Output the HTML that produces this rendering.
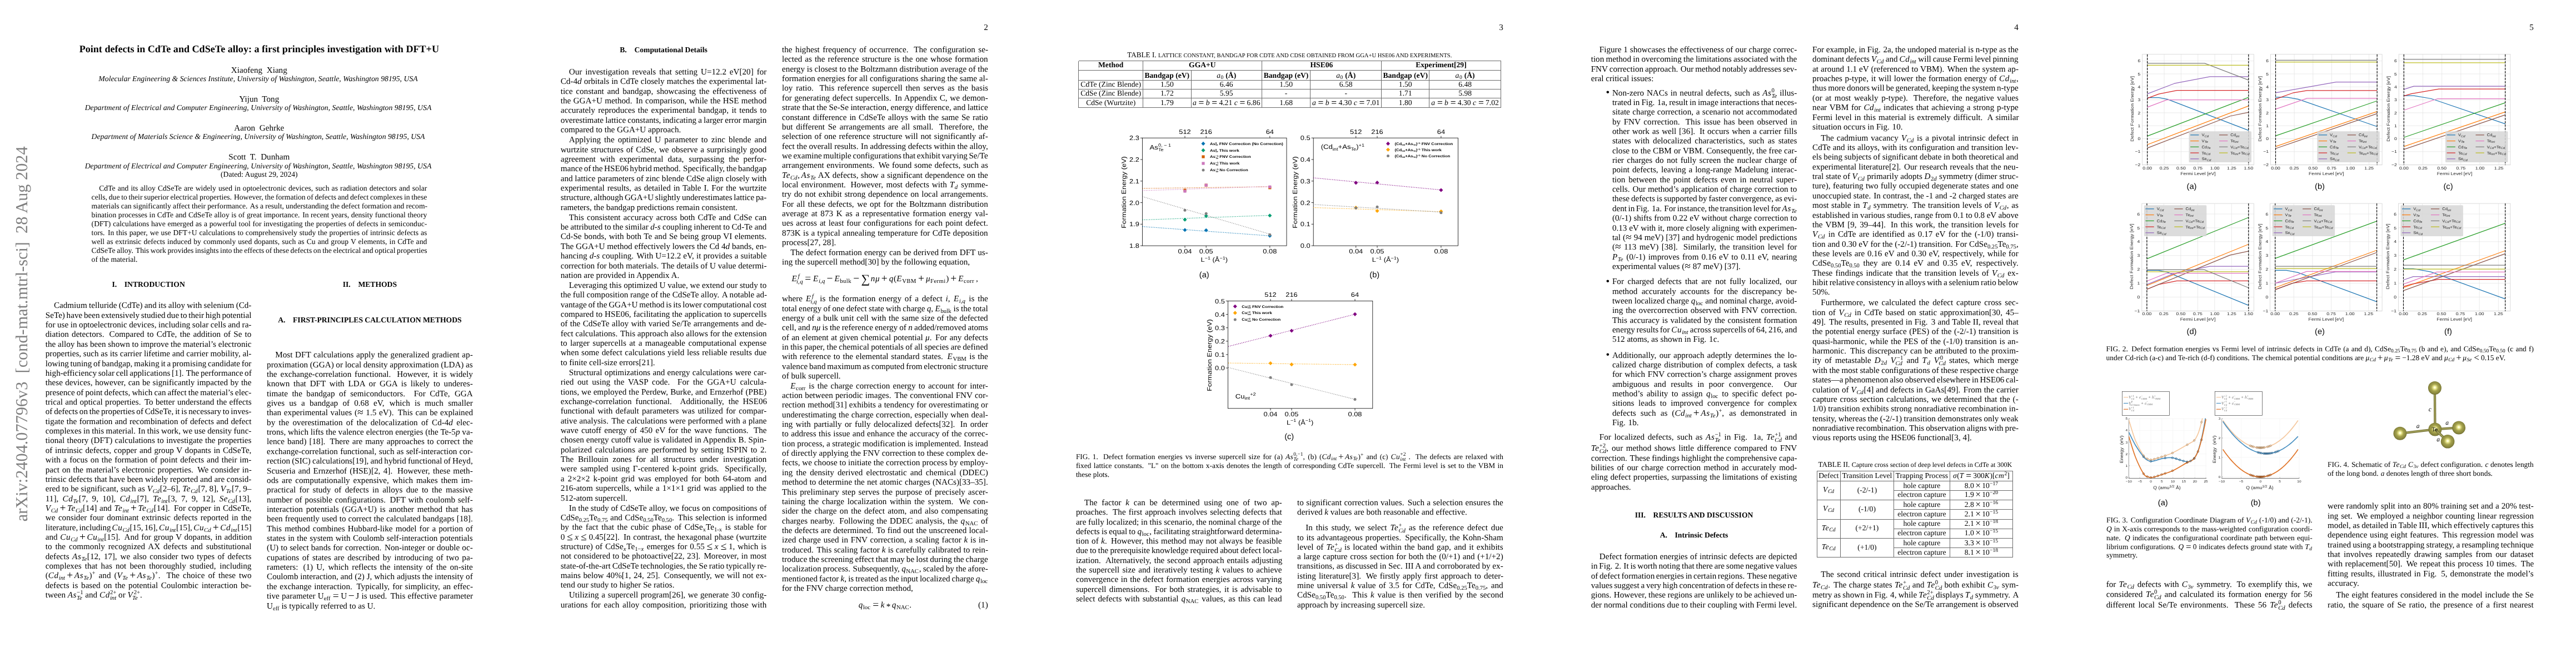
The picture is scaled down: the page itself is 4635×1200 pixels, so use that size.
<!DOCTYPE html>
<html><head><meta charset="utf-8"><title>paper</title>
<style>
html,body{margin:0;padding:0}
body{background:#fff;width:4635px;height:1200px;position:relative;overflow:hidden;font-family:"Liberation Serif",serif;color:#000;text-rendering:geometricPrecision;transform:translateZ(0)}
.l{position:absolute;white-space:nowrap;line-height:30px;height:30px}
.l i{font-style:italic}
.l sub,.l sup{font-size:70%;line-height:0}
.l sub{vertical-align:-0.24em}
.m sub{margin-right:.06em}
.l sup{vertical-align:0.52em}
.st{display:inline-block;font-size:70%;line-height:.95;vertical-align:-0.36em;text-align:left}
.st>span{display:block}
.ms{display:inline-block;width:.17em}
.rs{display:inline-block;width:.24em}
.op{font-size:128%;line-height:0;position:relative;top:.05em}
.m i{letter-spacing:.04em}
.m sub i,.m sup i,.m .st i{letter-spacing:0}
.st .ic{margin-left:.12em}
.st .ic+.sb{margin-left:-.12em}
.ast{position:relative;top:.2em}
.m sub,.m sup,.m .st{font-size:71%}
.ts{display:inline-block;width:.167em}
.sum{font-size:145%;display:inline-block;vertical-align:-0.14em;line-height:0;margin:0 .06em 0 .02em}
.b{font-weight:bold}
svg{position:absolute;overflow:visible}
svg text{font-family:"Liberation Sans",sans-serif}
</style></head>
<body>
<div class="l b" style="top:73px;font-size:18.1px;left:-133.70px;width:1200px;text-align:center;">Point defects in CdTe and CdSeTe alloy: a first principles investigation with DFT+U</div>
<div class="l" style="top:112px;font-size:15.15px;left:-133.70px;width:1200px;text-align:center;">Xiaofeng&nbsp; Xiang</div>
<div class="l" style="top:127px;font-size:13.77px;left:-135.50px;width:1200px;text-align:center;"><i>Molecular Engineering &amp; Sciences Institute, University of Washington, Seattle, Washington 98195, USA</i></div>
<div class="l" style="top:164px;font-size:15.15px;left:-133.70px;width:1200px;text-align:center;">Yijun&nbsp; Tong</div>
<div class="l" style="top:179px;font-size:13.77px;left:-135.50px;width:1200px;text-align:center;"><i>Department of Electrical and Computer Engineering, University of Washington, Seattle, Washington 98195, USA</i></div>
<div class="l" style="top:216px;font-size:15.15px;left:-133.70px;width:1200px;text-align:center;">Aaron&nbsp; Gehrke</div>
<div class="l" style="top:231px;font-size:13.77px;left:-135.50px;width:1200px;text-align:center;"><i>Department of Materials Science &amp; Engineering, University of Washington, Seattle, Washington 98195, USA</i></div>
<div class="l" style="top:268px;font-size:15.15px;left:-133.70px;width:1200px;text-align:center;">Scott&nbsp; T.&nbsp; Dunham</div>
<div class="l" style="top:284px;font-size:13.77px;left:-135.50px;width:1200px;text-align:center;"><i>Department of Electrical and Computer Engineering, University of Washington, Seattle, Washington 98195, USA</i></div>
<div class="l" style="top:299px;font-size:13.64px;left:-133.70px;width:1200px;text-align:center;">(Dated: August 29, 2024)</div>
<div class="l" style="top:324px;font-size:13.64px;left:178.24px;word-spacing:0.735px;">CdTe and its alloy CdSeTe are widely used in optoelectronic devices, <span style="margin-left:0.18px"></span>such as radiation detectors and solar</div>
<div class="l" style="top:340px;font-size:13.64px;left:164.60px;word-spacing:-0.710px;">cells, <span style="margin-left:0.14px"></span>due to their superior electrical properties. <span style="margin-left:1.29px"></span>However, <span style="margin-left:0.14px"></span>the formation of defects and defect complexes in these</div>
<div class="l" style="top:356px;font-size:13.64px;left:164.60px;word-spacing:-0.224px;">materials can significantly affect their performance. <span style="margin-left:0.97px"></span>As a result, <span style="margin-left:0.04px"></span>understanding the defect formation and recom-</div>
<div class="l" style="top:372px;font-size:13.64px;left:164.60px;word-spacing:0.175px;">bination processes in CdTe and CdSeTe alloy is of great importance. <span style="margin-left:1.17px"></span>In recent years, <span style="margin-left:0.04px"></span>density functional theory</div>
<div class="l" style="top:388px;font-size:13.64px;left:164.60px;word-spacing:0.334px;">(DFT) calculations have emerged as a powerful tool for investigating the properties of defects in semiconduc-</div>
<div class="l" style="top:404px;font-size:13.64px;left:164.60px;word-spacing:0.424px;">tors. <span style="margin-left:1.67px"></span>In this paper, <span style="margin-left:0.11px"></span>we use DFT+U calculations to comprehensively study the properties of intrinsic defects as</div>
<div class="l" style="top:420px;font-size:13.64px;left:164.60px;word-spacing:0.639px;">well as extrinsic defects induced by commonly used dopants, <span style="margin-left:0.16px"></span>such as Cu and group V elements, <span style="margin-left:0.16px"></span>in CdTe and</div>
<div class="l" style="top:436px;font-size:13.64px;left:164.60px;word-spacing:-0.751px;">CdSeTe alloy. <span style="margin-left:1.32px"></span>This work provides insights into the effects of these defects on the electrical and optical properties</div>
<div class="l" style="top:452px;font-size:13.64px;left:164.60px;">of the material.</div>
<div class="l b" style="top:497px;font-size:13.64px;left:-332.90px;width:1200px;text-align:center;">I.<span style="display:inline-block;width:1em"></span>INTRODUCTION</div>
<div class="l b" style="top:497px;font-size:13.64px;left:65.40px;width:1200px;text-align:center;">II.<span style="display:inline-block;width:1em"></span>METHODS</div>
<div class="l b" style="top:561px;font-size:13.64px;left:65.40px;width:1200px;text-align:center;">A.<span style="display:inline-block;width:1em"></span>FIRST-PRINCIPLES CALCULATION METHODS</div>
<div class="l" style="top:535px;font-size:15.15px;left:96.95px;word-spacing:-0.430px;">Cadmium telluride (CdTe) and its alloy with selenium (Cd-</div>
<div class="l" style="top:553px;font-size:15.15px;left:81.80px;word-spacing:-1.077px;">SeTe) have been extensively studied due to their high potential</div>
<div class="l" style="top:570px;font-size:15.15px;left:81.80px;word-spacing:-0.216px;">for use in optoelectronic devices, <span style="margin-left:0.04px"></span>including solar cells and ra-</div>
<div class="l" style="top:587px;font-size:15.15px;left:81.80px;word-spacing:1.446px;">diation detectors. <span style="margin-left:3.80px"></span>Compared to CdTe, <span style="margin-left:0.36px"></span>the addition of Se to</div>
<div class="l" style="top:605px;font-size:15.15px;left:81.80px;word-spacing:-0.072px;">the alloy has been shown to improve the material’s electronic</div>
<div class="l" style="top:622px;font-size:15.15px;left:81.80px;word-spacing:-0.056px;">properties, <span style="margin-left:0.01px"></span>such as its carrier lifetime and carrier mobility, <span style="margin-left:0.01px"></span>al-</div>
<div class="l" style="top:640px;font-size:15.15px;left:81.80px;word-spacing:-1.082px;">lowing tuning of bandgap, <span style="margin-left:0.22px"></span>making it a promising candidate for</div>
<div class="l" style="top:657px;font-size:15.15px;left:81.80px;word-spacing:-1.149px;">high-efficiency solar cell applications [1]. <span style="margin-left:1.68px"></span>The performance of</div>
<div class="l" style="top:674px;font-size:15.15px;left:81.80px;word-spacing:0.541px;">these devices, <span style="margin-left:0.14px"></span>however, <span style="margin-left:0.14px"></span>can be significantly impacted by the</div>
<div class="l" style="top:692px;font-size:15.15px;left:81.80px;word-spacing:-0.752px;">presence of point defects, <span style="margin-left:0.15px"></span>which can affect the material’s elec-</div>
<div class="l" style="top:709px;font-size:15.15px;left:81.80px;word-spacing:0.596px;">trical and optical properties. <span style="margin-left:2.10px"></span>To better understand the effects</div>
<div class="l" style="top:726px;font-size:15.15px;left:81.80px;word-spacing:-1.015px;">of defects on the properties of CdSeTe, <span style="margin-left:0.20px"></span>it is necessary to inves-</div>
<div class="l" style="top:744px;font-size:15.15px;left:81.80px;word-spacing:0.606px;">tigate the formation and recombination of defects and defect</div>
<div class="l" style="top:761px;font-size:15.15px;left:81.80px;word-spacing:-0.313px;">complexes in this material. <span style="margin-left:1.12px"></span>In this work, <span style="margin-left:0.06px"></span>we use density func-</div>
<div class="l" style="top:778px;font-size:15.15px;left:81.80px;word-spacing:0.505px;">tional theory (DFT) calculations to investigate the properties</div>
<div class="l" style="top:796px;font-size:15.15px;left:81.80px;word-spacing:0.918px;">of intrinsic defects, <span style="margin-left:0.23px"></span>copper and group V dopants in CdSeTe,</div>
<div class="l" style="top:813px;font-size:15.15px;left:81.80px;word-spacing:1.086px;">with a focus on the formation of point defects and their im-</div>
<div class="l" style="top:831px;font-size:15.15px;left:81.80px;word-spacing:0.921px;">pact on the material’s electronic properties. <span style="margin-left:2.75px"></span>We consider in-</div>
<div class="l" style="top:848px;font-size:15.15px;left:81.80px;word-spacing:-0.069px;">trinsic defects that have been widely reported and are consid-</div>
<div class="l" style="top:865px;font-size:15.15px;left:81.80px;word-spacing:0.013px;">ered to be significant, such as <span class=m><i>V</i><sub><i>Cd</i></sub></span>[2–6], <span class=m><i>Te</i><sub><i>Cd</i></sub></span>[7, 8], <span class=m><i>V</i><sub><i>Te</i></sub></span>[7, 9–</div>
<div class="l" style="top:883px;font-size:15.15px;left:81.80px;word-spacing:2.844px;">11], <span style="margin-left:0.71px"></span><span class=m><i>Cd</i><sub><i>Te</i></sub></span>[7, <span style="margin-left:0.71px"></span>9, <span style="margin-left:0.71px"></span>10], <span style="margin-left:0.71px"></span><span class=m><i>Cd</i><sub><i>int</i></sub></span>[7], <span style="margin-left:0.71px"></span><span class=m><i>Te</i><sub><i>int</i></sub></span>[3, <span style="margin-left:0.71px"></span>7, <span style="margin-left:0.71px"></span>9, <span style="margin-left:0.71px"></span>12], <span style="margin-left:0.71px"></span><span class=m><i>Se</i><sub><i>Cd</i></sub></span>[13],</div>
<div class="l" style="top:900px;font-size:15.15px;left:81.80px;word-spacing:0.864px;"><span class=m><i>V</i><sub><i>Cd</i></sub><span class=ms></span><span class=op>+</span><span class=ms></span><i>Te</i><sub><i>Cd</i></sub></span>[14] and <span class=m><i>Te</i><sub><i>int</i></sub><span class=ms></span><span class=op>+</span><span class=ms></span><i>Te</i><sub><i>Cd</i></sub></span>[14]. <span style="margin-left:2.64px"></span>For copper in CdSeTe,</div>
<div class="l" style="top:917px;font-size:15.15px;left:81.80px;word-spacing:1.653px;">we consider four dominant extrinsic defects reported in the</div>
<div class="l" style="top:935px;font-size:15.15px;left:81.80px;word-spacing:-1.900px;letter-spacing:-0.003px;">literature, <span style="margin-left:0.38px"></span>including <span class=m><i>Cu</i><sub><i>Cd</i></sub></span>[15, <span style="margin-left:0.38px"></span>16], <span style="margin-left:0.38px"></span><span class=m><i>Cu</i><sub><i>int</i></sub></span>[15], <span style="margin-left:0.38px"></span><span class=m><i>Cu</i><sub><i>Cd</i></sub><span class=ms></span><span class=op>+</span><span class=ms></span><i>Cd</i><sub><i>int</i></sub></span>[15]</div>
<div class="l" style="top:952px;font-size:15.15px;left:81.80px;word-spacing:0.839px;">and <span class=m><i>Cu</i><sub><i>Cd</i></sub><span class=ms></span><span class=op>+</span><span class=ms></span><i>Cu</i><sub><i>int</i></sub></span>[15]. <span style="margin-left:2.59px"></span>And for group V dopants, <span style="margin-left:0.21px"></span>in addition</div>
<div class="l" style="top:969px;font-size:15.15px;left:81.80px;word-spacing:2.184px;">to the commonly recognized AX defects and substitutional</div>
<div class="l" style="top:987px;font-size:15.15px;left:81.80px;word-spacing:1.626px;">defects <span class=m><i>As</i><sub><i>Te</i></sub></span>[12, <span style="margin-left:0.41px"></span>17], <span style="margin-left:0.41px"></span>we also consider two types of defects</div>
<div class="l" style="top:1004px;font-size:15.15px;left:81.80px;word-spacing:2.397px;">complexes that has not been thoroughly studied, <span style="margin-left:0.60px"></span>including</div>
<div class="l" style="top:1021px;font-size:15.15px;left:81.80px;word-spacing:2.131px;"><span class=m>(<i>Cd</i><sub><i>int</i></sub><span class=ms></span><span class=op>+</span><span class=ms></span><i>As</i><sub><i>Te</i></sub>)<sup>+</sup></span> and <span class=m>(<i>V</i><sub><i>Te</i></sub><span class=ms></span><span class=op>+</span><span class=ms></span><i>As</i><sub><i>Te</i></sub>)<sup>+</sup></span>. <span style="margin-left:5.17px"></span>The choice of these two</div>
<div class="l" style="top:1039px;font-size:15.15px;left:81.80px;word-spacing:1.862px;">defects is based on the potential Coulombic interaction be-</div>
<div class="l" style="top:1056px;font-size:15.15px;left:81.80px;">tween <span class=m><i>As</i><span class=st><span class="su">−1</span><span class=sb><i>Te</i></span></span></span> and <span class=m><i>Cd</i><span class=st><span class="su">2+</span><span class=sb><i>int</i></span></span></span> or <span class=m><i>V</i><span class=st><span class="su ic">2+</span><span class=sb><i>Te</i></span></span></span>.</div>
<div class="l" style="top:624px;font-size:15.15px;left:495.25px;word-spacing:0.906px;">Most DFT calculations apply the generalized gradient ap-</div>
<div class="l" style="top:642px;font-size:15.15px;left:480.10px;word-spacing:-0.097px;">proximation (GGA) or local density approximation (LDA) as</div>
<div class="l" style="top:659px;font-size:15.15px;left:480.10px;word-spacing:2.078px;">the exchange-correlation functional. <span style="margin-left:5.07px"></span>However, <span style="margin-left:0.52px"></span>it is widely</div>
<div class="l" style="top:676px;font-size:15.15px;left:480.10px;word-spacing:3.023px;">known that DFT with LDA or GGA is likely to underes-</div>
<div class="l" style="top:694px;font-size:15.15px;left:480.10px;word-spacing:3.669px;">timate the bandgap of semiconductors. <span style="margin-left:8.25px"></span>For CdTe, <span style="margin-left:0.92px"></span>GGA</div>
<div class="l" style="top:711px;font-size:15.15px;left:480.10px;word-spacing:4.430px;">gives us a bandgap of 0.68 eV, <span style="margin-left:1.11px"></span>which is much smaller</div>
<div class="l" style="top:728px;font-size:15.15px;left:480.10px;word-spacing:0.904px;">than experimental values (<span class=m><span class=op>≈</span></span> 1.5 eV). <span style="margin-left:2.72px"></span>This can be explained</div>
<div class="l" style="top:746px;font-size:15.15px;left:480.10px;word-spacing:2.598px;">by the overestimation of the delocalization of Cd-4<i>d</i> elec-</div>
<div class="l" style="top:763px;font-size:15.15px;left:480.10px;word-spacing:0.060px;">trons, <span style="margin-left:0.01px"></span>which lifts the valence electron energies (the Te-5<i>p</i> va-</div>
<div class="l" style="top:780px;font-size:15.15px;left:480.10px;word-spacing:1.151px;">lence band) [18]. <span style="margin-left:3.21px"></span>There are many approaches to correct the</div>
<div class="l" style="top:798px;font-size:15.15px;left:480.10px;word-spacing:0.504px;">exchange-correlation functional, <span style="margin-left:0.13px"></span>such as self-interaction cor-</div>
<div class="l" style="top:815px;font-size:15.15px;left:480.10px;word-spacing:-0.716px;">rection (SIC) calculations[19], <span style="margin-left:0.14px"></span>and hybrid functional of Heyd,</div>
<div class="l" style="top:833px;font-size:15.15px;left:480.10px;word-spacing:1.361px;">Scuseria and Ernzerhof (HSE)[2, <span style="margin-left:0.34px"></span>4]. <span style="margin-left:3.63px"></span>However, <span style="margin-left:0.34px"></span>these meth-</div>
<div class="l" style="top:850px;font-size:15.15px;left:480.10px;word-spacing:2.053px;">ods are computationally expensive, <span style="margin-left:0.51px"></span>which makes them im-</div>
<div class="l" style="top:867px;font-size:15.15px;left:480.10px;word-spacing:2.582px;">practical for study of defects in alloys due to the massive</div>
<div class="l" style="top:885px;font-size:15.15px;left:480.10px;word-spacing:0.924px;">number of possible configurations. <span style="margin-left:2.76px"></span>DFT with coulomb self-</div>
<div class="l" style="top:902px;font-size:15.15px;left:480.10px;word-spacing:2.048px;">interaction potentials (GGA+U) is another method that has</div>
<div class="l" style="top:919px;font-size:15.15px;left:480.10px;word-spacing:0.239px;">been frequently used to correct the calculated bandgaps [18].</div>
<div class="l" style="top:937px;font-size:15.15px;left:480.10px;word-spacing:1.333px;">This method combines Hubbard-like model for a portion of</div>
<div class="l" style="top:954px;font-size:15.15px;left:480.10px;word-spacing:0.619px;">states in the system with Coulomb self-interaction potentials</div>
<div class="l" style="top:971px;font-size:15.15px;left:480.10px;word-spacing:0.357px;">(U) to select bands for correction. <span style="margin-left:1.62px"></span>Non-integer or double oc-</div>
<div class="l" style="top:989px;font-size:15.15px;left:480.10px;word-spacing:1.796px;">cupations of states are described by introducing of two pa-</div>
<div class="l" style="top:1006px;font-size:15.15px;left:480.10px;word-spacing:2.186px;">rameters: <span style="margin-left:3.10px"></span>(1) U, <span style="margin-left:0.55px"></span>which reflects the intensity of the on-site</div>
<div class="l" style="top:1023px;font-size:15.15px;left:480.10px;word-spacing:0.014px;">Coulomb interaction, and (2) J, which adjusts the intensity of</div>
<div class="l" style="top:1041px;font-size:15.15px;left:480.10px;word-spacing:0.967px;">the exchange interaction. <span style="margin-left:2.84px"></span>Typically, <span style="margin-left:0.24px"></span>for simplicity, <span style="margin-left:0.24px"></span>an effec-</div>
<div class="l" style="top:1058px;font-size:15.15px;left:480.10px;word-spacing:0.452px;">tive parameter <span class=m>U<sub>eff</sub><span class=rs></span><span class=op>=</span><span class=rs></span>U<span class=ms></span><span class=op>−</span><span class=ms></span>J</span> is used. <span style="margin-left:1.81px"></span>This effective parameter</div>
<div class="l" style="top:1076px;font-size:15.15px;left:480.10px;">U<sub>eff</sub> is typically referred to as U.</div>
<div class="l" style="top:35px;font-size:15.15px;left:577.90px;width:1200px;text-align:right;">2</div>
<div class="l b" style="top:75px;font-size:13.64px;left:594.00px;width:1200px;text-align:center;">B.<span style="display:inline-block;width:1em"></span>Computational Details</div>
<div class="l" style="top:115px;font-size:15.15px;left:1023.85px;word-spacing:2.104px;">Our investigation reveals that setting U=12.2 eV[20] for</div>
<div class="l" style="top:132px;font-size:15.15px;left:1008.70px;word-spacing:0.311px;">Cd-4<i>d</i> orbitals in CdTe closely matches the experimental lat-</div>
<div class="l" style="top:150px;font-size:15.15px;left:1008.70px;word-spacing:1.979px;">tice constant and bandgap, <span style="margin-left:0.49px"></span>showcasing the effectiveness of</div>
<div class="l" style="top:167px;font-size:15.15px;left:1008.70px;word-spacing:0.609px;">the GGA+U method. <span style="margin-left:2.13px"></span>In comparison, <span style="margin-left:0.15px"></span>while the HSE method</div>
<div class="l" style="top:184px;font-size:15.15px;left:1008.70px;word-spacing:1.479px;">accurately reproduces the experimental bandgap, <span style="margin-left:0.37px"></span>it tends to</div>
<div class="l" style="top:202px;font-size:15.15px;left:1008.70px;word-spacing:-0.691px;">overestimate lattice constants, <span style="margin-left:0.14px"></span>indicating a larger error margin</div>
<div class="l" style="top:219px;font-size:15.15px;left:1008.70px;">compared to the GGA+U approach.</div>
<div class="l" style="top:237px;font-size:15.15px;left:1023.85px;word-spacing:2.281px;">Applying the optimized U parameter to zinc blende and</div>
<div class="l" style="top:255px;font-size:15.15px;left:1008.70px;word-spacing:1.037px;">wurtzite structures of CdSe, <span style="margin-left:0.26px"></span>we observe a surprisingly good</div>
<div class="l" style="top:272px;font-size:15.15px;left:1008.70px;word-spacing:4.119px;">agreement with experimental data, <span style="margin-left:1.03px"></span>surpassing the perfor-</div>
<div class="l" style="top:289px;font-size:15.15px;left:1008.70px;word-spacing:-1.204px;">mance of the HSE06 hybrid method. <span style="margin-left:1.71px"></span>Specifically, <span style="margin-left:0.24px"></span>the bandgap</div>
<div class="l" style="top:307px;font-size:15.15px;left:1008.70px;word-spacing:0.022px;">and lattice parameters of zinc blende CdSe align closely with</div>
<div class="l" style="top:324px;font-size:15.15px;left:1008.70px;word-spacing:1.165px;">experimental results, <span style="margin-left:0.29px"></span>as detailed in Table I. For the wurtzite</div>
<div class="l" style="top:341px;font-size:15.15px;left:1008.70px;word-spacing:-1.155px;">structure, <span style="margin-left:0.23px"></span>although GGA+U slightly underestimates lattice pa-</div>
<div class="l" style="top:359px;font-size:15.15px;left:1008.70px;">rameters, the bandgap predictions remain consistent.</div>
<div class="l" style="top:377px;font-size:15.15px;left:1023.85px;word-spacing:1.361px;">This consistent accuracy across both CdTe and CdSe can</div>
<div class="l" style="top:394px;font-size:15.15px;left:1008.70px;word-spacing:-0.427px;">be attributed to the similar <i>d</i>-<i>s</i> coupling inherent to Cd-Te and</div>
<div class="l" style="top:411px;font-size:15.15px;left:1008.70px;word-spacing:0.702px;">Cd-Se bonds, <span style="margin-left:0.18px"></span>with both Te and Se being group VI elements.</div>
<div class="l" style="top:429px;font-size:15.15px;left:1008.70px;word-spacing:0.078px;">The GGA+U method effectively lowers the Cd 4<i>d</i> bands, <span style="margin-left:0.02px"></span>en-</div>
<div class="l" style="top:446px;font-size:15.15px;left:1008.70px;word-spacing:0.281px;">hancing <i>d</i>-<i>s</i> coupling. <span style="margin-left:1.47px"></span>With U=12.2 eV, <span style="margin-left:0.07px"></span>it provides a suitable</div>
<div class="l" style="top:464px;font-size:15.15px;left:1008.70px;word-spacing:-0.001px;">correction for both materials. <span style="margin-left:0.91px"></span>The details of U value determi-</div>
<div class="l" style="top:481px;font-size:15.15px;left:1008.70px;">nation are provided in Appendix A.</div>
<div class="l" style="top:499px;font-size:15.15px;left:1023.85px;word-spacing:-0.031px;">Leveraging this optimized U value, we extend our study to</div>
<div class="l" style="top:516px;font-size:15.15px;left:1008.70px;word-spacing:-0.132px;">the full composition range of the CdSeTe alloy. <span style="margin-left:1.00px"></span>A notable ad-</div>
<div class="l" style="top:534px;font-size:15.15px;left:1008.70px;word-spacing:-1.025px;">vantage of the GGA+U method is its lower computational cost</div>
<div class="l" style="top:551px;font-size:15.15px;left:1008.70px;word-spacing:0.197px;">compared to HSE06, <span style="margin-left:0.05px"></span>facilitating the application to supercells</div>
<div class="l" style="top:568px;font-size:15.15px;left:1008.70px;word-spacing:0.631px;">of the CdSeTe alloy with varied Se/Te arrangements and de-</div>
<div class="l" style="top:586px;font-size:15.15px;left:1008.70px;word-spacing:0.039px;">fect calculations. <span style="margin-left:0.99px"></span>This approach also allows for the extension</div>
<div class="l" style="top:603px;font-size:15.15px;left:1008.70px;word-spacing:1.633px;">to larger supercells at a manageable computational expense</div>
<div class="l" style="top:620px;font-size:15.15px;left:1008.70px;word-spacing:0.813px;">when some defect calculations yield less reliable results due</div>
<div class="l" style="top:638px;font-size:15.15px;left:1008.70px;">to finite cell-size errors[21].</div>
<div class="l" style="top:656px;font-size:15.15px;left:1023.85px;word-spacing:0.478px;">Structural optimizations and energy calculations were car-</div>
<div class="l" style="top:673px;font-size:15.15px;left:1008.70px;word-spacing:3.039px;">ried out using the VASP code. <span style="margin-left:6.99px"></span>For the GGA+U calcula-</div>
<div class="l" style="top:691px;font-size:15.15px;left:1008.70px;word-spacing:0.228px;">tions, <span style="margin-left:0.06px"></span>we employed the Perdew, <span style="margin-left:0.06px"></span>Burke, <span style="margin-left:0.06px"></span>and Ernzerhof (PBE)</div>
<div class="l" style="top:708px;font-size:15.15px;left:1008.70px;word-spacing:3.336px;">exchange-correlation functional. <span style="margin-left:7.58px"></span>Additionally, <span style="margin-left:0.83px"></span>the HSE06</div>
<div class="l" style="top:725px;font-size:15.15px;left:1008.70px;word-spacing:1.514px;">functional with default parameters was utilized for compar-</div>
<div class="l" style="top:743px;font-size:15.15px;left:1008.70px;word-spacing:0.294px;">ative analysis. <span style="margin-left:1.50px"></span>The calculations were performed with a plane</div>
<div class="l" style="top:760px;font-size:15.15px;left:1008.70px;word-spacing:1.575px;">wave cutoff energy of 450 eV for the wave functions. <span style="margin-left:4.06px"></span>The</div>
<div class="l" style="top:777px;font-size:15.15px;left:1008.70px;word-spacing:0.218px;">chosen energy cutoff value is validated in Appendix B. Spin-</div>
<div class="l" style="top:795px;font-size:15.15px;left:1008.70px;word-spacing:1.704px;">polarized calculations are performed by setting ISPIN to 2.</div>
<div class="l" style="top:812px;font-size:15.15px;left:1008.70px;word-spacing:3.867px;">The Brillouin zones for all structures under investigation</div>
<div class="l" style="top:829px;font-size:15.15px;left:1008.70px;word-spacing:2.039px;">were sampled using Γ-centered k-point grids. <span style="margin-left:4.99px"></span>Specifically,</div>
<div class="l" style="top:847px;font-size:15.15px;left:1008.70px;word-spacing:2.417px;">a 2×2×2 k-point grid was employed for both 64-atom and</div>
<div class="l" style="top:864px;font-size:15.15px;left:1008.70px;word-spacing:1.217px;">216-atom supercells, <span style="margin-left:0.30px"></span>while a 1×1×1 grid was applied to the</div>
<div class="l" style="top:882px;font-size:15.15px;left:1008.70px;">512-atom supercell.</div>
<div class="l" style="top:900px;font-size:15.15px;left:1023.85px;word-spacing:0.128px;">In the study of CdSeTe alloy, <span style="margin-left:0.03px"></span>we focus on compositions of</div>
<div class="l" style="top:917px;font-size:15.15px;left:1008.70px;word-spacing:0.702px;">CdSe<sub>0.25</sub>Te<sub>0.75</sub> and CdSe<sub>0.50</sub>Te<sub>0.50</sub>. <span style="margin-left:2.31px"></span>This selection is informed</div>
<div class="l" style="top:934px;font-size:15.15px;left:1008.70px;word-spacing:1.938px;">by the fact that the cubic phase of CdSe<sub>x</sub>Te<sub>1-x</sub> is stable for</div>
<div class="l" style="top:952px;font-size:15.15px;left:1008.70px;word-spacing:0.802px;"><span class=m>0<span class=rs></span><span class=op>≤</span><span class=rs></span><i>x</i><span class=rs></span><span class=op>≤</span><span class=rs></span>0.45</span>[22]. <span style="margin-left:2.51px"></span>In contrast, <span style="margin-left:0.20px"></span>the hexagonal phase (wurtzite</div>
<div class="l" style="top:969px;font-size:15.15px;left:1008.70px;word-spacing:1.038px;">structure) of CdSe<span class=m><sub><i>x</i></sub></span>Te<span class=m><sub>1−<i>x</i></sub></span> emerges for <span class=m>0.55<span class=rs></span><span class=op>≤</span><span class=rs></span><i>x</i><span class=rs></span><span class=op>≤</span><span class=rs></span>1</span>, <span style="margin-left:0.26px"></span>which is</div>
<div class="l" style="top:986px;font-size:15.15px;left:1008.70px;word-spacing:0.546px;">not considered to be photoactive[22, <span style="margin-left:0.14px"></span>23]. <span style="margin-left:2.00px"></span>Moreover, <span style="margin-left:0.14px"></span>in most</div>
<div class="l" style="top:1004px;font-size:15.15px;left:1008.70px;word-spacing:-0.741px;">state-of-the-art CdSeTe technologies, <span style="margin-left:0.15px"></span>the Se ratio typically re-</div>
<div class="l" style="top:1021px;font-size:15.15px;left:1008.70px;word-spacing:0.805px;">mains below 40%[1, <span style="margin-left:0.20px"></span>24, <span style="margin-left:0.20px"></span>25]. <span style="margin-left:2.52px"></span>Consequently, <span style="margin-left:0.20px"></span>we will not ex-</div>
<div class="l" style="top:1038px;font-size:15.15px;left:1008.70px;">tend our study to higher Se ratios.</div>
<div class="l" style="top:1056px;font-size:15.15px;left:1023.85px;word-spacing:0.782px;">Utilizing a supercell program[26], <span style="margin-left:0.20px"></span>we generate 30 config-</div>
<div class="l" style="top:1074px;font-size:15.15px;left:1008.70px;word-spacing:1.934px;">urations for each alloy composition, <span style="margin-left:0.48px"></span>prioritizing those with</div>
<div class="l" style="top:75px;font-size:15.15px;left:1407.10px;word-spacing:1.683px;">the highest frequency of occurrence. <span style="margin-left:4.27px"></span>The configuration se-</div>
<div class="l" style="top:92px;font-size:15.15px;left:1407.10px;word-spacing:1.240px;">lected as the reference structure is the one whose formation</div>
<div class="l" style="top:110px;font-size:15.15px;left:1407.10px;word-spacing:-0.044px;">energy is closest to the Boltzmann distribution average of the</div>
<div class="l" style="top:127px;font-size:15.15px;left:1407.10px;word-spacing:0.007px;">formation energies for all configurations sharing the same al-</div>
<div class="l" style="top:144px;font-size:15.15px;left:1407.10px;word-spacing:1.988px;">loy ratio. <span style="margin-left:4.88px"></span>This reference supercell then serves as the basis</div>
<div class="l" style="top:162px;font-size:15.15px;left:1407.10px;word-spacing:0.709px;">for generating defect supercells. <span style="margin-left:2.33px"></span>In Appendix C, <span style="margin-left:0.18px"></span>we demon-</div>
<div class="l" style="top:179px;font-size:15.15px;left:1407.10px;word-spacing:-0.283px;">strate that the Se-Se interaction, <span style="margin-left:0.06px"></span>energy difference, <span style="margin-left:0.06px"></span>and lattice</div>
<div class="l" style="top:197px;font-size:15.15px;left:1407.10px;word-spacing:1.101px;">constant difference in CdSeTe alloys with the same Se ratio</div>
<div class="l" style="top:214px;font-size:15.15px;left:1407.10px;word-spacing:1.915px;">but different Se arrangements are all small. <span style="margin-left:4.74px"></span>Therefore, <span style="margin-left:0.48px"></span>the</div>
<div class="l" style="top:231px;font-size:15.15px;left:1407.10px;word-spacing:0.921px;">selection of one reference structure will not significantly af-</div>
<div class="l" style="top:249px;font-size:15.15px;left:1407.10px;word-spacing:-0.170px;">fect the overall results. <span style="margin-left:1.02px"></span>In addressing defects within the alloy,</div>
<div class="l" style="top:266px;font-size:15.15px;left:1407.10px;word-spacing:-1.146px;">we examine multiple configurations that exhibit varying Se/Te</div>
<div class="l" style="top:283px;font-size:15.15px;left:1407.10px;word-spacing:0.811px;">arrangement environments. <span style="margin-left:2.53px"></span>We found some defects, <span style="margin-left:0.20px"></span>such as</div>
<div class="l" style="top:301px;font-size:15.15px;left:1407.10px;word-spacing:0.448px;"><span class=m><i>Te</i><sub><i>Cd</i></sub></span>,<span class=ts></span><span class=m><i>As</i><sub><i>Te</i></sub></span> AX defects, <span style="margin-left:0.11px"></span>show a significant dependence on the</div>
<div class="l" style="top:318px;font-size:15.15px;left:1407.10px;word-spacing:1.266px;">local environment. <span style="margin-left:3.44px"></span>However, <span style="margin-left:0.32px"></span>most defects with <span class=m><i>T</i><sub><i>d</i></sub></span> symme-</div>
<div class="l" style="top:335px;font-size:15.15px;left:1407.10px;word-spacing:0.970px;">try do not exhibit strong dependence on local arrangements.</div>
<div class="l" style="top:353px;font-size:15.15px;left:1407.10px;word-spacing:1.425px;">For all these defects, <span style="margin-left:0.36px"></span>we opt for the Boltzmann distribution</div>
<div class="l" style="top:370px;font-size:15.15px;left:1407.10px;word-spacing:1.832px;">average at 873 K as a representative formation energy val-</div>
<div class="l" style="top:387px;font-size:15.15px;left:1407.10px;word-spacing:1.098px;">ues across at least four configurations for each point defect.</div>
<div class="l" style="top:405px;font-size:15.15px;left:1407.10px;word-spacing:0.522px;">873K is a typical annealing temperature for CdTe deposition</div>
<div class="l" style="top:422px;font-size:15.15px;left:1407.10px;">process[27, 28].</div>
<div class="l" style="top:440px;font-size:15.15px;left:1422.25px;word-spacing:0.362px;">The defect formation energy can be derived from DFT us-</div>
<div class="l" style="top:457px;font-size:15.15px;left:1407.10px;">ing the supercell method[30] by the following equation,</div>
<div class="l" style="top:487px;font-size:15.15px;left:992.40px;width:1200px;text-align:center;letter-spacing:0.38px;"><span class=m><i>E</i><span class=st><span class="su ic"><i>f</i></span><span class=sb><i>i</i>,<i>q</i></span></span><span class=rs></span><span class=op>=</span><span class=rs></span><i>E</i><sub><i>i</i>,<i>q</i></sub><span class=ms></span><span class=op>−</span><span class=ms></span><i>E</i><sub>bulk</sub><span class=ms></span><span class=op>−</span><span class=ms></span><span class=sum>∑</span><i>n</i><i>μ</i><span class=ms></span><span class=op>+</span><span class=ms></span><i>q</i>(<i>E</i><sub>VBM</sub><span class=ms></span><span class=op>+</span><span class=ms></span><i>μ</i><sub>Fermi</sub>)<span class=ms></span><span class=op>+</span><span class=ms></span><i>E</i><sub>corr</sub><span class=ms></span>,</span></div>
<div class="l" style="top:523px;font-size:15.15px;left:1407.10px;word-spacing:2.026px;">where <span class=m><i>E</i><span class=st><span class="su ic"><i>f</i></span><span class=sb><i>i</i>,<i>q</i></span></span></span> is the formation energy of a defect <i>i</i>, <span style="margin-left:0.51px"></span><span class=m><i>E</i><sub><i>i</i>,<i>q</i></sub></span> is the</div>
<div class="l" style="top:541px;font-size:15.15px;left:1407.10px;word-spacing:-0.454px;">total energy of one defect state with charge <i>q</i>, <span style="margin-left:0.09px"></span><span class=m><i>E</i><sub>bulk</sub></span> is the total</div>
<div class="l" style="top:558px;font-size:15.15px;left:1407.10px;word-spacing:0.846px;">energy of a bulk unit cell with the same size of the defected</div>
<div class="l" style="top:575px;font-size:15.15px;left:1407.10px;word-spacing:-0.556px;">cell, <span style="margin-left:0.11px"></span>and <i>nμ</i> is the reference energy of <i>n</i> added/removed atoms</div>
<div class="l" style="top:593px;font-size:15.15px;left:1407.10px;word-spacing:0.638px;">of an element at given chemical potential <i>μ</i>. <span style="margin-left:2.19px"></span>For any defects</div>
<div class="l" style="top:610px;font-size:15.15px;left:1407.10px;word-spacing:-0.518px;">in this paper, <span style="margin-left:0.10px"></span>the chemical potentials of all species are defined</div>
<div class="l" style="top:627px;font-size:15.15px;left:1407.10px;word-spacing:0.997px;">with reference to the elemental standard states. <span style="margin-left:2.90px"></span><span class=m><i>E</i><sub>VBM</sub></span> is the</div>
<div class="l" style="top:645px;font-size:15.15px;left:1407.10px;word-spacing:-1.053px;">valence band maximum as computed from electronic structure</div>
<div class="l" style="top:662px;font-size:15.15px;left:1407.10px;">of bulk supercell.</div>
<div class="l" style="top:680px;font-size:15.15px;left:1422.25px;word-spacing:1.513px;"><span class=m><i>E</i><sub>corr</sub></span> is the charge correction energy to account for inter-</div>
<div class="l" style="top:697px;font-size:15.15px;left:1407.10px;word-spacing:0.436px;">action between periodic images. <span style="margin-left:1.78px"></span>The conventional FNV cor-</div>
<div class="l" style="top:714px;font-size:15.15px;left:1407.10px;word-spacing:0.267px;">rection method[31] exhibits a tendency for overestimating or</div>
<div class="l" style="top:732px;font-size:15.15px;left:1407.10px;word-spacing:0.484px;">underestimating the charge correction, <span style="margin-left:0.12px"></span>especially when deal-</div>
<div class="l" style="top:749px;font-size:15.15px;left:1407.10px;word-spacing:1.611px;">ing with partially or fully delocalized defects[32]. <span style="margin-left:4.13px"></span>In order</div>
<div class="l" style="top:766px;font-size:15.15px;left:1407.10px;word-spacing:0.569px;">to address this issue and enhance the accuracy of the correc-</div>
<div class="l" style="top:784px;font-size:15.15px;left:1407.10px;word-spacing:-0.257px;">tion process, <span style="margin-left:0.05px"></span>a strategic modification is implemented. <span style="margin-left:1.08px"></span>Instead</div>
<div class="l" style="top:801px;font-size:15.15px;left:1407.10px;word-spacing:0.051px;">of directly applying the FNV correction to these complex de-</div>
<div class="l" style="top:818px;font-size:15.15px;left:1407.10px;word-spacing:-0.026px;">fects, we choose to initiate the correction process by employ-</div>
<div class="l" style="top:836px;font-size:15.15px;left:1407.10px;word-spacing:2.311px;">ing the density derived electrostatic and chemical (DDEC)</div>
<div class="l" style="top:853px;font-size:15.15px;left:1407.10px;word-spacing:0.365px;">method to determine the net atomic charges (NACs)[33–35].</div>
<div class="l" style="top:871px;font-size:15.15px;left:1407.10px;word-spacing:1.376px;">This preliminary step serves the purpose of precisely ascer-</div>
<div class="l" style="top:888px;font-size:15.15px;left:1407.10px;word-spacing:1.871px;">taining the charge localization within the system. <span style="margin-left:4.65px"></span>We con-</div>
<div class="l" style="top:905px;font-size:15.15px;left:1407.10px;word-spacing:1.460px;">sider the charge on the defect atom, <span style="margin-left:0.37px"></span>and also compensating</div>
<div class="l" style="top:923px;font-size:15.15px;left:1407.10px;word-spacing:1.197px;">charges nearby. <span style="margin-left:3.30px"></span>Following the DDEC analysis, <span style="margin-left:0.30px"></span>the <span class=m><i>q</i><sub>NAC</sub></span> of</div>
<div class="l" style="top:940px;font-size:15.15px;left:1407.10px;word-spacing:0.327px;">the defects are determined. <span style="margin-left:1.56px"></span>To find out the unscreened local-</div>
<div class="l" style="top:957px;font-size:15.15px;left:1407.10px;word-spacing:0.924px;">ized charge used in FNV correction, <span style="margin-left:0.23px"></span>a scaling factor <i>k</i> is in-</div>
<div class="l" style="top:975px;font-size:15.15px;left:1407.10px;word-spacing:0.304px;">troduced. <span style="margin-left:1.52px"></span>This scaling factor <i>k</i> is carefully calibrated to rein-</div>
<div class="l" style="top:992px;font-size:15.15px;left:1407.10px;word-spacing:-0.638px;">troduce the screening effect that may be lost during the charge</div>
<div class="l" style="top:1009px;font-size:15.15px;left:1407.10px;word-spacing:-0.663px;">localization process. <span style="margin-left:1.35px"></span>Subsequently, <span style="margin-left:0.13px"></span><span class=m><i>q</i><sub>NAC</sub></span>, <span style="margin-left:0.13px"></span>scaled by the afore-</div>
<div class="l" style="top:1027px;font-size:15.15px;left:1407.10px;word-spacing:-0.734px;">mentioned factor <i>k</i>, <span style="margin-left:0.15px"></span>is treated as the input localized charge <span class=m><i>q</i><sub>loc</sub></span></div>
<div class="l" style="top:1044px;font-size:15.15px;left:1407.10px;">for the FNV charge correction method,</div>
<div class="l" style="top:1074px;font-size:15.15px;left:992.40px;width:1200px;text-align:center;"><span class=m><i>q</i><sub>loc</sub><span class=rs></span><span class=op>=</span><span class=rs></span><i>k</i><span class=ms></span><span class=ast>*</span><span class=ms></span><i>q</i><sub>NAC</sub>.</span></div>
<div class="l" style="top:1074px;font-size:15.15px;left:577.70px;width:1200px;text-align:right;">(1)</div>
<div class="l" style="top:35px;font-size:15.15px;left:1504.90px;width:1200px;text-align:right;">3</div>
<div class="l" style="top:84px;font-size:13.2px;left:1720.30px;width:1200px;text-align:center;">TABLE I. <span style="font-size:80.3%">LATTICE CONSTANT, BANDGAP FOR CDTE AND CDSE OBTAINED FROM GGA+U HSE06 AND EXPERIMENTS.</span></div>
<div class="l b" style="top:102px;font-size:13.64px;left:1398.70px;width:1200px;text-align:center;">Method</div>
<div class="l b" style="top:102px;font-size:13.64px;left:1563.40px;width:1200px;text-align:center;">GGA+U</div>
<div class="l b" style="top:102px;font-size:13.64px;left:1777.95px;width:1200px;text-align:center;">HSE06</div>
<div class="l b" style="top:102px;font-size:13.64px;left:1992.95px;width:1200px;text-align:center;">Experiment[29]</div>
<div class="l b" style="top:121px;font-size:13.64px;left:1499.80px;width:1200px;text-align:center;">Bandgap (eV)</div>
<div class="l b" style="top:121px;font-size:13.64px;left:1606.70px;width:1200px;text-align:center;"><span style="font-weight:normal"><span class=m><i>a</i><sub>0</sub></span></span> (Å)</div>
<div class="l b" style="top:121px;font-size:13.64px;left:1714.05px;width:1200px;text-align:center;">Bandgap (eV)</div>
<div class="l b" style="top:121px;font-size:13.64px;left:1821.70px;width:1200px;text-align:center;"><span style="font-weight:normal"><span class=m><i>a</i><sub>0</sub></span></span> (Å)</div>
<div class="l b" style="top:121px;font-size:13.64px;left:1928.75px;width:1200px;text-align:center;">Bandgap (eV)</div>
<div class="l b" style="top:121px;font-size:13.64px;left:2036.10px;width:1200px;text-align:center;"><span style="font-weight:normal"><span class=m><i>a</i><sub>0</sub></span></span> (Å)</div>
<div class="l" style="top:137px;font-size:13.64px;left:1398.70px;width:1200px;text-align:center;">CdTe (Zinc Blende)</div>
<div class="l" style="top:137px;font-size:13.64px;left:1499.80px;width:1200px;text-align:center;">1.50</div>
<div class="l" style="top:137px;font-size:13.64px;left:1606.70px;width:1200px;text-align:center;">6.46</div>
<div class="l" style="top:137px;font-size:13.64px;left:1714.05px;width:1200px;text-align:center;">1.50</div>
<div class="l" style="top:137px;font-size:13.64px;left:1821.70px;width:1200px;text-align:center;">6.58</div>
<div class="l" style="top:137px;font-size:13.64px;left:1928.75px;width:1200px;text-align:center;">1.50</div>
<div class="l" style="top:137px;font-size:13.64px;left:2036.10px;width:1200px;text-align:center;">6.48</div>
<div class="l" style="top:153px;font-size:13.64px;left:1398.70px;width:1200px;text-align:center;">CdSe (Zinc Blende)</div>
<div class="l" style="top:153px;font-size:13.64px;left:1499.80px;width:1200px;text-align:center;">1.72</div>
<div class="l" style="top:153px;font-size:13.64px;left:1606.70px;width:1200px;text-align:center;">5.95</div>
<div class="l" style="top:153px;font-size:13.64px;left:1714.05px;width:1200px;text-align:center;">-</div>
<div class="l" style="top:153px;font-size:13.64px;left:1821.70px;width:1200px;text-align:center;">-</div>
<div class="l" style="top:153px;font-size:13.64px;left:1928.75px;width:1200px;text-align:center;">1.71</div>
<div class="l" style="top:153px;font-size:13.64px;left:2036.10px;width:1200px;text-align:center;">5.98</div>
<div class="l" style="top:170px;font-size:13.64px;left:1398.70px;width:1200px;text-align:center;">CdSe (Wurtzite)</div>
<div class="l" style="top:170px;font-size:13.64px;left:1499.80px;width:1200px;text-align:center;">1.79</div>
<div class="l" style="top:170px;font-size:13.64px;left:1606.70px;width:1200px;text-align:center;"><span class=m><i>a</i><span class=rs></span><span class=op>=</span><span class=rs></span><i>b</i><span class=rs></span><span class=op>=</span><span class=rs></span>4.21</span> <span class=m><i>c</i><span class=rs></span><span class=op>=</span><span class=rs></span>6.86</span></div>
<div class="l" style="top:170px;font-size:13.64px;left:1714.05px;width:1200px;text-align:center;">1.68</div>
<div class="l" style="top:170px;font-size:13.64px;left:1821.70px;width:1200px;text-align:center;"><span class=m><i>a</i><span class=rs></span><span class=op>=</span><span class=rs></span><i>b</i><span class=rs></span><span class=op>=</span><span class=rs></span>4.30</span> <span class=m><i>c</i><span class=rs></span><span class=op>=</span><span class=rs></span>7.01</span></div>
<div class="l" style="top:170px;font-size:13.64px;left:1928.75px;width:1200px;text-align:center;">1.80</div>
<div class="l" style="top:170px;font-size:13.64px;left:2036.10px;width:1200px;text-align:center;"><span class=m><i>a</i><span class=rs></span><span class=op>=</span><span class=rs></span><i>b</i><span class=rs></span><span class=op>=</span><span class=rs></span>4.30</span> <span class=m><i>c</i><span class=rs></span><span class=op>=</span><span class=rs></span>7.02</span></div>
<div class="l" style="top:807px;font-size:13.4px;left:1935.90px;word-spacing:1.640px;">FIG. 1. <span style="margin-left:4.08px"></span>Defect formation energies vs inverse supercell size for (a) <span class=m><i>As</i><span class=st><span class="su">0,−1</span><span class=sb><i>Te</i></span></span></span>, <span style="margin-left:0.41px"></span>(b) <span class=m>(<i>Cd</i><sub><i>int</i></sub><span class=ms></span><span class=op>+</span><span class=ms></span><i>As</i><sub><i>Te</i></sub>)<sup>+</sup></span> and (c) <span class=m><i>Cu</i><span class=st><span class="su">+2</span><span class=sb><i>int</i></span></span></span> . <span style="margin-left:4.08px"></span>The defects are relaxed with</div>
<div class="l" style="top:823px;font-size:13.4px;left:1935.90px;word-spacing:1.056px;">fixed lattice constants. <span style="margin-left:2.92px"></span>"L" on the bottom x-axis denotes the length of corresponding CdTe supercell. <span style="margin-left:2.92px"></span>The Fermi level is set to the VBM in</div>
<div class="l" style="top:839px;font-size:13.4px;left:1935.90px;">these plots.</div>
<div class="l" style="top:890px;font-size:15.15px;left:1951.05px;word-spacing:3.928px;">The factor <i>k</i> can be determined using one of two ap-</div>
<div class="l" style="top:907px;font-size:15.15px;left:1935.90px;word-spacing:1.308px;">proaches. <span style="margin-left:3.52px"></span>The first approach involves selecting defects that</div>
<div class="l" style="top:925px;font-size:15.15px;left:1935.90px;word-spacing:-0.037px;">are fully localized; <span style="margin-left:0.01px"></span>in this scenario, the nominal charge of the</div>
<div class="l" style="top:942px;font-size:15.15px;left:1935.90px;word-spacing:-0.544px;">defects is equal to <span class=m><i>q</i><sub>loc</sub></span>, <span style="margin-left:0.11px"></span>facilitating straightforward determina-</div>
<div class="l" style="top:959px;font-size:15.15px;left:1935.90px;word-spacing:0.845px;">tion of <i>k</i>. <span style="margin-left:2.60px"></span>However, <span style="margin-left:0.21px"></span>this method may not always be feasible</div>
<div class="l" style="top:976px;font-size:15.15px;left:1935.90px;word-spacing:-0.655px;">due to the prerequisite knowledge required about defect local-</div>
<div class="l" style="top:994px;font-size:15.15px;left:1935.90px;word-spacing:1.101px;">ization. <span style="margin-left:3.11px"></span>Alternatively, <span style="margin-left:0.28px"></span>the second approach entails adjusting</div>
<div class="l" style="top:1011px;font-size:15.15px;left:1935.90px;word-spacing:1.423px;">the supercell size and iteratively testing <i>k</i> values to achieve</div>
<div class="l" style="top:1028px;font-size:15.15px;left:1935.90px;word-spacing:0.952px;">convergence in the defect formation energies across varying</div>
<div class="l" style="top:1046px;font-size:15.15px;left:1935.90px;word-spacing:1.523px;">supercell dimensions. <span style="margin-left:3.96px"></span>For both strategies, <span style="margin-left:0.38px"></span>it is advisable to</div>
<div class="l" style="top:1063px;font-size:15.15px;left:1935.90px;word-spacing:1.382px;">select defects with substantial <span class=m><i>q</i><sub>NAC</sub></span> values, <span style="margin-left:0.35px"></span>as this can lead</div>
<div class="l" style="top:890px;font-size:15.15px;left:2334.10px;word-spacing:0.516px;">to significant correction values. <span style="margin-left:1.94px"></span>Such a selection ensures the</div>
<div class="l" style="top:907px;font-size:15.15px;left:2334.10px;">derived <i>k</i> values are both reasonable and effective.</div>
<div class="l" style="top:935px;font-size:15.15px;left:2349.25px;word-spacing:2.106px;">In this study, <span style="margin-left:0.53px"></span>we select <span class=m><i>Te</i><span class=st><span class="su">+</span><span class=sb><i>Cd</i></span></span></span> as the reference defect due</div>
<div class="l" style="top:953px;font-size:15.15px;left:2334.10px;word-spacing:0.894px;">to its advantageous properties. <span style="margin-left:2.70px"></span>Specifically, <span style="margin-left:0.22px"></span>the Kohn-Sham</div>
<div class="l" style="top:970px;font-size:15.15px;left:2334.10px;word-spacing:1.342px;">level of <span class=m><i>Te</i><span class=st><span class="su">+</span><span class=sb><i>Cd</i></span></span></span> is located within the band gap, <span style="margin-left:0.34px"></span>and it exhibits</div>
<div class="l" style="top:987px;font-size:15.15px;left:2334.10px;word-spacing:0.807px;">a large capture cross section for both the (0/+1) and (+1/+2)</div>
<div class="l" style="top:1004px;font-size:15.15px;left:2334.10px;word-spacing:-0.128px;">transitions, <span style="margin-left:0.03px"></span>as discussed in Sec. <span style="margin-left:0.99px"></span>III A and corroborated by ex-</div>
<div class="l" style="top:1022px;font-size:15.15px;left:2334.10px;word-spacing:1.369px;">isting literature[3]. <span style="margin-left:3.65px"></span>We firstly apply first approach to deter-</div>
<div class="l" style="top:1039px;font-size:15.15px;left:2334.10px;word-spacing:1.599px;">mine universal <i>k</i> value of 3.5 for CdTe, <span style="margin-left:0.40px"></span>CdSe<sub>0.25</sub>Te<sub>0.75</sub>, <span style="margin-left:0.40px"></span>and</div>
<div class="l" style="top:1056px;font-size:15.15px;left:2334.10px;word-spacing:1.992px;">CdSe<sub>0.50</sub>Te<sub>0.50</sub>. <span style="margin-left:4.89px"></span>This <i>k</i> value is then verified by the second</div>
<div class="l" style="top:1074px;font-size:15.15px;left:2334.10px;">approach by increasing supercell size.</div>
<div class="l" style="top:35px;font-size:15.15px;left:2431.90px;width:1200px;text-align:right;">4</div>
<div class="l" style="top:75px;font-size:15.15px;left:2877.85px;word-spacing:0.148px;">Figure 1 showcases the effectiveness of our charge correc-</div>
<div class="l" style="top:92px;font-size:15.15px;left:2862.70px;word-spacing:-0.456px;">tion method in overcoming the limitations associated with the</div>
<div class="l" style="top:110px;font-size:15.15px;left:2862.70px;word-spacing:-0.804px;">FNV correction approach. <span style="margin-left:1.44px"></span>Our method notably addresses sev-</div>
<div class="l" style="top:127px;font-size:15.15px;left:2862.70px;">eral critical issues:</div>
<div class="l" style="top:152px;font-size:19.0px;left:2889.60px;">•</div>
<div class="l" style="top:492px;font-size:19.0px;left:2889.60px;">•</div>
<div class="l" style="top:624px;font-size:19.0px;left:2889.60px;">•</div>
<div class="l" style="top:153px;font-size:15.15px;left:2900.90px;word-spacing:1.090px;">Non-zero NACs in neutral defects, <span style="margin-left:0.27px"></span>such as <span class=m><i>As</i><span class=st><span class="su">0</span><span class=sb><i>Te</i></span></span></span> illus-</div>
<div class="l" style="top:170px;font-size:15.15px;left:2900.90px;word-spacing:-0.650px;">trated in Fig. <span style="margin-left:1.34px"></span>1a, <span style="margin-left:0.13px"></span>result in image interactions that neces-</div>
<div class="l" style="top:187px;font-size:15.15px;left:2900.90px;word-spacing:0.696px;">sitate charge correction, <span style="margin-left:0.17px"></span>a scenario not accommodated</div>
<div class="l" style="top:205px;font-size:15.15px;left:2900.90px;word-spacing:1.877px;">by FNV correction. <span style="margin-left:4.66px"></span>This issue has been observed in</div>
<div class="l" style="top:222px;font-size:15.15px;left:2900.90px;word-spacing:1.033px;">other work as well [36]. <span style="margin-left:2.98px"></span>It occurs when a carrier fills</div>
<div class="l" style="top:239px;font-size:15.15px;left:2900.90px;word-spacing:2.531px;">states with delocalized characteristics, <span style="margin-left:0.63px"></span>such as states</div>
<div class="l" style="top:257px;font-size:15.15px;left:2900.90px;word-spacing:0.146px;">close to the CBM or VBM. Consequently, <span style="margin-left:0.04px"></span>the free car-</div>
<div class="l" style="top:274px;font-size:15.15px;left:2900.90px;word-spacing:1.543px;">rier charges do not fully screen the nuclear charge of</div>
<div class="l" style="top:291px;font-size:15.15px;left:2900.90px;word-spacing:1.186px;">point defects, <span style="margin-left:0.30px"></span>leaving a long-range Madelung interac-</div>
<div class="l" style="top:309px;font-size:15.15px;left:2900.90px;word-spacing:1.962px;">tion between the point defects even in neutral super-</div>
<div class="l" style="top:326px;font-size:15.15px;left:2900.90px;word-spacing:0.145px;">cells. <span style="margin-left:1.20px"></span>Our method’s application of charge correction to</div>
<div class="l" style="top:343px;font-size:15.15px;left:2900.90px;word-spacing:-0.846px;">these defects is supported by faster convergence, <span style="margin-left:0.17px"></span>as evi-</div>
<div class="l" style="top:361px;font-size:15.15px;left:2900.90px;word-spacing:-1.315px;">dent in Fig. <span style="margin-left:1.79px"></span>1a. <span style="margin-left:1.79px"></span>For instance, <span style="margin-left:0.26px"></span>the transition level for <span class=m><i>As</i><sub><i>Te</i></sub></span></div>
<div class="l" style="top:378px;font-size:15.15px;left:2900.90px;word-spacing:0.255px;">(0/-1) shifts from 0.22 eV without charge correction to</div>
<div class="l" style="top:396px;font-size:15.15px;left:2900.90px;word-spacing:-0.045px;">0.13 eV with it, more closely aligning with experimen-</div>
<div class="l" style="top:413px;font-size:15.15px;left:2900.90px;word-spacing:0.169px;">tal (<span class=m><span class=op>≈</span></span> 94 meV) [37] and hydrogenic model predictions</div>
<div class="l" style="top:430px;font-size:15.15px;left:2900.90px;word-spacing:1.752px;">(<span class=m><span class=op>≈</span></span> 113 meV) [38]. <span style="margin-left:4.41px"></span>Similarly, <span style="margin-left:0.44px"></span>the transition level for</div>
<div class="l" style="top:448px;font-size:15.15px;left:2900.90px;word-spacing:1.226px;"><span class=m><i>P</i><sub><i>Te</i></sub></span> (0/-1) improves from 0.16 eV to 0.11 eV, <span style="margin-left:0.31px"></span>nearing</div>
<div class="l" style="top:465px;font-size:15.15px;left:2900.90px;">experimental values (<span class=m><span class=op>≈</span></span> 87 meV) [37].</div>
<div class="l" style="top:492px;font-size:15.15px;left:2900.90px;word-spacing:2.768px;">For charged defects that are not fully localized, <span style="margin-left:0.69px"></span>our</div>
<div class="l" style="top:510px;font-size:15.15px;left:2900.90px;word-spacing:3.554px;">method accurately accounts for the discrepancy be-</div>
<div class="l" style="top:527px;font-size:15.15px;left:2900.90px;word-spacing:-0.141px;">tween localized charge <span class=m><i>q</i><sub>loc</sub></span> and nominal charge, <span style="margin-left:0.03px"></span>avoid-</div>
<div class="l" style="top:544px;font-size:15.15px;left:2900.90px;word-spacing:1.137px;">ing the overcorrection observed with FNV correction.</div>
<div class="l" style="top:562px;font-size:15.15px;left:2900.90px;word-spacing:0.816px;">This accuracy is validated by the consistent formation</div>
<div class="l" style="top:579px;font-size:15.15px;left:2900.90px;word-spacing:-1.040px;">energy results for <span class=m><i>Cu</i><sub><i>int</i></sub></span> across supercells of 64, <span style="margin-left:0.21px"></span>216, <span style="margin-left:0.21px"></span>and</div>
<div class="l" style="top:596px;font-size:15.15px;left:2900.90px;">512 atoms, as shown in Fig. <span style="margin-left:0.91px"></span>1c.</div>
<div class="l" style="top:625px;font-size:15.15px;left:2900.90px;word-spacing:1.339px;">Additionally, <span style="margin-left:0.33px"></span>our approach adeptly determines the lo-</div>
<div class="l" style="top:642px;font-size:15.15px;left:2900.90px;word-spacing:1.467px;">calized charge distribution of complex defects, <span style="margin-left:0.37px"></span>a task</div>
<div class="l" style="top:659px;font-size:15.15px;left:2900.90px;word-spacing:0.830px;">for which FNV correction’s charge assignment proves</div>
<div class="l" style="top:677px;font-size:15.15px;left:2900.90px;word-spacing:4.731px;">ambiguous and results in poor convergence. <span style="margin-left:10.37px"></span>Our</div>
<div class="l" style="top:694px;font-size:15.15px;left:2900.90px;word-spacing:2.534px;">method’s ability to assign <span class=m><i>q</i><sub>loc</sub></span> to specific defect po-</div>
<div class="l" style="top:711px;font-size:15.15px;left:2900.90px;word-spacing:3.869px;">sitions leads to improved convergence for complex</div>
<div class="l" style="top:729px;font-size:15.15px;left:2900.90px;word-spacing:4.289px;">defects such as <span class=m>(<i>Cd</i><sub><i>int</i></sub><span class=ms></span><span class=op>+</span><span class=ms></span><i>As</i><sub><i>Te</i></sub>)<sup>+</sup></span>, <span style="margin-left:1.07px"></span>as demonstrated in</div>
<div class="l" style="top:746px;font-size:15.15px;left:2900.90px;">Fig. <span style="margin-left:0.91px"></span>1b.</div>
<div class="l" style="top:772px;font-size:15.15px;left:2877.85px;word-spacing:1.836px;">For localized defects, <span style="margin-left:0.46px"></span>such as <span class=m><i>As</i><span class=st><span class="su">−1</span><span class=sb><i>Te</i></span></span></span> in Fig. <span style="margin-left:4.58px"></span>1a, <span style="margin-left:0.46px"></span><span class=m><i>Te</i><span class=st><span class="su">+1</span><span class=sb><i>Cd</i></span></span></span> and</div>
<div class="l" style="top:792px;font-size:15.15px;left:2862.70px;word-spacing:1.813px;"><span class=m><i>Te</i><span class=st><span class="su">+2</span><span class=sb><i>Cd</i></span></span></span>, <span style="margin-left:0.45px"></span>our method shows little difference compared to FNV</div>
<div class="l" style="top:810px;font-size:15.15px;left:2862.70px;word-spacing:-0.240px;">correction. <span style="margin-left:1.07px"></span>These findings highlight the comprehensive capa-</div>
<div class="l" style="top:827px;font-size:15.15px;left:2862.70px;word-spacing:1.690px;">bilities of our charge correction method in accurately mod-</div>
<div class="l" style="top:844px;font-size:15.15px;left:2862.70px;word-spacing:0.658px;">eling defect properties, <span style="margin-left:0.16px"></span>surpassing the limitations of existing</div>
<div class="l" style="top:862px;font-size:15.15px;left:2862.70px;">approaches.</div>
<div class="l b" style="top:912px;font-size:13.64px;left:2448.00px;width:1200px;text-align:center;">III.<span style="display:inline-block;width:1em"></span>RESULTS AND DISCUSSION</div>
<div class="l b" style="top:948px;font-size:13.64px;left:2448.00px;width:1200px;text-align:center;">A.<span style="display:inline-block;width:1em"></span>Intrinsic Defects</div>
<div class="l" style="top:987px;font-size:15.15px;left:2877.85px;word-spacing:0.551px;">Defect formation energies of intrinsic defects are depicted</div>
<div class="l" style="top:1004px;font-size:15.15px;left:2862.70px;word-spacing:-0.984px;">in Fig. <span style="margin-left:1.57px"></span>2. <span style="margin-left:1.57px"></span>It is worth noting that there are some negative values</div>
<div class="l" style="top:1022px;font-size:15.15px;left:2862.70px;word-spacing:-1.165px;">of defect formation energies in certain regions. <span style="margin-left:1.69px"></span>These negative</div>
<div class="l" style="top:1039px;font-size:15.15px;left:2862.70px;word-spacing:-0.946px;">values suggest a very high concentration of defects in these re-</div>
<div class="l" style="top:1056px;font-size:15.15px;left:2862.70px;word-spacing:-0.428px;">gions. <span style="margin-left:1.19px"></span>However, <span style="margin-left:0.09px"></span>these regions are unlikely to be achieved un-</div>
<div class="l" style="top:1074px;font-size:15.15px;left:2862.70px;word-spacing:0.063px;">der normal conditions due to their coupling with Fermi level.</div>
<div class="l" style="top:75px;font-size:15.15px;left:3261.10px;word-spacing:-0.203px;">For example, <span style="margin-left:0.04px"></span>in Fig. <span style="margin-left:1.04px"></span>2a, <span style="margin-left:0.04px"></span>the undoped material is n-type as the</div>
<div class="l" style="top:92px;font-size:15.15px;left:3261.10px;word-spacing:-0.932px;">dominant defects <span class=m><i>V</i><sub><i>Cd</i></sub></span> and <span class=m><i>Cd</i><sub><i>int</i></sub></span> will cause Fermi level pinning</div>
<div class="l" style="top:110px;font-size:15.15px;left:3261.10px;word-spacing:0.254px;">at around 1.1 eV (referenced to VBM). <span style="margin-left:1.42px"></span>When the system ap-</div>
<div class="l" style="top:127px;font-size:15.15px;left:3261.10px;word-spacing:0.800px;">proaches p-type, <span style="margin-left:0.20px"></span>it will lower the formation energy of <span class=m><i>Cd</i><sub><i>int</i></sub></span>,</div>
<div class="l" style="top:144px;font-size:15.15px;left:3261.10px;word-spacing:-0.985px;">thus more donors will be generated, <span style="margin-left:0.20px"></span>keeping the system n-type</div>
<div class="l" style="top:162px;font-size:15.15px;left:3261.10px;word-spacing:1.805px;">(or at most weakly p-type). <span style="margin-left:4.52px"></span>Therefore, <span style="margin-left:0.45px"></span>the negative values</div>
<div class="l" style="top:179px;font-size:15.15px;left:3261.10px;word-spacing:1.008px;">near VBM for <span class=m><i>Cd</i><sub><i>int</i></sub></span> indicates that achieving a strong p-type</div>
<div class="l" style="top:197px;font-size:15.15px;left:3261.10px;word-spacing:1.141px;">Fermi level in this material is extremely difficult. <span style="margin-left:3.19px"></span>A similar</div>
<div class="l" style="top:214px;font-size:15.15px;left:3261.10px;">situation occurs in Fig. <span style="margin-left:0.91px"></span>10.</div>
<div class="l" style="top:234px;font-size:15.15px;left:3276.25px;word-spacing:1.289px;">The cadmium vacancy <span class=m><i>V</i><sub><i>Cd</i></sub></span> is a pivotal intrinsic defect in</div>
<div class="l" style="top:251px;font-size:15.15px;left:3261.10px;word-spacing:0.264px;">CdTe and its alloys, <span style="margin-left:0.07px"></span>with its configuration and transition lev-</div>
<div class="l" style="top:268px;font-size:15.15px;left:3261.10px;word-spacing:-0.353px;">els being subjects of significant debate in both theoretical and</div>
<div class="l" style="top:286px;font-size:15.15px;left:3261.10px;word-spacing:0.348px;">experimental literature[2]. <span style="margin-left:1.60px"></span>Our research reveals that the neu-</div>
<div class="l" style="top:303px;font-size:15.15px;left:3261.10px;word-spacing:-0.140px;">tral state of <span class=m><i>V</i><sub><i>Cd</i></sub></span> primarily adopts <span class=m><i>D</i><sub>2<i>d</i></sub></span> symmetry (dimer struc-</div>
<div class="l" style="top:320px;font-size:15.15px;left:3261.10px;word-spacing:0.537px;">ture), <span style="margin-left:0.13px"></span>featuring two fully occupied degenerate states and one</div>
<div class="l" style="top:338px;font-size:15.15px;left:3261.10px;word-spacing:0.069px;">unoccupied state. <span style="margin-left:1.05px"></span>In contrast, <span style="margin-left:0.02px"></span>the -1 and -2 charged states are</div>
<div class="l" style="top:355px;font-size:15.15px;left:3261.10px;word-spacing:0.739px;">most stable in <span class=m><i>T</i><sub><i>d</i></sub></span> symmetry. <span style="margin-left:2.39px"></span>The transition levels of <span class=m><i>V</i><sub><i>Cd</i></sub></span>, <span style="margin-left:0.18px"></span>as</div>
<div class="l" style="top:373px;font-size:15.15px;left:3261.10px;word-spacing:-0.301px;">established in various studies, <span style="margin-left:0.06px"></span>range from 0.1 to 0.8 eV above</div>
<div class="l" style="top:390px;font-size:15.15px;left:3261.10px;word-spacing:1.439px;">the VBM [9, <span style="margin-left:0.36px"></span>39–44]. <span style="margin-left:3.79px"></span>In this work, <span style="margin-left:0.36px"></span>the transition levels for</div>
<div class="l" style="top:407px;font-size:15.15px;left:3261.10px;word-spacing:1.751px;"><span class=m><i>V</i><sub><i>Cd</i></sub></span> in CdTe are identified as 0.17 eV for the (-1/0) transi-</div>
<div class="l" style="top:425px;font-size:15.15px;left:3261.10px;word-spacing:0.003px;">tion and 0.30 eV for the (-2/-1) transition. <span style="margin-left:0.92px"></span>For CdSe<sub>0.25</sub>Te<sub>0.75</sub>,</div>
<div class="l" style="top:442px;font-size:15.15px;left:3261.10px;word-spacing:0.846px;">these levels are 0.16 eV and 0.30 eV, <span style="margin-left:0.21px"></span>respectively, <span style="margin-left:0.21px"></span>while for</div>
<div class="l" style="top:459px;font-size:15.15px;left:3261.10px;word-spacing:2.821px;">CdSe<sub>0.50</sub>Te<sub>0.50</sub> they are 0.14 eV and 0.35 eV, <span style="margin-left:0.71px"></span>respectively.</div>
<div class="l" style="top:477px;font-size:15.15px;left:3261.10px;word-spacing:1.568px;">These findings indicate that the transition levels of <span class=m><i>V</i><sub><i>Cd</i></sub></span> ex-</div>
<div class="l" style="top:494px;font-size:15.15px;left:3261.10px;word-spacing:-0.918px;">hibit relative consistency in alloys with a selenium ratio below</div>
<div class="l" style="top:511px;font-size:15.15px;left:3261.10px;">50%.</div>
<div class="l" style="top:530px;font-size:15.15px;left:3276.25px;word-spacing:2.062px;">Furthermore, <span style="margin-left:0.52px"></span>we calculated the defect capture cross sec-</div>
<div class="l" style="top:548px;font-size:15.15px;left:3261.10px;word-spacing:1.773px;">tion of <span class=m><i>V</i><sub><i>Cd</i></sub></span> in CdTe based on static approximation[30, <span style="margin-left:0.44px"></span>45–</div>
<div class="l" style="top:565px;font-size:15.15px;left:3261.10px;word-spacing:0.432px;">49]. <span style="margin-left:1.77px"></span>The results, <span style="margin-left:0.11px"></span>presented in Fig. <span style="margin-left:1.77px"></span>3 and Table II, <span style="margin-left:0.11px"></span>reveal that</div>
<div class="l" style="top:582px;font-size:15.15px;left:3261.10px;word-spacing:0.704px;">the potential energy surface (PES) of the (-2/-1) transition is</div>
<div class="l" style="top:600px;font-size:15.15px;left:3261.10px;word-spacing:0.879px;">quasi-harmonic, <span style="margin-left:0.22px"></span>while the PES of the (-1/0) transition is an-</div>
<div class="l" style="top:617px;font-size:15.15px;left:3261.10px;word-spacing:0.713px;">harmonic. <span style="margin-left:2.33px"></span>This discrepancy can be attributed to the proxim-</div>
<div class="l" style="top:634px;font-size:15.15px;left:3261.10px;word-spacing:2.324px;">ity of metastable <span class=m><i>D</i><sub>2<i>d</i></sub></span> <span class=m><i>V</i><span class=st><span class="su ic">−1</span><span class=sb><i>Cd</i></span></span></span> and <span class=m><i>T</i><sub><i>d</i></sub></span> <span class=m><i>V</i><span class=st><span class="su ic">0</span><span class=sb><i>Cd</i></span></span></span> states, <span style="margin-left:0.58px"></span>which merge</div>
<div class="l" style="top:652px;font-size:15.15px;left:3261.10px;word-spacing:-0.310px;">with the most stable configurations of these respective charge</div>
<div class="l" style="top:669px;font-size:15.15px;left:3261.10px;word-spacing:-1.055px;">states—a phenomenon also observed elsewhere in HSE06 cal-</div>
<div class="l" style="top:687px;font-size:15.15px;left:3261.10px;word-spacing:0.247px;">culation of <span class=m><i>V</i><sub><i>Cd</i></sub></span>[4] and defects in GaAs[49]. <span style="margin-left:1.40px"></span>From the carrier</div>
<div class="l" style="top:704px;font-size:15.15px;left:3261.10px;word-spacing:1.044px;">capture cross section calculations, <span style="margin-left:0.26px"></span>we determined that the (-</div>
<div class="l" style="top:721px;font-size:15.15px;left:3261.10px;word-spacing:0.095px;">1/0) transition exhibits strong nonradiative recombination in-</div>
<div class="l" style="top:739px;font-size:15.15px;left:3261.10px;word-spacing:-0.387px;">tensity, <span style="margin-left:0.08px"></span>whereas the (-2/-1) transition demonstrates only weak</div>
<div class="l" style="top:756px;font-size:15.15px;left:3261.10px;word-spacing:-0.878px;">nonradiative recombination. <span style="margin-left:1.49px"></span>This observation aligns with pre-</div>
<div class="l" style="top:773px;font-size:15.15px;left:3261.10px;">vious reports using the HSE06 functional[3, 4].</div>
<div class="l" style="top:821px;font-size:13.2px;left:2845.90px;width:1200px;text-align:center;">TABLE II. <span style="font-size:91.5%">Capture cross section of deep level defects in CdTe at 300K</span></div>
<div class="l" style="top:841px;font-size:13.64px;left:2690.40px;width:1200px;text-align:center;">Defect</div>
<div class="l" style="top:841px;font-size:13.64px;left:2759.45px;width:1200px;text-align:center;">Transition Level</div>
<div class="l" style="top:841px;font-size:13.64px;left:2857.90px;width:1200px;text-align:center;">Trapping Process</div>
<div class="l" style="top:841px;font-size:13.64px;left:2964.95px;width:1200px;text-align:center;"><span class=m><i>σ</i>(<i>T</i><span class=rs></span><span class=op>=</span><span class=rs></span>300<i>K</i>)[<i>cm</i><sup>2</sup>]</span></div>
<div class="l" style="top:866px;font-size:13.64px;left:2690.40px;width:1200px;text-align:center;"><span class=m><i>V</i><sub><i>Cd</i></sub></span></div>
<div class="l" style="top:867px;font-size:13.64px;left:2759.45px;width:1200px;text-align:center;">(-2/-1)</div>
<div class="l" style="top:859px;font-size:13.64px;left:2857.90px;width:1200px;text-align:center;">hole capture</div>
<div class="l" style="top:875px;font-size:13.64px;left:2857.90px;width:1200px;text-align:center;">electron capture</div>
<div class="l" style="top:859px;font-size:13.64px;left:2964.95px;width:1200px;text-align:center;"><span class=m>8.0<span class=ms></span><span class=op>×</span><span class=ms></span>10<sup>−17</sup></span></div>
<div class="l" style="top:875px;font-size:13.64px;left:2964.95px;width:1200px;text-align:center;"><span class=m>1.9<span class=ms></span><span class=op>×</span><span class=ms></span>10<sup>−20</sup></span></div>
<div class="l" style="top:900px;font-size:13.64px;left:2690.40px;width:1200px;text-align:center;"><span class=m><i>V</i><sub><i>Cd</i></sub></span></div>
<div class="l" style="top:901px;font-size:13.64px;left:2759.45px;width:1200px;text-align:center;">(-1/0)</div>
<div class="l" style="top:893px;font-size:13.64px;left:2857.90px;width:1200px;text-align:center;">hole capture</div>
<div class="l" style="top:910px;font-size:13.64px;left:2857.90px;width:1200px;text-align:center;">electron capture</div>
<div class="l" style="top:893px;font-size:13.64px;left:2964.95px;width:1200px;text-align:center;"><span class=m>2.8<span class=ms></span><span class=op>×</span><span class=ms></span>10<sup>−16</sup></span></div>
<div class="l" style="top:910px;font-size:13.64px;left:2964.95px;width:1200px;text-align:center;"><span class=m>2.1<span class=ms></span><span class=op>×</span><span class=ms></span>10<sup>−15</sup></span></div>
<div class="l" style="top:935px;font-size:13.64px;left:2690.40px;width:1200px;text-align:center;"><span class=m><i>Te</i><sub><i>Cd</i></sub></span></div>
<div class="l" style="top:935px;font-size:13.64px;left:2759.45px;width:1200px;text-align:center;">(+2/+1)</div>
<div class="l" style="top:927px;font-size:13.64px;left:2857.90px;width:1200px;text-align:center;">hole capture</div>
<div class="l" style="top:944px;font-size:13.64px;left:2857.90px;width:1200px;text-align:center;">electron capture</div>
<div class="l" style="top:927px;font-size:13.64px;left:2964.95px;width:1200px;text-align:center;"><span class=m>2.1<span class=ms></span><span class=op>×</span><span class=ms></span>10<sup>−18</sup></span></div>
<div class="l" style="top:944px;font-size:13.64px;left:2964.95px;width:1200px;text-align:center;"><span class=m>1.0<span class=ms></span><span class=op>×</span><span class=ms></span>10<sup>−15</sup></span></div>
<div class="l" style="top:969px;font-size:13.64px;left:2690.40px;width:1200px;text-align:center;"><span class=m><i>Te</i><sub><i>Cd</i></sub></span></div>
<div class="l" style="top:970px;font-size:13.64px;left:2759.45px;width:1200px;text-align:center;">(+1/0)</div>
<div class="l" style="top:962px;font-size:13.64px;left:2857.90px;width:1200px;text-align:center;">hole capture</div>
<div class="l" style="top:979px;font-size:13.64px;left:2857.90px;width:1200px;text-align:center;">electron capture</div>
<div class="l" style="top:962px;font-size:13.64px;left:2964.95px;width:1200px;text-align:center;"><span class=m>3.3<span class=ms></span><span class=op>×</span><span class=ms></span>10<sup>−15</sup></span></div>
<div class="l" style="top:979px;font-size:13.64px;left:2964.95px;width:1200px;text-align:center;"><span class=m>8.1<span class=ms></span><span class=op>×</span><span class=ms></span>10<sup>−18</sup></span></div>
<div class="l" style="top:1019px;font-size:15.15px;left:3276.25px;word-spacing:1.707px;">The second critical intrinsic defect under investigation is</div>
<div class="l" style="top:1038px;font-size:15.15px;left:3261.10px;word-spacing:0.436px;"><span class=m><i>Te</i><sub><i>Cd</i></sub></span>. <span style="margin-left:1.78px"></span>The charge states <span class=m><i>Te</i><span class=st><span class="su">+</span><span class=sb><i>Cd</i></span></span></span> and <span class=m><i>Te</i><span class=st><span class="su">0</span><span class=sb><i>Cd</i></span></span></span> both exhibit <span class=m><i>C</i><sub>3<i>v</i></sub></span> sym-</div>
<div class="l" style="top:1056px;font-size:15.15px;left:3261.10px;word-spacing:-0.711px;">metry as shown in Fig. <span style="margin-left:1.38px"></span>4, <span style="margin-left:0.14px"></span>while <span class=m><i>Te</i><span class=st><span class="su">2+</span><span class=sb><i>Cd</i></span></span></span> displays <span class=m><i>T</i><sub><i>d</i></sub></span> symmetry. <span style="margin-left:1.38px"></span>A</div>
<div class="l" style="top:1073px;font-size:15.15px;left:3261.10px;word-spacing:0.061px;">significant dependence on the Se/Te arrangement is observed</div>
<div class="l" style="top:35px;font-size:15.15px;left:3358.90px;width:1200px;text-align:right;">5</div>
<div class="l" style="top:613px;font-size:13.4px;left:3789.60px;word-spacing:0.819px;">FIG. 2. <span style="margin-left:2.44px"></span>Defect formation energies vs Fermi level of intrinsic defects in CdTe (a and d), <span style="margin-left:0.20px"></span>CdSe<sub>0.25</sub>Te<sub>0.75</sub> (b and e), <span style="margin-left:0.20px"></span>and CdSe<sub>0.50</sub>Te<sub>0.50</sub> (c and f)</div>
<div class="l" style="top:629px;font-size:13.4px;left:3789.60px;">under Cd-rich (a-c) and Te-rich (d-f) conditions. <span style="margin-left:0.80px"></span>The chemical potential conditions are <span class=m><i>μ</i><sub><i>Cd</i></sub><span class=ms></span><span class=op>+</span><span class=ms></span><i>μ</i><sub><i>Te</i></sub><span class=rs></span><span class=op>=</span><span class=rs></span>−1.28</span> eV and <span class=m><i>μ</i><sub><i>Cd</i></sub><span class=ms></span><span class=op>+</span><span class=ms></span><i>μ</i><sub><i>Se</i></sub><span class=rs></span><span class=op>&lt;</span><span class=rs></span>0.15</span> eV.</div>
<div class="l" style="top:921px;font-size:13.4px;left:3790.00px;word-spacing:0.324px;">FIG. 3. <span style="margin-left:1.45px"></span>Configuration Coordinate Diagram of <span class=m><i>V</i><sub><i>Cd</i></sub></span> (-1/0) and (-2/-1).</div>
<div class="l" style="top:937px;font-size:13.4px;left:3790.00px;word-spacing:0.677px;"><i>Q</i> in X-axis corresponds to the mass-weighted configuration coordi-</div>
<div class="l" style="top:953px;font-size:13.4px;left:3790.00px;word-spacing:1.023px;">nate. <span style="margin-left:2.85px"></span><i>Q</i> indicates the configurational coordinate path between equi-</div>
<div class="l" style="top:969px;font-size:13.4px;left:3790.00px;word-spacing:0.478px;">librium configurations. <span style="margin-left:1.76px"></span><span class=m><i>Q</i><span class=rs></span><span class=op>=</span><span class=rs></span>0</span> indicates defects ground state with <span class=m><i>T</i><sub><i>d</i></sub></span></div>
<div class="l" style="top:984px;font-size:13.4px;left:3790.00px;">symmetry.</div>
<div class="l" style="top:1037px;font-size:15.15px;left:3789.70px;word-spacing:1.328px;">for <span class=m><i>Te</i><sub><i>Cd</i></sub></span> defects with <span class=m><i>C</i><sub>3<i>v</i></sub></span> symmetry. <span style="margin-left:3.57px"></span>To exemplify this, <span style="margin-left:0.33px"></span>we</div>
<div class="l" style="top:1055px;font-size:15.15px;left:3789.70px;word-spacing:2.032px;">considered <span class=m><i>Te</i><span class=st><span class="su">0</span><span class=sb><i>Cd</i></span></span></span> and calculated its formation energy for 56</div>
<div class="l" style="top:1074px;font-size:15.15px;left:3789.70px;word-spacing:2.226px;">different local Se/Te environments. <span style="margin-left:5.36px"></span>These 56 <span class=m><i>Te</i><span class=st><span class="su">0</span><span class=sb><i>Cd</i></span></span></span> defects</div>
<div class="l" style="top:821px;font-size:13.4px;left:4188.10px;word-spacing:0.084px;">FIG. 4. <span style="margin-left:0.97px"></span>Schematic of <span class=m><i>Te</i><sub><i>Cd</i></sub></span> <span class=m><i>C</i><sub>3<i>v</i></sub></span> defect configuration. <span style="margin-left:0.97px"></span><i>c</i> denotes length</div>
<div class="l" style="top:837px;font-size:13.4px;left:4188.10px;">of the long bond. <span style="margin-left:0.80px"></span><i>a</i> denotes length of three short bonds.</div>
<div class="l" style="top:896px;font-size:15.15px;left:4188.10px;word-spacing:0.320px;">were randomly split into an 80% training set and a 20% test-</div>
<div class="l" style="top:914px;font-size:15.15px;left:4188.10px;word-spacing:1.000px;">ing set. <span style="margin-left:2.91px"></span>We employed a neighbor counting linear regression</div>
<div class="l" style="top:931px;font-size:15.15px;left:4188.10px;word-spacing:-0.375px;">model, <span style="margin-left:0.08px"></span>as detailed in Table III, <span style="margin-left:0.08px"></span>which effectively captures this</div>
<div class="l" style="top:948px;font-size:15.15px;left:4188.10px;word-spacing:0.743px;">dependence using eight features. <span style="margin-left:2.40px"></span>This regression model was</div>
<div class="l" style="top:966px;font-size:15.15px;left:4188.10px;word-spacing:-0.636px;">trained using a bootstrapping strategy, <span style="margin-left:0.13px"></span>a resampling technique</div>
<div class="l" style="top:983px;font-size:15.15px;left:4188.10px;word-spacing:2.427px;">that involves repeatedly drawing samples from our dataset</div>
<div class="l" style="top:1000px;font-size:15.15px;left:4188.10px;word-spacing:0.818px;">with replacement[50]. <span style="margin-left:2.54px"></span>We repeat this process 10 times. <span style="margin-left:2.54px"></span>The</div>
<div class="l" style="top:1018px;font-size:15.15px;left:4188.10px;word-spacing:1.046px;">fitting results, <span style="margin-left:0.26px"></span>illustrated in Fig. <span style="margin-left:3.00px"></span>5, <span style="margin-left:0.26px"></span>demonstrate the model’s</div>
<div class="l" style="top:1035px;font-size:15.15px;left:4188.10px;">accuracy.</div>
<div class="l" style="top:1056px;font-size:15.15px;left:4203.25px;word-spacing:0.861px;">The eight features considered in the model include the Se</div>
<div class="l" style="top:1074px;font-size:15.15px;left:4188.10px;word-spacing:1.920px;">ratio, <span style="margin-left:0.48px"></span>the square of Se ratio, <span style="margin-left:0.48px"></span>the presence of a first nearest</div>
<div style="position:absolute;left:49.3px;top:912.6px;white-space:nowrap;font-size:30.3px;line-height:30px;height:30px;color:#7f7f7f;transform-origin:0 25.2px;transform:rotate(-90deg)">arXiv:2404.07796v3&nbsp; [cond-mat.mtrl-sci]&nbsp; 28 Aug 2024</div>
<div style="position:absolute;left:1940.9px;top:109.1px;width:759.9px;height:1px;background:#6a6a6a"></div>
<div style="position:absolute;left:1940.9px;top:125.5px;width:759.9px;height:1px;background:#6a6a6a"></div>
<div style="position:absolute;left:1940.9px;top:143.6px;width:759.9px;height:1px;background:#6a6a6a"></div>
<div style="position:absolute;left:1940.9px;top:159.9px;width:759.9px;height:1px;background:#6a6a6a"></div>
<div style="position:absolute;left:1940.9px;top:176.4px;width:759.9px;height:1px;background:#6a6a6a"></div>
<div style="position:absolute;left:1940.9px;top:193.1px;width:759.9px;height:1px;background:#6a6a6a"></div>
<div style="position:absolute;left:1940.4px;top:109.6px;width:1px;height:84.5px;background:#6a6a6a"></div>
<div style="position:absolute;left:2056.0px;top:109.6px;width:1px;height:84.5px;background:#6a6a6a"></div>
<div style="position:absolute;left:2142.6px;top:126.0px;width:1px;height:68.1px;background:#6a6a6a"></div>
<div style="position:absolute;left:2269.8px;top:109.6px;width:1px;height:84.5px;background:#6a6a6a"></div>
<div style="position:absolute;left:2357.3px;top:126.0px;width:1px;height:68.1px;background:#6a6a6a"></div>
<div style="position:absolute;left:2485.1px;top:109.6px;width:1px;height:84.5px;background:#6a6a6a"></div>
<div style="position:absolute;left:2571.4px;top:126.0px;width:1px;height:68.1px;background:#6a6a6a"></div>
<div style="position:absolute;left:2699.8px;top:109.6px;width:1px;height:84.5px;background:#6a6a6a"></div>
<div style="position:absolute;left:3269.2px;top:847.2px;width:352.7px;height:1px;background:#6a6a6a"></div>
<div style="position:absolute;left:3269.2px;top:865.0px;width:352.7px;height:1px;background:#6a6a6a"></div>
<div style="position:absolute;left:3407.3px;top:882.2px;width:214.6px;height:1px;background:#6a6a6a"></div>
<div style="position:absolute;left:3269.2px;top:898.8px;width:352.7px;height:1px;background:#6a6a6a"></div>
<div style="position:absolute;left:3407.3px;top:916.3px;width:214.6px;height:1px;background:#6a6a6a"></div>
<div style="position:absolute;left:3269.2px;top:933.5px;width:352.7px;height:1px;background:#6a6a6a"></div>
<div style="position:absolute;left:3407.3px;top:951.0px;width:214.6px;height:1px;background:#6a6a6a"></div>
<div style="position:absolute;left:3269.2px;top:967.9px;width:352.7px;height:1px;background:#6a6a6a"></div>
<div style="position:absolute;left:3407.3px;top:984.8px;width:214.6px;height:1px;background:#6a6a6a"></div>
<div style="position:absolute;left:3269.2px;top:1002.0px;width:352.7px;height:1px;background:#6a6a6a"></div>
<div style="position:absolute;left:3268.7px;top:847.7px;width:1px;height:155.3px;background:#6a6a6a"></div>
<div style="position:absolute;left:3311.1px;top:847.7px;width:1px;height:155.3px;background:#6a6a6a"></div>
<div style="position:absolute;left:3406.8px;top:847.7px;width:1px;height:155.3px;background:#6a6a6a"></div>
<div style="position:absolute;left:3508.0px;top:847.7px;width:1px;height:155.3px;background:#6a6a6a"></div>
<div style="position:absolute;left:3620.9px;top:847.7px;width:1px;height:155.3px;background:#6a6a6a"></div>
<svg style="left:0;top:0" width="4635" height="1200" viewBox="0 0 4635 1200">
<rect x="2055.50" y="248.20" width="259.50" height="193.90" fill="none" stroke="#000" stroke-width="0.8"/>
<path d="M2132.00,442.1v3.6M2132.00,248.2v-3.6" stroke="#000" stroke-width="0.8"/>
<text transform="translate(2132.00,456.40) scale(1.13,1)" font-size="11.4" text-anchor="middle" fill="#000">0.04</text>
<text transform="translate(2132.00,240.70) scale(1.13,1)" font-size="11.4" text-anchor="middle" fill="#000">512</text>
<path d="M2170.20,442.1v3.6M2170.20,248.2v-3.6" stroke="#000" stroke-width="0.8"/>
<text transform="translate(2170.20,456.40) scale(1.13,1)" font-size="11.4" text-anchor="middle" fill="#000">0.05</text>
<text transform="translate(2170.20,240.70) scale(1.13,1)" font-size="11.4" text-anchor="middle" fill="#000">216</text>
<path d="M2284.80,442.1v3.6M2284.80,248.2v-3.6" stroke="#000" stroke-width="0.8"/>
<text transform="translate(2284.80,456.40) scale(1.13,1)" font-size="11.4" text-anchor="middle" fill="#000">0.08</text>
<text transform="translate(2284.80,240.70) scale(1.13,1)" font-size="11.4" text-anchor="middle" fill="#000">64</text>
<path d="M2055.5,442.10h-3.6" stroke="#000" stroke-width="0.8"/>
<text transform="translate(2050.00,446.20) scale(1.13,1)" font-size="11.4" text-anchor="end" fill="#000">1.8</text>
<path d="M2055.5,403.33h-3.6" stroke="#000" stroke-width="0.8"/>
<text transform="translate(2050.00,407.43) scale(1.13,1)" font-size="11.4" text-anchor="end" fill="#000">1.9</text>
<path d="M2055.5,364.56h-3.6" stroke="#000" stroke-width="0.8"/>
<text transform="translate(2050.00,368.66) scale(1.13,1)" font-size="11.4" text-anchor="end" fill="#000">2.0</text>
<path d="M2055.5,325.79h-3.6" stroke="#000" stroke-width="0.8"/>
<text transform="translate(2050.00,329.89) scale(1.13,1)" font-size="11.4" text-anchor="end" fill="#000">2.1</text>
<path d="M2055.5,287.02h-3.6" stroke="#000" stroke-width="0.8"/>
<text transform="translate(2050.00,291.12) scale(1.13,1)" font-size="11.4" text-anchor="end" fill="#000">2.2</text>
<path d="M2055.5,248.25h-3.6" stroke="#000" stroke-width="0.8"/>
<text transform="translate(2050.00,252.35) scale(1.13,1)" font-size="11.4" text-anchor="end" fill="#000">2.3</text>
<text transform="translate(2025.90,345.95) rotate(-90) scale(1.125,1)" font-size="11.4" text-anchor="middle" fill="#000">Formation Energy (eV)</text>
<text transform="translate(2184.75,471.10) scale(1.13,1)" font-size="11.4" text-anchor="middle" fill="#000">L<tspan dy="-4.5" font-size="70%">−1</tspan><tspan dy="4.5">&#8203;</tspan> (Å<tspan dy="-4.5" font-size="70%">−1</tspan><tspan dy="4.5">&#8203;</tspan>)</text>
<line x1="2055.60" y1="407.59" x2="2284.80" y2="424.27" stroke="#0173b2" stroke-width="1.15" stroke-dasharray="1.2 1.9"/>
<line x1="2055.60" y1="395.58" x2="2284.80" y2="387.43" stroke="#029e73" stroke-width="1.15" stroke-dasharray="1.2 1.9"/>
<line x1="2055.60" y1="338.97" x2="2284.80" y2="335.87" stroke="#d55e00" stroke-width="1.15" stroke-dasharray="1.2 1.9"/>
<line x1="2055.60" y1="342.85" x2="2284.80" y2="335.48" stroke="#cc78bc" stroke-width="1.15" stroke-dasharray="1.2 1.9"/>
<line x1="2055.60" y1="353.70" x2="2284.80" y2="421.16" stroke="#808080" stroke-width="1.15" stroke-dasharray="1.2 1.9"/>
<path d="M2132.00,410.25L2135.55,413.80L2132.00,417.35L2128.45,413.80Z" fill="#0173b2"/>
<path d="M2170.20,410.64L2173.75,414.19L2170.20,417.74L2166.65,414.19Z" fill="#0173b2"/>
<path d="M2284.80,420.72L2288.35,424.27L2284.80,427.82L2281.25,424.27Z" fill="#0173b2"/>
<path d="M2132.00,391.64L2135.55,395.19L2132.00,398.74L2128.45,395.19Z" fill="#029e73"/>
<path d="M2170.20,385.05L2173.75,388.60L2170.20,392.15L2166.65,388.60Z" fill="#029e73"/>
<path d="M2284.80,384.27L2288.35,387.82L2284.80,391.37L2281.25,387.82Z" fill="#029e73"/>
<rect x="2129.40" y="339.47" width="5.20" height="5.20" fill="#d55e00"/>
<rect x="2167.60" y="330.56" width="5.20" height="5.20" fill="#d55e00"/>
<rect x="2282.20" y="335.21" width="5.20" height="5.20" fill="#d55e00"/>
<rect x="2129.40" y="341.41" width="5.20" height="5.20" fill="#cc78bc"/>
<rect x="2167.60" y="330.56" width="5.20" height="5.20" fill="#cc78bc"/>
<rect x="2282.20" y="333.66" width="5.20" height="5.20" fill="#cc78bc"/>
<circle cx="2132.00" cy="378.13" r="2.50" fill="#808080"/>
<circle cx="2170.20" cy="384.33" r="2.50" fill="#808080"/>
<circle cx="2284.80" cy="422.33" r="2.50" fill="#808080"/>
<path d="M2165.00,254.85L2168.55,258.40L2165.00,261.95L2161.45,258.40Z" fill="#0173b2"/>
<text transform="translate(2177.00,260.80) scale(1.15,1)" font-size="6.7" text-anchor="start" fill="#000" font-weight="bold">As<tspan dy="-2.2" font-size="62%">0</tspan><tspan dy="3.6" dx="-2.6" font-size="62%">Te</tspan><tspan dy="-1.4">&#8203;</tspan> FNV Correction (No Correction)</text>
<path d="M2165.00,266.85L2168.55,270.40L2165.00,273.95L2161.45,270.40Z" fill="#029e73"/>
<text transform="translate(2177.00,272.80) scale(1.15,1)" font-size="6.7" text-anchor="start" fill="#000" font-weight="bold">As<tspan dy="-2.2" font-size="62%">0</tspan><tspan dy="3.6" dx="-2.6" font-size="62%">Te</tspan><tspan dy="-1.4">&#8203;</tspan> This work</text>
<rect x="2162.40" y="279.40" width="5.20" height="5.20" fill="#d55e00"/>
<text transform="translate(2177.00,284.40) scale(1.15,1)" font-size="6.7" text-anchor="start" fill="#000" font-weight="bold">As<tspan dy="-2.2" font-size="62%">−1</tspan><tspan dy="3.6" dx="-4.6" font-size="62%">Te</tspan><tspan dy="-1.4">&#8203;</tspan> FNV Correction</text>
<rect x="2162.40" y="291.40" width="5.20" height="5.20" fill="#cc78bc"/>
<text transform="translate(2177.00,296.40) scale(1.15,1)" font-size="6.7" text-anchor="start" fill="#000" font-weight="bold">As<tspan dy="-2.2" font-size="62%">−1</tspan><tspan dy="3.6" dx="-4.6" font-size="62%">Te</tspan><tspan dy="-1.4">&#8203;</tspan> This work</text>
<circle cx="2165.00" cy="306.00" r="2.50" fill="#808080"/>
<text transform="translate(2177.00,308.40) scale(1.15,1)" font-size="6.7" text-anchor="start" fill="#000" font-weight="bold">As<tspan dy="-2.2" font-size="62%">−1</tspan><tspan dy="3.6" dx="-4.6" font-size="62%">Te</tspan><tspan dy="-1.4">&#8203;</tspan> No Correction</text>
<text transform="translate(2068.60,269.00) scale(1.13,1)" font-size="11.6" text-anchor="start" fill="#000">As<tspan x="13.6" y="-5.0" font-size="70%">0, − 1</tspan><tspan x="13.6" y="3.0" font-size="70%">Te</tspan></text>
<rect x="2363.20" y="248.20" width="260.30" height="193.90" fill="none" stroke="#000" stroke-width="0.8"/>
<path d="M2439.70,442.1v3.6M2439.70,248.2v-3.6" stroke="#000" stroke-width="0.8"/>
<text transform="translate(2439.70,456.40) scale(1.13,1)" font-size="11.4" text-anchor="middle" fill="#000">0.04</text>
<text transform="translate(2439.70,240.70) scale(1.13,1)" font-size="11.4" text-anchor="middle" fill="#000">512</text>
<path d="M2478.00,442.1v3.6M2478.00,248.2v-3.6" stroke="#000" stroke-width="0.8"/>
<text transform="translate(2478.00,456.40) scale(1.13,1)" font-size="11.4" text-anchor="middle" fill="#000">0.05</text>
<text transform="translate(2478.00,240.70) scale(1.13,1)" font-size="11.4" text-anchor="middle" fill="#000">216</text>
<path d="M2592.90,442.1v3.6M2592.90,248.2v-3.6" stroke="#000" stroke-width="0.8"/>
<text transform="translate(2592.90,456.40) scale(1.13,1)" font-size="11.4" text-anchor="middle" fill="#000">0.08</text>
<text transform="translate(2592.90,240.70) scale(1.13,1)" font-size="11.4" text-anchor="middle" fill="#000">64</text>
<path d="M2363.2,442.10h-3.6" stroke="#000" stroke-width="0.8"/>
<text transform="translate(2357.70,446.20) scale(1.13,1)" font-size="11.4" text-anchor="end" fill="#000">0.0</text>
<path d="M2363.2,403.32h-3.6" stroke="#000" stroke-width="0.8"/>
<text transform="translate(2357.70,407.42) scale(1.13,1)" font-size="11.4" text-anchor="end" fill="#000">0.1</text>
<path d="M2363.2,364.54h-3.6" stroke="#000" stroke-width="0.8"/>
<text transform="translate(2357.70,368.64) scale(1.13,1)" font-size="11.4" text-anchor="end" fill="#000">0.2</text>
<path d="M2363.2,325.76h-3.6" stroke="#000" stroke-width="0.8"/>
<text transform="translate(2357.70,329.86) scale(1.13,1)" font-size="11.4" text-anchor="end" fill="#000">0.3</text>
<path d="M2363.2,286.98h-3.6" stroke="#000" stroke-width="0.8"/>
<text transform="translate(2357.70,291.08) scale(1.13,1)" font-size="11.4" text-anchor="end" fill="#000">0.4</text>
<path d="M2363.2,248.20h-3.6" stroke="#000" stroke-width="0.8"/>
<text transform="translate(2357.70,252.30) scale(1.13,1)" font-size="11.4" text-anchor="end" fill="#000">0.5</text>
<text transform="translate(2333.60,345.95) rotate(-90) scale(1.125,1)" font-size="11.4" text-anchor="middle" fill="#000">Formation Energy (eV)</text>
<text transform="translate(2492.85,471.10) scale(1.13,1)" font-size="11.4" text-anchor="middle" fill="#000">L<tspan dy="-4.5" font-size="70%">−1</tspan><tspan dy="4.5">&#8203;</tspan> (Å<tspan dy="-4.5" font-size="70%">−1</tspan><tspan dy="4.5">&#8203;</tspan>)</text>
<line x1="2363.10" y1="319.94" x2="2592.90" y2="341.66" stroke="#800080" stroke-width="1.15" stroke-dasharray="1.2 1.9"/>
<line x1="2363.10" y1="373.46" x2="2592.90" y2="380.83" stroke="#ffa500" stroke-width="1.15" stroke-dasharray="1.2 1.9"/>
<line x1="2363.10" y1="367.84" x2="2592.90" y2="381.60" stroke="#808080" stroke-width="1.15" stroke-dasharray="1.2 1.9"/>
<path d="M2439.70,325.31L2443.25,328.86L2439.70,332.41L2436.15,328.86Z" fill="#800080"/>
<path d="M2478.00,324.92L2481.55,328.47L2478.00,332.02L2474.45,328.47Z" fill="#800080"/>
<path d="M2592.90,338.50L2596.45,342.05L2592.90,345.60L2589.35,342.05Z" fill="#800080"/>
<path d="M2439.70,369.91L2443.25,373.46L2439.70,377.01L2436.15,373.46Z" fill="#ffa500"/>
<path d="M2478.00,375.92L2481.55,379.47L2478.00,383.02L2474.45,379.47Z" fill="#ffa500"/>
<path d="M2592.90,376.66L2596.45,380.21L2592.90,383.76L2589.35,380.21Z" fill="#ffa500"/>
<circle cx="2439.70" cy="374.24" r="2.50" fill="#808080"/>
<circle cx="2478.00" cy="372.30" r="2.50" fill="#808080"/>
<circle cx="2592.90" cy="382.77" r="2.50" fill="#808080"/>
<path d="M2497.50,254.85L2501.05,258.40L2497.50,261.95L2493.95,258.40Z" fill="#800080"/>
<text transform="translate(2509.50,260.80) scale(1.15,1)" font-size="6.7" text-anchor="start" fill="#000" font-weight="bold">(Cd<tspan dy="1.3" font-size="62%">int</tspan><tspan dy="-1.3">+As</tspan><tspan dy="1.3" font-size="62%">Te</tspan><tspan dy="-1.3">)</tspan><tspan dy="-2.2" font-size="62%">+1</tspan><tspan dy="2.2">&#8203;</tspan> FNV Correction</text>
<path d="M2497.50,265.75L2501.05,269.30L2497.50,272.85L2493.95,269.30Z" fill="#ffa500"/>
<text transform="translate(2509.50,271.70) scale(1.15,1)" font-size="6.7" text-anchor="start" fill="#000" font-weight="bold">(Cd<tspan dy="1.3" font-size="62%">int</tspan><tspan dy="-1.3">+As</tspan><tspan dy="1.3" font-size="62%">Te</tspan><tspan dy="-1.3">)</tspan><tspan dy="-2.2" font-size="62%">+1</tspan><tspan dy="2.2">&#8203;</tspan> This work</text>
<circle cx="2497.50" cy="280.50" r="2.50" fill="#808080"/>
<text transform="translate(2509.50,282.90) scale(1.15,1)" font-size="6.7" text-anchor="start" fill="#000" font-weight="bold">(Cd<tspan dy="1.3" font-size="62%">int</tspan><tspan dy="-1.3">+As</tspan><tspan dy="1.3" font-size="62%">Te</tspan><tspan dy="-1.3">)</tspan><tspan dy="-2.2" font-size="62%">+1</tspan><tspan dy="2.2">&#8203;</tspan> No Correction</text>
<text transform="translate(2376.70,268.30) scale(1.13,1)" font-size="11.6" text-anchor="start" fill="#000">(Cd<tspan dy="2.2" font-size="70%">int</tspan><tspan dy="-2.2">+As</tspan><tspan dy="2.2" font-size="70%">Te</tspan><tspan dy="-2.2">)</tspan><tspan dy="-4.5" font-size="70%">+1</tspan></text>
<rect x="2209.40" y="541.50" width="260.40" height="193.30" fill="none" stroke="#000" stroke-width="0.8"/>
<path d="M2286.00,734.8v3.6M2286.00,541.5v-3.6" stroke="#000" stroke-width="0.8"/>
<text transform="translate(2286.00,749.10) scale(1.13,1)" font-size="11.4" text-anchor="middle" fill="#000">0.04</text>
<text transform="translate(2286.00,534.00) scale(1.13,1)" font-size="11.4" text-anchor="middle" fill="#000">512</text>
<path d="M2324.00,734.8v3.6M2324.00,541.5v-3.6" stroke="#000" stroke-width="0.8"/>
<text transform="translate(2324.00,749.10) scale(1.13,1)" font-size="11.4" text-anchor="middle" fill="#000">0.05</text>
<text transform="translate(2324.00,534.00) scale(1.13,1)" font-size="11.4" text-anchor="middle" fill="#000">216</text>
<path d="M2438.00,734.8v3.6M2438.00,541.5v-3.6" stroke="#000" stroke-width="0.8"/>
<text transform="translate(2438.00,749.10) scale(1.13,1)" font-size="11.4" text-anchor="middle" fill="#000">0.08</text>
<text transform="translate(2438.00,534.00) scale(1.13,1)" font-size="11.4" text-anchor="middle" fill="#000">64</text>
<path d="M2209.4,662.05h-3.6" stroke="#000" stroke-width="0.8"/>
<text transform="translate(2203.90,666.15) scale(1.13,1)" font-size="11.4" text-anchor="end" fill="#000">0.0</text>
<path d="M2209.4,637.94h-3.6" stroke="#000" stroke-width="0.8"/>
<text transform="translate(2203.90,642.04) scale(1.13,1)" font-size="11.4" text-anchor="end" fill="#000">0.1</text>
<path d="M2209.4,613.83h-3.6" stroke="#000" stroke-width="0.8"/>
<text transform="translate(2203.90,617.93) scale(1.13,1)" font-size="11.4" text-anchor="end" fill="#000">0.2</text>
<path d="M2209.4,589.72h-3.6" stroke="#000" stroke-width="0.8"/>
<text transform="translate(2203.90,593.82) scale(1.13,1)" font-size="11.4" text-anchor="end" fill="#000">0.3</text>
<path d="M2209.4,565.61h-3.6" stroke="#000" stroke-width="0.8"/>
<text transform="translate(2203.90,569.71) scale(1.13,1)" font-size="11.4" text-anchor="end" fill="#000">0.4</text>
<path d="M2209.4,541.50h-3.6" stroke="#000" stroke-width="0.8"/>
<text transform="translate(2203.90,545.60) scale(1.13,1)" font-size="11.4" text-anchor="end" fill="#000">0.5</text>
<text transform="translate(2179.80,638.95) rotate(-90) scale(1.125,1)" font-size="11.4" text-anchor="middle" fill="#000">Formation Energy (eV)</text>
<text transform="translate(2339.10,763.80) scale(1.13,1)" font-size="11.4" text-anchor="middle" fill="#000">L<tspan dy="-4.5" font-size="70%">−1</tspan><tspan dy="4.5">&#8203;</tspan> (Å<tspan dy="-4.5" font-size="70%">−1</tspan><tspan dy="4.5">&#8203;</tspan>)</text>
<line x1="2210.00" y1="623.23" x2="2438.00" y2="565.37" stroke="#800080" stroke-width="1.15" stroke-dasharray="1.2 1.9"/>
<line x1="2210.00" y1="653.13" x2="2438.00" y2="656.02" stroke="#ffa500" stroke-width="1.15" stroke-dasharray="1.2 1.9"/>
<line x1="2210.00" y1="661.21" x2="2438.00" y2="718.47" stroke="#808080" stroke-width="1.15" stroke-dasharray="1.2 1.9"/>
<path d="M2286.00,600.39L2289.55,603.94L2286.00,607.49L2282.45,603.94Z" fill="#800080"/>
<path d="M2324.00,591.47L2327.55,595.02L2324.00,598.57L2320.45,595.02Z" fill="#800080"/>
<path d="M2438.00,561.82L2441.55,565.37L2438.00,568.92L2434.45,565.37Z" fill="#800080"/>
<path d="M2286.00,649.94L2289.55,653.49L2286.00,657.04L2282.45,653.49Z" fill="#ffa500"/>
<path d="M2324.00,652.09L2327.55,655.64L2324.00,659.19L2320.45,655.64Z" fill="#ffa500"/>
<path d="M2438.00,652.47L2441.55,656.02L2438.00,659.57L2434.45,656.02Z" fill="#ffa500"/>
<circle cx="2286.00" cy="679.17" r="2.50" fill="#808080"/>
<circle cx="2324.00" cy="691.95" r="2.50" fill="#808080"/>
<circle cx="2438.00" cy="718.47" r="2.50" fill="#808080"/>
<path d="M2222.30,547.75L2225.85,551.30L2222.30,554.85L2218.75,551.30Z" fill="#800080"/>
<text transform="translate(2234.30,553.70) scale(1.15,1)" font-size="6.7" text-anchor="start" fill="#000" font-weight="bold">Cu<tspan dy="-2.2" font-size="62%">+2</tspan><tspan dy="3.6" dx="-4.4" font-size="62%">int</tspan><tspan dy="-1.4">&#8203;</tspan> FNV Correction</text>
<path d="M2222.30,559.35L2225.85,562.90L2222.30,566.45L2218.75,562.90Z" fill="#ffa500"/>
<text transform="translate(2234.30,565.30) scale(1.15,1)" font-size="6.7" text-anchor="start" fill="#000" font-weight="bold">Cu<tspan dy="-2.2" font-size="62%">+2</tspan><tspan dy="3.6" dx="-4.4" font-size="62%">int</tspan><tspan dy="-1.4">&#8203;</tspan> This work</text>
<circle cx="2222.30" cy="574.90" r="2.50" fill="#808080"/>
<text transform="translate(2234.30,577.30) scale(1.15,1)" font-size="6.7" text-anchor="start" fill="#000" font-weight="bold">Cu<tspan dy="-2.2" font-size="62%">+2</tspan><tspan dy="3.6" dx="-4.4" font-size="62%">int</tspan><tspan dy="-1.4">&#8203;</tspan> No Correction</text>
<text transform="translate(2222.70,716.50) scale(1.13,1)" font-size="11.6" text-anchor="start" fill="#000">Cu<tspan dy="2.2" font-size="70%">int</tspan><tspan dy="-6.7" font-size="70%">+2</tspan></text>
<text transform="translate(2166.70,498.50)" font-size="14.6" text-anchor="middle" fill="#000">(a)</text>
<text transform="translate(2473.20,498.50)" font-size="14.6" text-anchor="middle" fill="#000">(b)</text>
<text transform="translate(2319.70,790.00)" font-size="14.6" text-anchor="middle" fill="#000">(c)</text>
<rect x="3854.60" y="97.70" width="200.70" height="199.10" fill="#fff" stroke="none"/>
<text transform="translate(3863.70,304.60) scale(1.16,1)" font-size="7.4" text-anchor="middle" fill="#262626">0.00</text>
<text transform="translate(3894.05,304.60) scale(1.16,1)" font-size="7.4" text-anchor="middle" fill="#262626">0.25</text>
<text transform="translate(3924.40,304.60) scale(1.16,1)" font-size="7.4" text-anchor="middle" fill="#262626">0.50</text>
<text transform="translate(3954.75,304.60) scale(1.16,1)" font-size="7.4" text-anchor="middle" fill="#262626">0.75</text>
<text transform="translate(3985.10,304.60) scale(1.16,1)" font-size="7.4" text-anchor="middle" fill="#262626">1.00</text>
<text transform="translate(4015.45,304.60) scale(1.16,1)" font-size="7.4" text-anchor="middle" fill="#262626">1.25</text>
<text transform="translate(4045.80,304.60) scale(1.16,1)" font-size="7.4" text-anchor="middle" fill="#262626">1.50</text>
<text transform="translate(3851.20,298.80) scale(1.16,1)" font-size="7.4" text-anchor="end" fill="#262626">−2</text>
<text transform="translate(3851.20,275.48) scale(1.16,1)" font-size="7.4" text-anchor="end" fill="#262626">−1</text>
<text transform="translate(3851.20,252.16) scale(1.16,1)" font-size="7.4" text-anchor="end" fill="#262626">0</text>
<text transform="translate(3851.20,228.84) scale(1.16,1)" font-size="7.4" text-anchor="end" fill="#262626">1</text>
<text transform="translate(3851.20,205.52) scale(1.16,1)" font-size="7.4" text-anchor="end" fill="#262626">2</text>
<text transform="translate(3851.20,182.20) scale(1.16,1)" font-size="7.4" text-anchor="end" fill="#262626">3</text>
<text transform="translate(3851.20,158.88) scale(1.16,1)" font-size="7.4" text-anchor="end" fill="#262626">4</text>
<text transform="translate(3851.20,135.56) scale(1.16,1)" font-size="7.4" text-anchor="end" fill="#262626">5</text>
<text transform="translate(3851.20,112.24) scale(1.16,1)" font-size="7.4" text-anchor="end" fill="#262626">6</text>
<path d="M3863.70,97.70V296.80M3894.05,97.70V296.80M3924.40,97.70V296.80M3954.75,97.70V296.80M3985.10,97.70V296.80M4015.45,97.70V296.80M4045.80,97.70V296.80M3854.60,296.20H4055.30M3854.60,272.88H4055.30M3854.60,249.56H4055.30M3854.60,226.24H4055.30M3854.60,202.92H4055.30M3854.60,179.60H4055.30M3854.60,156.28H4055.30M3854.60,132.96H4055.30M3854.60,109.64H4055.30" stroke="#e2e2e2" stroke-width="0.7" fill="none"/>
<rect x="3854.60" y="97.70" width="200.70" height="199.10" fill="none" stroke="#d4d4d4" stroke-width="0.8"/>
<path d="M3863.70,175.64L3884.34,175.64L3900.12,178.67L4045.80,234.64" stroke="#1f77b4" stroke-width="1.25" fill="none" stroke-linejoin="round"/>
<path d="M3863.70,260.29L4045.80,190.56" stroke="#ff7f0e" stroke-width="1.25" fill="none" stroke-linejoin="round"/>
<path d="M3863.70,244.90L4045.80,175.17" stroke="#2ca02c" stroke-width="1.25" fill="none" stroke-linejoin="round"/>
<path d="M3863.70,176.80L3884.34,169.11L3917.12,162.58L4045.80,162.58" stroke="#d62728" stroke-width="1.25" fill="none" stroke-linejoin="round"/>
<path d="M3863.70,168.87L3912.26,150.22L3976.60,137.86L4045.80,137.86" stroke="#9467bd" stroke-width="1.25" fill="none" stroke-linejoin="round"/>
<path d="M3863.70,266.35L4013.02,208.75L4045.80,202.22" stroke="#8c564b" stroke-width="1.25" fill="none" stroke-linejoin="round"/>
<path d="M3863.70,192.89L3898.91,179.60L4045.80,179.60" stroke="#e377c2" stroke-width="1.25" fill="none" stroke-linejoin="round"/>
<path d="M3863.70,113.84L3966.89,113.84L4045.80,144.15" stroke="#7f7f7f" stroke-width="1.25" fill="none" stroke-linejoin="round"/>
<path d="M3863.70,117.34L4045.80,117.34" stroke="#bcbd22" stroke-width="1.25" fill="none" stroke-linejoin="round"/>
<line x1="3863.70" y1="97.70" x2="3863.70" y2="296.80" stroke="#000" stroke-width="1.15" stroke-dasharray="4.2 1.8"/>
<line x1="4045.80" y1="97.70" x2="4045.80" y2="296.80" stroke="#000" stroke-width="1.15" stroke-dasharray="4.2 1.8"/>
<rect x="3938.50" y="236.30" width="112.5" height="55.8" rx="1.5" fill="#d6d6d6" fill-opacity="0.86"/>
<line x1="3941.10" y1="242.80" x2="3956.40" y2="242.80" stroke="#1f77b4" stroke-width="1.25"/>
<text transform="translate(3961.40,245.30) scale(1.08,1)" font-size="7.0" text-anchor="start" fill="#262626"><tspan dy="0">V</tspan><tspan dy="1.4" font-size="78%" font-style="italic">Cd</tspan><tspan dy="-1.4">&#8203;</tspan></text>
<line x1="3941.10" y1="253.55" x2="3956.40" y2="253.55" stroke="#ff7f0e" stroke-width="1.25"/>
<text transform="translate(3961.40,256.05) scale(1.08,1)" font-size="7.0" text-anchor="start" fill="#262626"><tspan dy="0">V</tspan><tspan dy="1.4" font-size="78%" font-style="italic">Te</tspan><tspan dy="-1.4">&#8203;</tspan></text>
<line x1="3941.10" y1="264.30" x2="3956.40" y2="264.30" stroke="#2ca02c" stroke-width="1.25"/>
<text transform="translate(3961.40,266.80) scale(1.08,1)" font-size="7.0" text-anchor="start" fill="#262626"><tspan dy="0">Cd</tspan><tspan dy="1.4" font-size="78%" font-style="italic">Te</tspan><tspan dy="-1.4">&#8203;</tspan></text>
<line x1="3941.10" y1="275.05" x2="3956.40" y2="275.05" stroke="#d62728" stroke-width="1.25"/>
<text transform="translate(3961.40,277.55) scale(1.08,1)" font-size="7.0" text-anchor="start" fill="#262626"><tspan dy="0">Te</tspan><tspan dy="1.4" font-size="78%" font-style="italic">Cd</tspan><tspan dy="-1.4">&#8203;</tspan></text>
<line x1="3941.10" y1="285.80" x2="3956.40" y2="285.80" stroke="#9467bd" stroke-width="1.25"/>
<text transform="translate(3961.40,288.30) scale(1.08,1)" font-size="7.0" text-anchor="start" fill="#262626"><tspan dy="0">Se</tspan><tspan dy="1.4" font-size="78%" font-style="italic">Cd</tspan><tspan dy="-1.4">&#8203;</tspan></text>
<line x1="3993.00" y1="242.80" x2="4008.30" y2="242.80" stroke="#8c564b" stroke-width="1.25"/>
<text transform="translate(4013.30,245.30) scale(1.08,1)" font-size="7.0" text-anchor="start" fill="#262626"><tspan dy="0">Cd</tspan><tspan dy="1.4" font-size="78%" font-style="italic">int</tspan><tspan dy="-1.4">&#8203;</tspan></text>
<line x1="3993.00" y1="253.55" x2="4008.30" y2="253.55" stroke="#e377c2" stroke-width="1.25"/>
<text transform="translate(4013.30,256.05) scale(1.08,1)" font-size="7.0" text-anchor="start" fill="#262626"><tspan dy="0">Te</tspan><tspan dy="1.4" font-size="78%" font-style="italic">int</tspan><tspan dy="-1.4">&#8203;</tspan></text>
<line x1="3993.00" y1="264.30" x2="4008.30" y2="264.30" stroke="#7f7f7f" stroke-width="1.25"/>
<text transform="translate(4013.30,266.80) scale(1.08,1)" font-size="7.0" text-anchor="start" fill="#262626"><tspan dy="0">V</tspan><tspan dy="1.4" font-size="78%" font-style="italic">Cd</tspan><tspan dy="-1.4">&#8203;</tspan><tspan dy="0">+Te</tspan><tspan dy="1.4" font-size="78%" font-style="italic">Cd</tspan><tspan dy="-1.4">&#8203;</tspan></text>
<line x1="3993.00" y1="275.05" x2="4008.30" y2="275.05" stroke="#bcbd22" stroke-width="1.25"/>
<text transform="translate(4013.30,277.55) scale(1.08,1)" font-size="7.0" text-anchor="start" fill="#262626"><tspan dy="0">Te</tspan><tspan dy="1.4" font-size="78%" font-style="italic">int</tspan><tspan dy="-1.4">&#8203;</tspan><tspan dy="0">+Te</tspan><tspan dy="1.4" font-size="78%" font-style="italic">Cd</tspan><tspan dy="-1.4">&#8203;</tspan></text>
<text transform="translate(3954.95,315.30) scale(1.12,1)" font-size="7.8" text-anchor="middle" fill="#262626">Fermi Level [eV]</text>
<text transform="translate(3838.60,195.75) rotate(-90) scale(1.15,1)" font-size="7.8" text-anchor="middle" fill="#262626">Defect Formation Energy [eV]</text>
<text transform="translate(3943.50,339.50)" font-size="14.6" text-anchor="middle" fill="#000">(a)</text>
<rect x="4085.40" y="97.70" width="200.70" height="199.10" fill="#fff" stroke="none"/>
<text transform="translate(4094.50,304.60) scale(1.16,1)" font-size="7.4" text-anchor="middle" fill="#262626">0.00</text>
<text transform="translate(4128.12,304.60) scale(1.16,1)" font-size="7.4" text-anchor="middle" fill="#262626">0.25</text>
<text transform="translate(4161.74,304.60) scale(1.16,1)" font-size="7.4" text-anchor="middle" fill="#262626">0.50</text>
<text transform="translate(4195.36,304.60) scale(1.16,1)" font-size="7.4" text-anchor="middle" fill="#262626">0.75</text>
<text transform="translate(4228.98,304.60) scale(1.16,1)" font-size="7.4" text-anchor="middle" fill="#262626">1.00</text>
<text transform="translate(4262.60,304.60) scale(1.16,1)" font-size="7.4" text-anchor="middle" fill="#262626">1.25</text>
<text transform="translate(4082.00,298.80) scale(1.16,1)" font-size="7.4" text-anchor="end" fill="#262626">−2</text>
<text transform="translate(4082.00,275.48) scale(1.16,1)" font-size="7.4" text-anchor="end" fill="#262626">−1</text>
<text transform="translate(4082.00,252.16) scale(1.16,1)" font-size="7.4" text-anchor="end" fill="#262626">0</text>
<text transform="translate(4082.00,228.84) scale(1.16,1)" font-size="7.4" text-anchor="end" fill="#262626">1</text>
<text transform="translate(4082.00,205.52) scale(1.16,1)" font-size="7.4" text-anchor="end" fill="#262626">2</text>
<text transform="translate(4082.00,182.20) scale(1.16,1)" font-size="7.4" text-anchor="end" fill="#262626">3</text>
<text transform="translate(4082.00,158.88) scale(1.16,1)" font-size="7.4" text-anchor="end" fill="#262626">4</text>
<text transform="translate(4082.00,135.56) scale(1.16,1)" font-size="7.4" text-anchor="end" fill="#262626">5</text>
<text transform="translate(4082.00,112.24) scale(1.16,1)" font-size="7.4" text-anchor="end" fill="#262626">6</text>
<path d="M4094.50,97.70V296.80M4128.12,97.70V296.80M4161.74,97.70V296.80M4195.36,97.70V296.80M4228.98,97.70V296.80M4262.60,97.70V296.80M4085.40,296.20H4286.10M4085.40,272.88H4286.10M4085.40,249.56H4286.10M4085.40,226.24H4286.10M4085.40,202.92H4286.10M4085.40,179.60H4286.10M4085.40,156.28H4286.10M4085.40,132.96H4286.10M4085.40,109.64H4286.10" stroke="#e2e2e2" stroke-width="0.7" fill="none"/>
<rect x="4085.40" y="97.70" width="200.70" height="199.10" fill="none" stroke="#d4d4d4" stroke-width="0.8"/>
<path d="M4094.50,174.94L4114.67,174.94L4134.84,178.43L4277.12,227.78" stroke="#1f77b4" stroke-width="1.25" fill="none" stroke-linejoin="round"/>
<path d="M4094.50,263.55L4277.12,200.59" stroke="#ff7f0e" stroke-width="1.25" fill="none" stroke-linejoin="round"/>
<path d="M4094.50,244.43L4277.12,181.47" stroke="#2ca02c" stroke-width="1.25" fill="none" stroke-linejoin="round"/>
<path d="M4094.50,178.43L4125.43,167.24L4150.98,162.81L4277.12,162.81" stroke="#d62728" stroke-width="1.25" fill="none" stroke-linejoin="round"/>
<path d="M4094.50,166.77L4203.43,147.65L4277.12,147.65" stroke="#9467bd" stroke-width="1.25" fill="none" stroke-linejoin="round"/>
<path d="M4094.50,267.28L4277.12,204.32" stroke="#8c564b" stroke-width="1.25" fill="none" stroke-linejoin="round"/>
<path d="M4094.50,196.39L4150.98,176.80L4277.12,176.80" stroke="#e377c2" stroke-width="1.25" fill="none" stroke-linejoin="round"/>
<path d="M4094.50,108.47L4277.12,108.47" stroke="#7f7f7f" stroke-width="1.25" fill="none" stroke-linejoin="round"/>
<path d="M4094.50,111.51L4277.12,111.51" stroke="#bcbd22" stroke-width="1.25" fill="none" stroke-linejoin="round"/>
<line x1="4094.50" y1="97.70" x2="4094.50" y2="296.80" stroke="#000" stroke-width="1.15" stroke-dasharray="4.2 1.8"/>
<line x1="4277.12" y1="97.70" x2="4277.12" y2="296.80" stroke="#000" stroke-width="1.15" stroke-dasharray="4.2 1.8"/>
<rect x="4169.20" y="236.30" width="112.5" height="55.8" rx="1.5" fill="#d6d6d6" fill-opacity="0.86"/>
<line x1="4171.80" y1="242.80" x2="4187.10" y2="242.80" stroke="#1f77b4" stroke-width="1.25"/>
<text transform="translate(4192.10,245.30) scale(1.08,1)" font-size="7.0" text-anchor="start" fill="#262626"><tspan dy="0">V</tspan><tspan dy="1.4" font-size="78%" font-style="italic">Cd</tspan><tspan dy="-1.4">&#8203;</tspan></text>
<line x1="4171.80" y1="253.55" x2="4187.10" y2="253.55" stroke="#ff7f0e" stroke-width="1.25"/>
<text transform="translate(4192.10,256.05) scale(1.08,1)" font-size="7.0" text-anchor="start" fill="#262626"><tspan dy="0">V</tspan><tspan dy="1.4" font-size="78%" font-style="italic">Te</tspan><tspan dy="-1.4">&#8203;</tspan></text>
<line x1="4171.80" y1="264.30" x2="4187.10" y2="264.30" stroke="#2ca02c" stroke-width="1.25"/>
<text transform="translate(4192.10,266.80) scale(1.08,1)" font-size="7.0" text-anchor="start" fill="#262626"><tspan dy="0">Cd</tspan><tspan dy="1.4" font-size="78%" font-style="italic">Te</tspan><tspan dy="-1.4">&#8203;</tspan></text>
<line x1="4171.80" y1="275.05" x2="4187.10" y2="275.05" stroke="#d62728" stroke-width="1.25"/>
<text transform="translate(4192.10,277.55) scale(1.08,1)" font-size="7.0" text-anchor="start" fill="#262626"><tspan dy="0">Te</tspan><tspan dy="1.4" font-size="78%" font-style="italic">Cd</tspan><tspan dy="-1.4">&#8203;</tspan></text>
<line x1="4171.80" y1="285.80" x2="4187.10" y2="285.80" stroke="#9467bd" stroke-width="1.25"/>
<text transform="translate(4192.10,288.30) scale(1.08,1)" font-size="7.0" text-anchor="start" fill="#262626"><tspan dy="0">Se</tspan><tspan dy="1.4" font-size="78%" font-style="italic">Cd</tspan><tspan dy="-1.4">&#8203;</tspan></text>
<line x1="4223.70" y1="242.80" x2="4239.00" y2="242.80" stroke="#8c564b" stroke-width="1.25"/>
<text transform="translate(4244.00,245.30) scale(1.08,1)" font-size="7.0" text-anchor="start" fill="#262626"><tspan dy="0">Cd</tspan><tspan dy="1.4" font-size="78%" font-style="italic">int</tspan><tspan dy="-1.4">&#8203;</tspan></text>
<line x1="4223.70" y1="253.55" x2="4239.00" y2="253.55" stroke="#e377c2" stroke-width="1.25"/>
<text transform="translate(4244.00,256.05) scale(1.08,1)" font-size="7.0" text-anchor="start" fill="#262626"><tspan dy="0">Te</tspan><tspan dy="1.4" font-size="78%" font-style="italic">int</tspan><tspan dy="-1.4">&#8203;</tspan></text>
<line x1="4223.70" y1="264.30" x2="4239.00" y2="264.30" stroke="#7f7f7f" stroke-width="1.25"/>
<text transform="translate(4244.00,266.80) scale(1.08,1)" font-size="7.0" text-anchor="start" fill="#262626"><tspan dy="0">V</tspan><tspan dy="1.4" font-size="78%" font-style="italic">Cd</tspan><tspan dy="-1.4">&#8203;</tspan><tspan dy="0">+Te</tspan><tspan dy="1.4" font-size="78%" font-style="italic">Cd</tspan><tspan dy="-1.4">&#8203;</tspan></text>
<line x1="4223.70" y1="275.05" x2="4239.00" y2="275.05" stroke="#bcbd22" stroke-width="1.25"/>
<text transform="translate(4244.00,277.55) scale(1.08,1)" font-size="7.0" text-anchor="start" fill="#262626"><tspan dy="0">Te</tspan><tspan dy="1.4" font-size="78%" font-style="italic">int</tspan><tspan dy="-1.4">&#8203;</tspan><tspan dy="0">+Te</tspan><tspan dy="1.4" font-size="78%" font-style="italic">Cd</tspan><tspan dy="-1.4">&#8203;</tspan></text>
<text transform="translate(4185.75,315.30) scale(1.12,1)" font-size="7.8" text-anchor="middle" fill="#262626">Fermi Level [eV]</text>
<text transform="translate(4069.40,195.75) rotate(-90) scale(1.15,1)" font-size="7.8" text-anchor="middle" fill="#262626">Defect Formation Energy [eV]</text>
<text transform="translate(4174.00,339.50)" font-size="14.6" text-anchor="middle" fill="#000">(b)</text>
<rect x="4316.20" y="97.70" width="200.70" height="199.10" fill="#fff" stroke="none"/>
<text transform="translate(4325.30,304.60) scale(1.16,1)" font-size="7.4" text-anchor="middle" fill="#262626">0.00</text>
<text transform="translate(4359.48,304.60) scale(1.16,1)" font-size="7.4" text-anchor="middle" fill="#262626">0.25</text>
<text transform="translate(4393.66,304.60) scale(1.16,1)" font-size="7.4" text-anchor="middle" fill="#262626">0.50</text>
<text transform="translate(4427.84,304.60) scale(1.16,1)" font-size="7.4" text-anchor="middle" fill="#262626">0.75</text>
<text transform="translate(4462.02,304.60) scale(1.16,1)" font-size="7.4" text-anchor="middle" fill="#262626">1.00</text>
<text transform="translate(4496.20,304.60) scale(1.16,1)" font-size="7.4" text-anchor="middle" fill="#262626">1.25</text>
<text transform="translate(4312.80,298.80) scale(1.16,1)" font-size="7.4" text-anchor="end" fill="#262626">−2</text>
<text transform="translate(4312.80,275.48) scale(1.16,1)" font-size="7.4" text-anchor="end" fill="#262626">−1</text>
<text transform="translate(4312.80,252.16) scale(1.16,1)" font-size="7.4" text-anchor="end" fill="#262626">0</text>
<text transform="translate(4312.80,228.84) scale(1.16,1)" font-size="7.4" text-anchor="end" fill="#262626">1</text>
<text transform="translate(4312.80,205.52) scale(1.16,1)" font-size="7.4" text-anchor="end" fill="#262626">2</text>
<text transform="translate(4312.80,182.20) scale(1.16,1)" font-size="7.4" text-anchor="end" fill="#262626">3</text>
<text transform="translate(4312.80,158.88) scale(1.16,1)" font-size="7.4" text-anchor="end" fill="#262626">4</text>
<text transform="translate(4312.80,135.56) scale(1.16,1)" font-size="7.4" text-anchor="end" fill="#262626">5</text>
<text transform="translate(4312.80,112.24) scale(1.16,1)" font-size="7.4" text-anchor="end" fill="#262626">6</text>
<path d="M4325.30,97.70V296.80M4359.48,97.70V296.80M4393.66,97.70V296.80M4427.84,97.70V296.80M4462.02,97.70V296.80M4496.20,97.70V296.80M4316.20,296.20H4516.90M4316.20,272.88H4516.90M4316.20,249.56H4516.90M4316.20,226.24H4516.90M4316.20,202.92H4516.90M4316.20,179.60H4516.90M4316.20,156.28H4516.90M4316.20,132.96H4516.90M4316.20,109.64H4516.90" stroke="#e2e2e2" stroke-width="0.7" fill="none"/>
<rect x="4316.20" y="97.70" width="200.70" height="199.10" fill="none" stroke="#d4d4d4" stroke-width="0.8"/>
<path d="M4325.30,172.14L4343.07,172.14L4374.52,177.50L4507.68,222.93" stroke="#1f77b4" stroke-width="1.25" fill="none" stroke-linejoin="round"/>
<path d="M4325.30,263.55L4507.68,201.29" stroke="#ff7f0e" stroke-width="1.25" fill="none" stroke-linejoin="round"/>
<path d="M4325.30,247.23L4507.68,184.96" stroke="#2ca02c" stroke-width="1.25" fill="none" stroke-linejoin="round"/>
<path d="M4325.30,172.60L4338.97,168.64L4388.19,160.24L4507.68,160.24" stroke="#d62728" stroke-width="1.25" fill="none" stroke-linejoin="round"/>
<path d="M4325.30,160.94L4343.07,155.11L4507.68,155.11" stroke="#9467bd" stroke-width="1.25" fill="none" stroke-linejoin="round"/>
<path d="M4325.30,268.92L4507.68,206.65" stroke="#8c564b" stroke-width="1.25" fill="none" stroke-linejoin="round"/>
<path d="M4325.30,198.26L4385.46,177.73L4507.68,177.73" stroke="#e377c2" stroke-width="1.25" fill="none" stroke-linejoin="round"/>
<path d="M4325.30,106.61L4507.68,106.61" stroke="#7f7f7f" stroke-width="1.25" fill="none" stroke-linejoin="round"/>
<path d="M4325.30,112.90L4507.68,112.90" stroke="#bcbd22" stroke-width="1.25" fill="none" stroke-linejoin="round"/>
<line x1="4325.30" y1="97.70" x2="4325.30" y2="296.80" stroke="#000" stroke-width="1.15" stroke-dasharray="4.2 1.8"/>
<line x1="4507.68" y1="97.70" x2="4507.68" y2="296.80" stroke="#000" stroke-width="1.15" stroke-dasharray="4.2 1.8"/>
<rect x="4400.00" y="236.30" width="112.5" height="55.8" rx="1.5" fill="#d6d6d6" fill-opacity="0.86"/>
<line x1="4402.60" y1="242.80" x2="4417.90" y2="242.80" stroke="#1f77b4" stroke-width="1.25"/>
<text transform="translate(4422.90,245.30) scale(1.08,1)" font-size="7.0" text-anchor="start" fill="#262626"><tspan dy="0">V</tspan><tspan dy="1.4" font-size="78%" font-style="italic">Cd</tspan><tspan dy="-1.4">&#8203;</tspan></text>
<line x1="4402.60" y1="253.55" x2="4417.90" y2="253.55" stroke="#ff7f0e" stroke-width="1.25"/>
<text transform="translate(4422.90,256.05) scale(1.08,1)" font-size="7.0" text-anchor="start" fill="#262626"><tspan dy="0">V</tspan><tspan dy="1.4" font-size="78%" font-style="italic">Te</tspan><tspan dy="-1.4">&#8203;</tspan></text>
<line x1="4402.60" y1="264.30" x2="4417.90" y2="264.30" stroke="#2ca02c" stroke-width="1.25"/>
<text transform="translate(4422.90,266.80) scale(1.08,1)" font-size="7.0" text-anchor="start" fill="#262626"><tspan dy="0">Cd</tspan><tspan dy="1.4" font-size="78%" font-style="italic">Te</tspan><tspan dy="-1.4">&#8203;</tspan></text>
<line x1="4402.60" y1="275.05" x2="4417.90" y2="275.05" stroke="#d62728" stroke-width="1.25"/>
<text transform="translate(4422.90,277.55) scale(1.08,1)" font-size="7.0" text-anchor="start" fill="#262626"><tspan dy="0">Te</tspan><tspan dy="1.4" font-size="78%" font-style="italic">Cd</tspan><tspan dy="-1.4">&#8203;</tspan></text>
<line x1="4402.60" y1="285.80" x2="4417.90" y2="285.80" stroke="#9467bd" stroke-width="1.25"/>
<text transform="translate(4422.90,288.30) scale(1.08,1)" font-size="7.0" text-anchor="start" fill="#262626"><tspan dy="0">Se</tspan><tspan dy="1.4" font-size="78%" font-style="italic">Cd</tspan><tspan dy="-1.4">&#8203;</tspan></text>
<line x1="4454.50" y1="242.80" x2="4469.80" y2="242.80" stroke="#8c564b" stroke-width="1.25"/>
<text transform="translate(4474.80,245.30) scale(1.08,1)" font-size="7.0" text-anchor="start" fill="#262626"><tspan dy="0">Cd</tspan><tspan dy="1.4" font-size="78%" font-style="italic">int</tspan><tspan dy="-1.4">&#8203;</tspan></text>
<line x1="4454.50" y1="253.55" x2="4469.80" y2="253.55" stroke="#e377c2" stroke-width="1.25"/>
<text transform="translate(4474.80,256.05) scale(1.08,1)" font-size="7.0" text-anchor="start" fill="#262626"><tspan dy="0">Te</tspan><tspan dy="1.4" font-size="78%" font-style="italic">int</tspan><tspan dy="-1.4">&#8203;</tspan></text>
<line x1="4454.50" y1="264.30" x2="4469.80" y2="264.30" stroke="#7f7f7f" stroke-width="1.25"/>
<text transform="translate(4474.80,266.80) scale(1.08,1)" font-size="7.0" text-anchor="start" fill="#262626"><tspan dy="0">V</tspan><tspan dy="1.4" font-size="78%" font-style="italic">Cd</tspan><tspan dy="-1.4">&#8203;</tspan><tspan dy="0">+Te</tspan><tspan dy="1.4" font-size="78%" font-style="italic">Cd</tspan><tspan dy="-1.4">&#8203;</tspan></text>
<line x1="4454.50" y1="275.05" x2="4469.80" y2="275.05" stroke="#bcbd22" stroke-width="1.25"/>
<text transform="translate(4474.80,277.55) scale(1.08,1)" font-size="7.0" text-anchor="start" fill="#262626"><tspan dy="0">Te</tspan><tspan dy="1.4" font-size="78%" font-style="italic">int</tspan><tspan dy="-1.4">&#8203;</tspan><tspan dy="0">+Te</tspan><tspan dy="1.4" font-size="78%" font-style="italic">Cd</tspan><tspan dy="-1.4">&#8203;</tspan></text>
<text transform="translate(4416.55,315.30) scale(1.12,1)" font-size="7.8" text-anchor="middle" fill="#262626">Fermi Level [eV]</text>
<text transform="translate(4300.20,195.75) rotate(-90) scale(1.15,1)" font-size="7.8" text-anchor="middle" fill="#262626">Defect Formation Energy [eV]</text>
<text transform="translate(4405.00,339.50)" font-size="14.6" text-anchor="middle" fill="#000">(c)</text>
<rect x="3853.80" y="366.10" width="201.50" height="193.60" fill="#fff" stroke="none"/>
<text transform="translate(3862.90,566.60) scale(1.16,1)" font-size="7.4" text-anchor="middle" fill="#262626">0.00</text>
<text transform="translate(3893.38,566.60) scale(1.16,1)" font-size="7.4" text-anchor="middle" fill="#262626">0.25</text>
<text transform="translate(3923.86,566.60) scale(1.16,1)" font-size="7.4" text-anchor="middle" fill="#262626">0.50</text>
<text transform="translate(3954.34,566.60) scale(1.16,1)" font-size="7.4" text-anchor="middle" fill="#262626">0.75</text>
<text transform="translate(3984.82,566.60) scale(1.16,1)" font-size="7.4" text-anchor="middle" fill="#262626">1.00</text>
<text transform="translate(4015.30,566.60) scale(1.16,1)" font-size="7.4" text-anchor="middle" fill="#262626">1.25</text>
<text transform="translate(4045.78,566.60) scale(1.16,1)" font-size="7.4" text-anchor="middle" fill="#262626">1.50</text>
<text transform="translate(3850.40,561.90) scale(1.16,1)" font-size="7.4" text-anchor="end" fill="#262626">−1</text>
<text transform="translate(3850.40,537.00) scale(1.16,1)" font-size="7.4" text-anchor="end" fill="#262626">0</text>
<text transform="translate(3850.40,512.10) scale(1.16,1)" font-size="7.4" text-anchor="end" fill="#262626">1</text>
<text transform="translate(3850.40,487.20) scale(1.16,1)" font-size="7.4" text-anchor="end" fill="#262626">2</text>
<text transform="translate(3850.40,462.30) scale(1.16,1)" font-size="7.4" text-anchor="end" fill="#262626">3</text>
<text transform="translate(3850.40,437.40) scale(1.16,1)" font-size="7.4" text-anchor="end" fill="#262626">4</text>
<text transform="translate(3850.40,412.50) scale(1.16,1)" font-size="7.4" text-anchor="end" fill="#262626">5</text>
<text transform="translate(3850.40,387.60) scale(1.16,1)" font-size="7.4" text-anchor="end" fill="#262626">6</text>
<path d="M3862.90,366.10V559.70M3893.38,366.10V559.70M3923.86,366.10V559.70M3954.34,366.10V559.70M3984.82,366.10V559.70M4015.30,366.10V559.70M4045.78,366.10V559.70M3853.80,559.30H4055.30M3853.80,534.40H4055.30M3853.80,509.50H4055.30M3853.80,484.60H4055.30M3853.80,459.70H4055.30M3853.80,434.80H4055.30M3853.80,409.90H4055.30M3853.80,385.00H4055.30" stroke="#e2e2e2" stroke-width="0.7" fill="none"/>
<rect x="3853.80" y="366.10" width="201.50" height="193.60" fill="none" stroke="#d4d4d4" stroke-width="0.8"/>
<path d="M3862.90,486.34L3883.63,486.34L3899.48,489.58L4045.78,549.34" stroke="#1f77b4" stroke-width="1.25" fill="none" stroke-linejoin="round"/>
<path d="M3862.90,513.73L4045.78,439.53" stroke="#ff7f0e" stroke-width="1.25" fill="none" stroke-linejoin="round"/>
<path d="M3862.90,465.68L4045.78,391.22" stroke="#2ca02c" stroke-width="1.25" fill="none" stroke-linejoin="round"/>
<path d="M3862.90,520.46L3883.63,511.99L3916.54,505.27L4045.78,505.27" stroke="#d62728" stroke-width="1.25" fill="none" stroke-linejoin="round"/>
<path d="M3862.90,511.99L3911.67,492.07L3976.29,479.12L4045.78,479.12" stroke="#9467bd" stroke-width="1.25" fill="none" stroke-linejoin="round"/>
<path d="M3862.90,520.46L4012.86,458.95L4045.78,451.98" stroke="#8c564b" stroke-width="1.25" fill="none" stroke-linejoin="round"/>
<path d="M3862.90,505.76L3898.26,491.57L4045.78,491.57" stroke="#e377c2" stroke-width="1.25" fill="none" stroke-linejoin="round"/>
<path d="M3862.90,485.35L3966.53,485.35L4045.78,517.72" stroke="#7f7f7f" stroke-width="1.25" fill="none" stroke-linejoin="round"/>
<path d="M3862.90,488.83L4045.78,488.83" stroke="#bcbd22" stroke-width="1.25" fill="none" stroke-linejoin="round"/>
<line x1="3862.90" y1="366.10" x2="3862.90" y2="559.70" stroke="#000" stroke-width="1.15" stroke-dasharray="4.2 1.8"/>
<line x1="4045.78" y1="366.10" x2="4045.78" y2="559.70" stroke="#000" stroke-width="1.15" stroke-dasharray="4.2 1.8"/>
<rect x="3857.80" y="369.30" width="112.5" height="55.8" rx="1.5" fill="#d6d6d6" fill-opacity="0.86"/>
<line x1="3860.40" y1="375.80" x2="3875.70" y2="375.80" stroke="#1f77b4" stroke-width="1.25"/>
<text transform="translate(3880.70,378.30) scale(1.08,1)" font-size="7.0" text-anchor="start" fill="#262626"><tspan dy="0">V</tspan><tspan dy="1.4" font-size="78%" font-style="italic">Cd</tspan><tspan dy="-1.4">&#8203;</tspan></text>
<line x1="3860.40" y1="386.55" x2="3875.70" y2="386.55" stroke="#ff7f0e" stroke-width="1.25"/>
<text transform="translate(3880.70,389.05) scale(1.08,1)" font-size="7.0" text-anchor="start" fill="#262626"><tspan dy="0">V</tspan><tspan dy="1.4" font-size="78%" font-style="italic">Te</tspan><tspan dy="-1.4">&#8203;</tspan></text>
<line x1="3860.40" y1="397.30" x2="3875.70" y2="397.30" stroke="#2ca02c" stroke-width="1.25"/>
<text transform="translate(3880.70,399.80) scale(1.08,1)" font-size="7.0" text-anchor="start" fill="#262626"><tspan dy="0">Cd</tspan><tspan dy="1.4" font-size="78%" font-style="italic">Te</tspan><tspan dy="-1.4">&#8203;</tspan></text>
<line x1="3860.40" y1="408.05" x2="3875.70" y2="408.05" stroke="#d62728" stroke-width="1.25"/>
<text transform="translate(3880.70,410.55) scale(1.08,1)" font-size="7.0" text-anchor="start" fill="#262626"><tspan dy="0">Te</tspan><tspan dy="1.4" font-size="78%" font-style="italic">Cd</tspan><tspan dy="-1.4">&#8203;</tspan></text>
<line x1="3860.40" y1="418.80" x2="3875.70" y2="418.80" stroke="#9467bd" stroke-width="1.25"/>
<text transform="translate(3880.70,421.30) scale(1.08,1)" font-size="7.0" text-anchor="start" fill="#262626"><tspan dy="0">Se</tspan><tspan dy="1.4" font-size="78%" font-style="italic">Cd</tspan><tspan dy="-1.4">&#8203;</tspan></text>
<line x1="3912.30" y1="375.80" x2="3927.60" y2="375.80" stroke="#8c564b" stroke-width="1.25"/>
<text transform="translate(3932.60,378.30) scale(1.08,1)" font-size="7.0" text-anchor="start" fill="#262626"><tspan dy="0">Cd</tspan><tspan dy="1.4" font-size="78%" font-style="italic">int</tspan><tspan dy="-1.4">&#8203;</tspan></text>
<line x1="3912.30" y1="386.55" x2="3927.60" y2="386.55" stroke="#e377c2" stroke-width="1.25"/>
<text transform="translate(3932.60,389.05) scale(1.08,1)" font-size="7.0" text-anchor="start" fill="#262626"><tspan dy="0">Te</tspan><tspan dy="1.4" font-size="78%" font-style="italic">int</tspan><tspan dy="-1.4">&#8203;</tspan></text>
<line x1="3912.30" y1="397.30" x2="3927.60" y2="397.30" stroke="#7f7f7f" stroke-width="1.25"/>
<text transform="translate(3932.60,399.80) scale(1.08,1)" font-size="7.0" text-anchor="start" fill="#262626"><tspan dy="0">V</tspan><tspan dy="1.4" font-size="78%" font-style="italic">Cd</tspan><tspan dy="-1.4">&#8203;</tspan><tspan dy="0">+Te</tspan><tspan dy="1.4" font-size="78%" font-style="italic">Cd</tspan><tspan dy="-1.4">&#8203;</tspan></text>
<line x1="3912.30" y1="408.05" x2="3927.60" y2="408.05" stroke="#bcbd22" stroke-width="1.25"/>
<text transform="translate(3932.60,410.55) scale(1.08,1)" font-size="7.0" text-anchor="start" fill="#262626"><tspan dy="0">Te</tspan><tspan dy="1.4" font-size="78%" font-style="italic">int</tspan><tspan dy="-1.4">&#8203;</tspan><tspan dy="0">+Te</tspan><tspan dy="1.4" font-size="78%" font-style="italic">Cd</tspan><tspan dy="-1.4">&#8203;</tspan></text>
<text transform="translate(3954.55,577.40) scale(1.12,1)" font-size="7.8" text-anchor="middle" fill="#262626">Fermi Level [eV]</text>
<text transform="translate(3837.80,461.40) rotate(-90) scale(1.15,1)" font-size="7.8" text-anchor="middle" fill="#262626">Defect Formation Energy [eV]</text>
<text transform="translate(3943.50,601.00)" font-size="14.6" text-anchor="middle" fill="#000">(d)</text>
<rect x="4084.60" y="366.10" width="201.50" height="193.60" fill="#fff" stroke="none"/>
<text transform="translate(4093.70,566.60) scale(1.16,1)" font-size="7.4" text-anchor="middle" fill="#262626">0.00</text>
<text transform="translate(4127.32,566.60) scale(1.16,1)" font-size="7.4" text-anchor="middle" fill="#262626">0.25</text>
<text transform="translate(4160.94,566.60) scale(1.16,1)" font-size="7.4" text-anchor="middle" fill="#262626">0.50</text>
<text transform="translate(4194.56,566.60) scale(1.16,1)" font-size="7.4" text-anchor="middle" fill="#262626">0.75</text>
<text transform="translate(4228.18,566.60) scale(1.16,1)" font-size="7.4" text-anchor="middle" fill="#262626">1.00</text>
<text transform="translate(4261.80,566.60) scale(1.16,1)" font-size="7.4" text-anchor="middle" fill="#262626">1.25</text>
<text transform="translate(4081.20,561.90) scale(1.16,1)" font-size="7.4" text-anchor="end" fill="#262626">−1</text>
<text transform="translate(4081.20,537.00) scale(1.16,1)" font-size="7.4" text-anchor="end" fill="#262626">0</text>
<text transform="translate(4081.20,512.10) scale(1.16,1)" font-size="7.4" text-anchor="end" fill="#262626">1</text>
<text transform="translate(4081.20,487.20) scale(1.16,1)" font-size="7.4" text-anchor="end" fill="#262626">2</text>
<text transform="translate(4081.20,462.30) scale(1.16,1)" font-size="7.4" text-anchor="end" fill="#262626">3</text>
<text transform="translate(4081.20,437.40) scale(1.16,1)" font-size="7.4" text-anchor="end" fill="#262626">4</text>
<text transform="translate(4081.20,412.50) scale(1.16,1)" font-size="7.4" text-anchor="end" fill="#262626">5</text>
<text transform="translate(4081.20,387.60) scale(1.16,1)" font-size="7.4" text-anchor="end" fill="#262626">6</text>
<path d="M4093.70,366.10V559.70M4127.32,366.10V559.70M4160.94,366.10V559.70M4194.56,366.10V559.70M4228.18,366.10V559.70M4261.80,366.10V559.70M4084.60,559.30H4286.10M4084.60,534.40H4286.10M4084.60,509.50H4286.10M4084.60,484.60H4286.10M4084.60,459.70H4286.10M4084.60,434.80H4286.10M4084.60,409.90H4286.10M4084.60,385.00H4286.10" stroke="#e2e2e2" stroke-width="0.7" fill="none"/>
<rect x="4084.60" y="366.10" width="201.50" height="193.60" fill="none" stroke="#d4d4d4" stroke-width="0.8"/>
<path d="M4093.70,486.34L4113.87,486.34L4134.04,490.08L4276.59,542.87" stroke="#1f77b4" stroke-width="1.25" fill="none" stroke-linejoin="round"/>
<path d="M4093.70,517.47L4276.59,450.24" stroke="#ff7f0e" stroke-width="1.25" fill="none" stroke-linejoin="round"/>
<path d="M4093.70,464.93L4276.59,397.95" stroke="#2ca02c" stroke-width="1.25" fill="none" stroke-linejoin="round"/>
<path d="M4093.70,521.20L4124.63,509.50L4150.18,505.27L4276.59,505.27" stroke="#d62728" stroke-width="1.25" fill="none" stroke-linejoin="round"/>
<path d="M4093.70,509.50L4202.63,489.08L4276.59,489.08" stroke="#9467bd" stroke-width="1.25" fill="none" stroke-linejoin="round"/>
<path d="M4093.70,521.20L4276.59,454.22" stroke="#8c564b" stroke-width="1.25" fill="none" stroke-linejoin="round"/>
<path d="M4093.70,509.50L4150.18,488.33L4276.59,488.33" stroke="#e377c2" stroke-width="1.25" fill="none" stroke-linejoin="round"/>
<path d="M4093.70,479.12L4276.59,479.12" stroke="#7f7f7f" stroke-width="1.25" fill="none" stroke-linejoin="round"/>
<path d="M4093.70,482.86L4276.59,482.86" stroke="#bcbd22" stroke-width="1.25" fill="none" stroke-linejoin="round"/>
<line x1="4093.70" y1="366.10" x2="4093.70" y2="559.70" stroke="#000" stroke-width="1.15" stroke-dasharray="4.2 1.8"/>
<line x1="4276.59" y1="366.10" x2="4276.59" y2="559.70" stroke="#000" stroke-width="1.15" stroke-dasharray="4.2 1.8"/>
<rect x="4088.60" y="369.30" width="112.5" height="55.8" rx="1.5" fill="#d6d6d6" fill-opacity="0.86"/>
<line x1="4091.20" y1="375.80" x2="4106.50" y2="375.80" stroke="#1f77b4" stroke-width="1.25"/>
<text transform="translate(4111.50,378.30) scale(1.08,1)" font-size="7.0" text-anchor="start" fill="#262626"><tspan dy="0">V</tspan><tspan dy="1.4" font-size="78%" font-style="italic">Cd</tspan><tspan dy="-1.4">&#8203;</tspan></text>
<line x1="4091.20" y1="386.55" x2="4106.50" y2="386.55" stroke="#ff7f0e" stroke-width="1.25"/>
<text transform="translate(4111.50,389.05) scale(1.08,1)" font-size="7.0" text-anchor="start" fill="#262626"><tspan dy="0">V</tspan><tspan dy="1.4" font-size="78%" font-style="italic">Te</tspan><tspan dy="-1.4">&#8203;</tspan></text>
<line x1="4091.20" y1="397.30" x2="4106.50" y2="397.30" stroke="#2ca02c" stroke-width="1.25"/>
<text transform="translate(4111.50,399.80) scale(1.08,1)" font-size="7.0" text-anchor="start" fill="#262626"><tspan dy="0">Cd</tspan><tspan dy="1.4" font-size="78%" font-style="italic">Te</tspan><tspan dy="-1.4">&#8203;</tspan></text>
<line x1="4091.20" y1="408.05" x2="4106.50" y2="408.05" stroke="#d62728" stroke-width="1.25"/>
<text transform="translate(4111.50,410.55) scale(1.08,1)" font-size="7.0" text-anchor="start" fill="#262626"><tspan dy="0">Te</tspan><tspan dy="1.4" font-size="78%" font-style="italic">Cd</tspan><tspan dy="-1.4">&#8203;</tspan></text>
<line x1="4091.20" y1="418.80" x2="4106.50" y2="418.80" stroke="#9467bd" stroke-width="1.25"/>
<text transform="translate(4111.50,421.30) scale(1.08,1)" font-size="7.0" text-anchor="start" fill="#262626"><tspan dy="0">Se</tspan><tspan dy="1.4" font-size="78%" font-style="italic">Cd</tspan><tspan dy="-1.4">&#8203;</tspan></text>
<line x1="4143.10" y1="375.80" x2="4158.40" y2="375.80" stroke="#8c564b" stroke-width="1.25"/>
<text transform="translate(4163.40,378.30) scale(1.08,1)" font-size="7.0" text-anchor="start" fill="#262626"><tspan dy="0">Cd</tspan><tspan dy="1.4" font-size="78%" font-style="italic">int</tspan><tspan dy="-1.4">&#8203;</tspan></text>
<line x1="4143.10" y1="386.55" x2="4158.40" y2="386.55" stroke="#e377c2" stroke-width="1.25"/>
<text transform="translate(4163.40,389.05) scale(1.08,1)" font-size="7.0" text-anchor="start" fill="#262626"><tspan dy="0">Te</tspan><tspan dy="1.4" font-size="78%" font-style="italic">int</tspan><tspan dy="-1.4">&#8203;</tspan></text>
<line x1="4143.10" y1="397.30" x2="4158.40" y2="397.30" stroke="#7f7f7f" stroke-width="1.25"/>
<text transform="translate(4163.40,399.80) scale(1.08,1)" font-size="7.0" text-anchor="start" fill="#262626"><tspan dy="0">V</tspan><tspan dy="1.4" font-size="78%" font-style="italic">Cd</tspan><tspan dy="-1.4">&#8203;</tspan><tspan dy="0">+Te</tspan><tspan dy="1.4" font-size="78%" font-style="italic">Cd</tspan><tspan dy="-1.4">&#8203;</tspan></text>
<line x1="4143.10" y1="408.05" x2="4158.40" y2="408.05" stroke="#bcbd22" stroke-width="1.25"/>
<text transform="translate(4163.40,410.55) scale(1.08,1)" font-size="7.0" text-anchor="start" fill="#262626"><tspan dy="0">Te</tspan><tspan dy="1.4" font-size="78%" font-style="italic">int</tspan><tspan dy="-1.4">&#8203;</tspan><tspan dy="0">+Te</tspan><tspan dy="1.4" font-size="78%" font-style="italic">Cd</tspan><tspan dy="-1.4">&#8203;</tspan></text>
<text transform="translate(4185.35,577.40) scale(1.12,1)" font-size="7.8" text-anchor="middle" fill="#262626">Fermi Level [eV]</text>
<text transform="translate(4068.60,461.40) rotate(-90) scale(1.15,1)" font-size="7.8" text-anchor="middle" fill="#262626">Defect Formation Energy [eV]</text>
<text transform="translate(4174.00,601.00)" font-size="14.6" text-anchor="middle" fill="#000">(e)</text>
<rect x="4315.40" y="366.10" width="201.50" height="193.60" fill="#fff" stroke="none"/>
<text transform="translate(4324.50,566.60) scale(1.16,1)" font-size="7.4" text-anchor="middle" fill="#262626">0.00</text>
<text transform="translate(4358.68,566.60) scale(1.16,1)" font-size="7.4" text-anchor="middle" fill="#262626">0.25</text>
<text transform="translate(4392.86,566.60) scale(1.16,1)" font-size="7.4" text-anchor="middle" fill="#262626">0.50</text>
<text transform="translate(4427.04,566.60) scale(1.16,1)" font-size="7.4" text-anchor="middle" fill="#262626">0.75</text>
<text transform="translate(4461.22,566.60) scale(1.16,1)" font-size="7.4" text-anchor="middle" fill="#262626">1.00</text>
<text transform="translate(4495.40,566.60) scale(1.16,1)" font-size="7.4" text-anchor="middle" fill="#262626">1.25</text>
<text transform="translate(4312.00,561.90) scale(1.16,1)" font-size="7.4" text-anchor="end" fill="#262626">−1</text>
<text transform="translate(4312.00,537.00) scale(1.16,1)" font-size="7.4" text-anchor="end" fill="#262626">0</text>
<text transform="translate(4312.00,512.10) scale(1.16,1)" font-size="7.4" text-anchor="end" fill="#262626">1</text>
<text transform="translate(4312.00,487.20) scale(1.16,1)" font-size="7.4" text-anchor="end" fill="#262626">2</text>
<text transform="translate(4312.00,462.30) scale(1.16,1)" font-size="7.4" text-anchor="end" fill="#262626">3</text>
<text transform="translate(4312.00,437.40) scale(1.16,1)" font-size="7.4" text-anchor="end" fill="#262626">4</text>
<text transform="translate(4312.00,412.50) scale(1.16,1)" font-size="7.4" text-anchor="end" fill="#262626">5</text>
<text transform="translate(4312.00,387.60) scale(1.16,1)" font-size="7.4" text-anchor="end" fill="#262626">6</text>
<path d="M4324.50,366.10V559.70M4358.68,366.10V559.70M4392.86,366.10V559.70M4427.04,366.10V559.70M4461.22,366.10V559.70M4495.40,366.10V559.70M4315.40,559.30H4516.90M4315.40,534.40H4516.90M4315.40,509.50H4516.90M4315.40,484.60H4516.90M4315.40,459.70H4516.90M4315.40,434.80H4516.90M4315.40,409.90H4516.90M4315.40,385.00H4516.90" stroke="#e2e2e2" stroke-width="0.7" fill="none"/>
<rect x="4315.40" y="366.10" width="201.50" height="193.60" fill="none" stroke="#d4d4d4" stroke-width="0.8"/>
<path d="M4324.50,483.35L4342.27,483.35L4373.72,489.08L4507.70,537.89" stroke="#1f77b4" stroke-width="1.25" fill="none" stroke-linejoin="round"/>
<path d="M4324.50,517.47L4507.70,450.98" stroke="#ff7f0e" stroke-width="1.25" fill="none" stroke-linejoin="round"/>
<path d="M4324.50,467.67L4507.70,401.68" stroke="#2ca02c" stroke-width="1.25" fill="none" stroke-linejoin="round"/>
<path d="M4324.50,515.72L4338.17,511.49L4387.39,502.53L4507.70,502.53" stroke="#d62728" stroke-width="1.25" fill="none" stroke-linejoin="round"/>
<path d="M4324.50,503.77L4342.27,497.55L4507.70,497.55" stroke="#9467bd" stroke-width="1.25" fill="none" stroke-linejoin="round"/>
<path d="M4324.50,522.95L4507.70,456.46" stroke="#8c564b" stroke-width="1.25" fill="none" stroke-linejoin="round"/>
<path d="M4324.50,511.24L4384.66,489.33L4507.70,489.33" stroke="#e377c2" stroke-width="1.25" fill="none" stroke-linejoin="round"/>
<path d="M4324.50,477.13L4507.70,477.13" stroke="#7f7f7f" stroke-width="1.25" fill="none" stroke-linejoin="round"/>
<path d="M4324.50,484.10L4507.70,484.10" stroke="#bcbd22" stroke-width="1.25" fill="none" stroke-linejoin="round"/>
<line x1="4324.50" y1="366.10" x2="4324.50" y2="559.70" stroke="#000" stroke-width="1.15" stroke-dasharray="4.2 1.8"/>
<line x1="4507.70" y1="366.10" x2="4507.70" y2="559.70" stroke="#000" stroke-width="1.15" stroke-dasharray="4.2 1.8"/>
<rect x="4319.40" y="369.30" width="112.5" height="55.8" rx="1.5" fill="#d6d6d6" fill-opacity="0.86"/>
<line x1="4322.00" y1="375.80" x2="4337.30" y2="375.80" stroke="#1f77b4" stroke-width="1.25"/>
<text transform="translate(4342.30,378.30) scale(1.08,1)" font-size="7.0" text-anchor="start" fill="#262626"><tspan dy="0">V</tspan><tspan dy="1.4" font-size="78%" font-style="italic">Cd</tspan><tspan dy="-1.4">&#8203;</tspan></text>
<line x1="4322.00" y1="386.55" x2="4337.30" y2="386.55" stroke="#ff7f0e" stroke-width="1.25"/>
<text transform="translate(4342.30,389.05) scale(1.08,1)" font-size="7.0" text-anchor="start" fill="#262626"><tspan dy="0">V</tspan><tspan dy="1.4" font-size="78%" font-style="italic">Te</tspan><tspan dy="-1.4">&#8203;</tspan></text>
<line x1="4322.00" y1="397.30" x2="4337.30" y2="397.30" stroke="#2ca02c" stroke-width="1.25"/>
<text transform="translate(4342.30,399.80) scale(1.08,1)" font-size="7.0" text-anchor="start" fill="#262626"><tspan dy="0">Cd</tspan><tspan dy="1.4" font-size="78%" font-style="italic">Te</tspan><tspan dy="-1.4">&#8203;</tspan></text>
<line x1="4322.00" y1="408.05" x2="4337.30" y2="408.05" stroke="#d62728" stroke-width="1.25"/>
<text transform="translate(4342.30,410.55) scale(1.08,1)" font-size="7.0" text-anchor="start" fill="#262626"><tspan dy="0">Te</tspan><tspan dy="1.4" font-size="78%" font-style="italic">Cd</tspan><tspan dy="-1.4">&#8203;</tspan></text>
<line x1="4322.00" y1="418.80" x2="4337.30" y2="418.80" stroke="#9467bd" stroke-width="1.25"/>
<text transform="translate(4342.30,421.30) scale(1.08,1)" font-size="7.0" text-anchor="start" fill="#262626"><tspan dy="0">Se</tspan><tspan dy="1.4" font-size="78%" font-style="italic">Cd</tspan><tspan dy="-1.4">&#8203;</tspan></text>
<line x1="4373.90" y1="375.80" x2="4389.20" y2="375.80" stroke="#8c564b" stroke-width="1.25"/>
<text transform="translate(4394.20,378.30) scale(1.08,1)" font-size="7.0" text-anchor="start" fill="#262626"><tspan dy="0">Cd</tspan><tspan dy="1.4" font-size="78%" font-style="italic">int</tspan><tspan dy="-1.4">&#8203;</tspan></text>
<line x1="4373.90" y1="386.55" x2="4389.20" y2="386.55" stroke="#e377c2" stroke-width="1.25"/>
<text transform="translate(4394.20,389.05) scale(1.08,1)" font-size="7.0" text-anchor="start" fill="#262626"><tspan dy="0">Te</tspan><tspan dy="1.4" font-size="78%" font-style="italic">int</tspan><tspan dy="-1.4">&#8203;</tspan></text>
<line x1="4373.90" y1="397.30" x2="4389.20" y2="397.30" stroke="#7f7f7f" stroke-width="1.25"/>
<text transform="translate(4394.20,399.80) scale(1.08,1)" font-size="7.0" text-anchor="start" fill="#262626"><tspan dy="0">V</tspan><tspan dy="1.4" font-size="78%" font-style="italic">Cd</tspan><tspan dy="-1.4">&#8203;</tspan><tspan dy="0">+Te</tspan><tspan dy="1.4" font-size="78%" font-style="italic">Cd</tspan><tspan dy="-1.4">&#8203;</tspan></text>
<line x1="4373.90" y1="408.05" x2="4389.20" y2="408.05" stroke="#bcbd22" stroke-width="1.25"/>
<text transform="translate(4394.20,410.55) scale(1.08,1)" font-size="7.0" text-anchor="start" fill="#262626"><tspan dy="0">Te</tspan><tspan dy="1.4" font-size="78%" font-style="italic">int</tspan><tspan dy="-1.4">&#8203;</tspan><tspan dy="0">+Te</tspan><tspan dy="1.4" font-size="78%" font-style="italic">Cd</tspan><tspan dy="-1.4">&#8203;</tspan></text>
<text transform="translate(4416.15,577.40) scale(1.12,1)" font-size="7.8" text-anchor="middle" fill="#262626">Fermi Level [eV]</text>
<text transform="translate(4299.40,461.40) rotate(-90) scale(1.15,1)" font-size="7.8" text-anchor="middle" fill="#262626">Defect Formation Energy [eV]</text>
<text transform="translate(4405.00,601.00)" font-size="14.6" text-anchor="middle" fill="#000">(f)</text>
<path d="M3830.30,753.10V860.70H3970.00" stroke="#333" stroke-width="0.7" fill="none"/>
<path d="M3830.30,860.70v-1.8" stroke="#333" stroke-width="0.6"/>
<text transform="translate(3830.30,868.10) scale(1.1,1)" font-size="5.9" text-anchor="middle" fill="#222">−10</text>
<path d="M3850.13,860.70v-1.8" stroke="#333" stroke-width="0.6"/>
<text transform="translate(3850.13,868.10) scale(1.1,1)" font-size="5.9" text-anchor="middle" fill="#222">−5</text>
<path d="M3869.96,860.70v-1.8" stroke="#333" stroke-width="0.6"/>
<text transform="translate(3869.96,868.10) scale(1.1,1)" font-size="5.9" text-anchor="middle" fill="#222">0</text>
<path d="M3889.79,860.70v-1.8" stroke="#333" stroke-width="0.6"/>
<text transform="translate(3889.79,868.10) scale(1.1,1)" font-size="5.9" text-anchor="middle" fill="#222">5</text>
<path d="M3909.62,860.70v-1.8" stroke="#333" stroke-width="0.6"/>
<text transform="translate(3909.62,868.10) scale(1.1,1)" font-size="5.9" text-anchor="middle" fill="#222">10</text>
<path d="M3929.45,860.70v-1.8" stroke="#333" stroke-width="0.6"/>
<text transform="translate(3929.45,868.10) scale(1.1,1)" font-size="5.9" text-anchor="middle" fill="#222">15</text>
<path d="M3949.28,860.70v-1.8" stroke="#333" stroke-width="0.6"/>
<text transform="translate(3949.28,868.10) scale(1.1,1)" font-size="5.9" text-anchor="middle" fill="#222">20</text>
<path d="M3969.11,860.70v-1.8" stroke="#333" stroke-width="0.6"/>
<text transform="translate(3969.11,868.10) scale(1.1,1)" font-size="5.9" text-anchor="middle" fill="#222">25</text>
<path d="M3830.30,859.00h1.8" stroke="#333" stroke-width="0.6"/>
<text transform="translate(3828.10,861.10) scale(1.1,1)" font-size="5.9" text-anchor="end" fill="#222">0</text>
<path d="M3830.30,837.83h1.8" stroke="#333" stroke-width="0.6"/>
<text transform="translate(3828.10,839.93) scale(1.1,1)" font-size="5.9" text-anchor="end" fill="#222">1</text>
<path d="M3830.30,816.66h1.8" stroke="#333" stroke-width="0.6"/>
<text transform="translate(3828.10,818.76) scale(1.1,1)" font-size="5.9" text-anchor="end" fill="#222">2</text>
<path d="M3830.30,795.49h1.8" stroke="#333" stroke-width="0.6"/>
<text transform="translate(3828.10,797.59) scale(1.1,1)" font-size="5.9" text-anchor="end" fill="#222">3</text>
<path d="M3830.30,774.32h1.8" stroke="#333" stroke-width="0.6"/>
<text transform="translate(3828.10,776.42) scale(1.1,1)" font-size="5.9" text-anchor="end" fill="#222">4</text>
<path d="M3830.30,753.15h1.8" stroke="#333" stroke-width="0.6"/>
<text transform="translate(3828.10,755.25) scale(1.1,1)" font-size="5.9" text-anchor="end" fill="#222">5</text>
<path d="M3830.30,753.10V860.70M3850.13,753.10V860.70M3869.96,753.10V860.70M3889.79,753.10V860.70M3909.62,753.10V860.70M3929.45,753.10V860.70M3949.28,753.10V860.70M3969.11,753.10V860.70M3830.30,859.00H3970.00M3830.30,837.83H3970.00M3830.30,816.66H3970.00M3830.30,795.49H3970.00M3830.30,774.32H3970.00M3830.30,753.15H3970.00" stroke="#efefef" stroke-width="0.5" fill="none"/>
<text transform="translate(3899.00,879.70) scale(1.1,1)" font-size="7.9" text-anchor="middle" fill="#222">Q (amu<tspan dy="-2.8" font-size="78%">1/2</tspan><tspan dy="2.8"> Å)</tspan></text>
<text transform="translate(3820.10,808.40) rotate(-90) scale(1.12,1)" font-size="7.9" text-anchor="middle" fill="#222">Energy&#160; (eV)</text>
<clipPath id="c3a"><rect x="3830.3" y="752.6" width="140.69999999999982" height="108.60000000000002"/></clipPath>
<path d="M3830.30,755.27C3832.28,761.44 3837.77,781.55 3842.20,792.31C3846.63,803.08 3853.24,814.30 3856.87,819.84C3860.51,825.37 3861.83,824.32 3864.01,825.55C3866.19,826.79 3867.65,827.25 3869.96,827.25C3872.27,827.25 3874.59,826.43 3877.89,825.55C3881.20,824.67 3884.50,823.79 3889.79,821.95C3895.08,820.12 3902.02,818.18 3909.62,814.54C3917.22,810.91 3928.99,803.85 3935.40,800.15C3941.81,796.44 3944.79,795.74 3948.09,792.31C3951.40,788.89 3953.05,785.08 3955.23,779.61C3957.41,774.14 3959.53,766.03 3961.18,759.50C3962.83,752.97 3964.48,743.62 3965.14,740.45" stroke="#f5c9a0" stroke-width="1.75" fill="none" clip-path="url(#c3a)"/>
<path d="M3830.30,777.50C3832.28,781.38 3837.77,793.37 3842.20,800.78C3846.63,808.19 3853.24,817.44 3856.87,821.95C3860.51,826.47 3861.83,826.54 3864.01,827.88C3866.19,829.22 3867.65,829.86 3869.96,830.00C3872.27,830.14 3874.59,829.54 3877.89,828.73C3881.20,827.92 3885.82,826.01 3889.79,825.13C3893.76,824.25 3898.38,823.68 3901.69,823.43C3904.99,823.19 3906.32,823.01 3909.62,823.65C3912.93,824.28 3917.22,826.05 3921.52,827.25C3925.81,828.44 3932.09,830.49 3935.40,830.84C3938.70,831.20 3939.03,830.67 3941.35,829.36C3943.66,828.06 3946.97,826.19 3949.28,823.01C3951.59,819.84 3953.25,815.95 3955.23,810.31C3957.21,804.66 3959.39,796.55 3961.18,789.14C3962.96,781.73 3964.62,772.91 3965.94,765.85C3967.26,758.80 3968.58,749.97 3969.11,746.80" stroke="#4c92c3" stroke-width="1.75" fill="none" clip-path="url(#c3a)"/>
<path d="M3830.30,784.90C3832.28,791.08 3837.77,810.73 3842.20,821.95C3846.63,833.17 3853.24,846.30 3856.87,852.23C3860.51,858.15 3861.83,856.39 3864.01,857.52C3866.19,858.65 3867.65,858.96 3869.96,859.00C3872.27,859.04 3874.59,858.61 3877.89,857.73C3881.20,856.85 3884.50,855.54 3889.79,853.71C3895.08,851.87 3902.02,850.32 3909.62,846.72C3917.22,843.12 3930.11,834.94 3935.40,832.11C3940.69,829.29 3939.23,831.02 3941.35,829.79C3943.46,828.55 3945.78,827.77 3948.09,824.70C3950.40,821.63 3953.05,816.94 3955.23,811.37C3957.41,805.79 3959.39,798.14 3961.18,791.26C3962.96,784.38 3964.62,776.26 3965.94,770.09C3967.26,763.91 3968.58,756.85 3969.11,754.21" stroke="#e1772c" stroke-width="1.75" fill="none" clip-path="url(#c3a)"/>
<circle cx="3856.87" cy="819.84" r="1.7" fill="none" stroke="#9a7650" stroke-width="0.62"/>
<circle cx="3863.61" cy="825.55" r="1.7" fill="none" stroke="#9a7650" stroke-width="0.62"/>
<circle cx="3869.96" cy="827.25" r="1.7" fill="none" stroke="#9a7650" stroke-width="0.62"/>
<circle cx="3876.31" cy="825.97" r="1.7" fill="none" stroke="#9a7650" stroke-width="0.62"/>
<circle cx="3882.65" cy="824.07" r="1.7" fill="none" stroke="#9a7650" stroke-width="0.62"/>
<circle cx="3889.39" cy="821.95" r="1.7" fill="none" stroke="#9a7650" stroke-width="0.62"/>
<circle cx="3895.74" cy="819.84" r="1.7" fill="none" stroke="#9a7650" stroke-width="0.62"/>
<circle cx="3908.83" cy="814.97" r="1.7" fill="none" stroke="#9a7650" stroke-width="0.62"/>
<circle cx="3935.40" cy="800.15" r="1.7" fill="none" stroke="#9a7650" stroke-width="0.62"/>
<circle cx="3948.09" cy="792.31" r="1.7" fill="none" stroke="#9a7650" stroke-width="0.62"/>
<circle cx="3961.18" cy="759.50" r="1.7" fill="none" stroke="#9a7650" stroke-width="0.62"/>
<circle cx="3856.87" cy="821.95" r="1.7" fill="none" stroke="#1f4f74" stroke-width="0.62"/>
<circle cx="3869.96" cy="830.00" r="1.7" fill="none" stroke="#1f4f74" stroke-width="0.62"/>
<circle cx="3895.74" cy="824.07" r="1.7" fill="none" stroke="#1f4f74" stroke-width="0.62"/>
<circle cx="3908.83" cy="823.65" r="1.7" fill="none" stroke="#1f4f74" stroke-width="0.62"/>
<circle cx="3915.57" cy="825.13" r="1.7" fill="none" stroke="#1f4f74" stroke-width="0.62"/>
<circle cx="3921.91" cy="827.25" r="1.7" fill="none" stroke="#1f4f74" stroke-width="0.62"/>
<circle cx="3928.66" cy="829.36" r="1.7" fill="none" stroke="#1f4f74" stroke-width="0.62"/>
<circle cx="3935.40" cy="830.84" r="1.7" fill="none" stroke="#1f4f74" stroke-width="0.62"/>
<circle cx="3941.35" cy="829.36" r="1.7" fill="none" stroke="#1f4f74" stroke-width="0.62"/>
<circle cx="3948.09" cy="824.70" r="1.7" fill="none" stroke="#1f4f74" stroke-width="0.62"/>
<circle cx="3856.87" cy="852.23" r="1.7" fill="none" stroke="#7f3f12" stroke-width="0.62"/>
<circle cx="3863.61" cy="857.52" r="1.7" fill="none" stroke="#7f3f12" stroke-width="0.62"/>
<circle cx="3869.96" cy="859.00" r="1.7" fill="none" stroke="#7f3f12" stroke-width="0.62"/>
<circle cx="3876.31" cy="857.94" r="1.7" fill="none" stroke="#7f3f12" stroke-width="0.62"/>
<circle cx="3882.65" cy="856.04" r="1.7" fill="none" stroke="#7f3f12" stroke-width="0.62"/>
<circle cx="3889.39" cy="853.71" r="1.7" fill="none" stroke="#7f3f12" stroke-width="0.62"/>
<circle cx="3895.74" cy="851.59" r="1.7" fill="none" stroke="#7f3f12" stroke-width="0.62"/>
<circle cx="3908.83" cy="846.93" r="1.7" fill="none" stroke="#7f3f12" stroke-width="0.62"/>
<circle cx="3935.40" cy="832.11" r="1.7" fill="none" stroke="#7f3f12" stroke-width="0.62"/>
<circle cx="3948.09" cy="824.70" r="1.7" fill="none" stroke="#7f3f12" stroke-width="0.62"/>
<circle cx="3954.83" cy="812.43" r="1.7" fill="none" stroke="#7f3f12" stroke-width="0.62"/>
<circle cx="3961.18" cy="791.26" r="1.7" fill="none" stroke="#7f3f12" stroke-width="0.62"/>
<path d="M3997.60,753.10V860.70H4136.90" stroke="#333" stroke-width="0.7" fill="none"/>
<path d="M3997.60,860.70v-1.8" stroke="#333" stroke-width="0.6"/>
<text transform="translate(3997.60,868.10) scale(1.1,1)" font-size="5.9" text-anchor="middle" fill="#222">−10</text>
<path d="M4032.43,860.70v-1.8" stroke="#333" stroke-width="0.6"/>
<text transform="translate(4032.43,868.10) scale(1.1,1)" font-size="5.9" text-anchor="middle" fill="#222">−5</text>
<path d="M4067.26,860.70v-1.8" stroke="#333" stroke-width="0.6"/>
<text transform="translate(4067.26,868.10) scale(1.1,1)" font-size="5.9" text-anchor="middle" fill="#222">0</text>
<path d="M4102.09,860.70v-1.8" stroke="#333" stroke-width="0.6"/>
<text transform="translate(4102.09,868.10) scale(1.1,1)" font-size="5.9" text-anchor="middle" fill="#222">5</text>
<path d="M4136.92,860.70v-1.8" stroke="#333" stroke-width="0.6"/>
<text transform="translate(4136.92,868.10) scale(1.1,1)" font-size="5.9" text-anchor="middle" fill="#222">10</text>
<path d="M3997.60,857.90h1.8" stroke="#333" stroke-width="0.6"/>
<text transform="translate(3995.40,860.00) scale(1.1,1)" font-size="5.9" text-anchor="end" fill="#222">0</text>
<path d="M3997.60,822.97h1.8" stroke="#333" stroke-width="0.6"/>
<text transform="translate(3995.40,825.07) scale(1.1,1)" font-size="5.9" text-anchor="end" fill="#222">1</text>
<path d="M3997.60,788.04h1.8" stroke="#333" stroke-width="0.6"/>
<text transform="translate(3995.40,790.14) scale(1.1,1)" font-size="5.9" text-anchor="end" fill="#222">2</text>
<path d="M3997.60,753.11h1.8" stroke="#333" stroke-width="0.6"/>
<text transform="translate(3995.40,755.21) scale(1.1,1)" font-size="5.9" text-anchor="end" fill="#222">3</text>
<path d="M3997.60,753.10V860.70M4032.43,753.10V860.70M4067.26,753.10V860.70M4102.09,753.10V860.70M4136.92,753.10V860.70M3997.60,857.90H4136.90M3997.60,822.97H4136.90M3997.60,788.04H4136.90M3997.60,753.11H4136.90" stroke="#efefef" stroke-width="0.5" fill="none"/>
<text transform="translate(4066.00,879.70) scale(1.1,1)" font-size="7.9" text-anchor="middle" fill="#222">Q (amu<tspan dy="-2.8" font-size="78%">1/2</tspan><tspan dy="2.8"> Å)</tspan></text>
<text transform="translate(3987.40,808.40) rotate(-90) scale(1.12,1)" font-size="7.9" text-anchor="middle" fill="#222">Energy&#160; (eV)</text>
<path d="M3999.69,756.54L4003.07,761.31L4006.45,765.84L4009.83,770.12L4013.20,774.16L4016.58,777.96L4019.96,781.51L4023.34,784.82L4026.72,787.88L4030.10,790.69L4033.47,793.26L4036.85,795.59L4040.23,797.67L4043.61,799.51L4046.99,801.10L4050.37,802.44L4053.75,803.55L4057.12,804.40L4060.50,805.02L4063.88,805.38L4067.26,805.50L4070.64,805.38L4074.02,805.02L4077.40,804.40L4080.77,803.55L4084.15,802.44L4087.53,801.10L4090.91,799.51L4094.29,797.67L4097.67,795.59L4101.05,793.26L4104.42,790.69L4107.80,787.88L4111.18,784.82L4114.56,781.51L4117.94,777.96L4121.32,774.16L4124.69,770.12L4128.07,765.84L4131.45,761.31L4134.83,756.54" stroke="#f5c9a0" stroke-width="1.75" fill="none"/>
<path d="M3999.69,758.32L4003.07,763.21L4006.45,767.88L4009.83,772.33L4013.20,776.57L4016.58,780.59L4019.96,784.39L4023.34,787.98L4026.72,791.35L4030.10,794.51L4033.47,797.45L4036.85,800.17L4040.23,802.68L4043.61,804.97L4046.99,807.04L4050.37,808.90L4053.75,810.54L4057.12,811.97L4060.50,813.18L4063.88,814.17L4067.26,814.95L4070.64,815.51L4074.02,815.85L4077.40,815.98L4080.77,815.90L4084.15,815.59L4087.53,815.07L4090.91,814.33L4094.29,813.38L4097.67,812.21L4101.05,810.83L4104.42,809.22L4107.80,807.41L4111.18,805.37L4114.56,803.12L4117.94,800.65L4121.32,797.97L4124.69,795.07L4128.07,791.96L4131.45,788.62L4134.83,785.08" stroke="#4c92c3" stroke-width="1.75" fill="none"/>
<path d="M3999.69,808.60L4003.07,813.41L4006.45,817.97L4009.83,822.28L4013.20,826.35L4016.58,830.17L4019.96,833.74L4023.34,837.07L4026.72,840.15L4030.10,842.99L4033.47,845.58L4036.85,847.92L4040.23,850.01L4043.61,851.86L4046.99,853.46L4050.37,854.82L4053.75,855.93L4057.12,856.79L4060.50,857.41L4063.88,857.78L4067.26,857.90L4070.64,857.78L4074.02,857.41L4077.40,856.79L4080.77,855.93L4084.15,854.82L4087.53,853.46L4090.91,851.86L4094.29,850.01L4097.67,847.92L4101.05,845.58L4104.42,842.99L4107.80,840.15L4111.18,837.07L4114.56,833.74L4117.94,830.17L4121.32,826.35L4124.69,822.28L4128.07,817.97L4131.45,813.41L4134.83,808.60" stroke="#e1772c" stroke-width="1.75" fill="none"/>
<circle cx="4049.15" cy="801.99" r="1.7" fill="none" stroke="#9a7650" stroke-width="0.62"/>
<circle cx="4051.93" cy="802.99" r="1.7" fill="none" stroke="#9a7650" stroke-width="0.62"/>
<circle cx="4054.72" cy="803.82" r="1.7" fill="none" stroke="#9a7650" stroke-width="0.62"/>
<circle cx="4060.29" cy="804.98" r="1.7" fill="none" stroke="#9a7650" stroke-width="0.62"/>
<circle cx="4062.38" cy="805.25" r="1.7" fill="none" stroke="#9a7650" stroke-width="0.62"/>
<circle cx="4064.47" cy="805.42" r="1.7" fill="none" stroke="#9a7650" stroke-width="0.62"/>
<circle cx="4065.87" cy="805.48" r="1.7" fill="none" stroke="#9a7650" stroke-width="0.62"/>
<circle cx="4067.26" cy="805.50" r="1.7" fill="none" stroke="#9a7650" stroke-width="0.62"/>
<circle cx="4068.65" cy="805.48" r="1.7" fill="none" stroke="#9a7650" stroke-width="0.62"/>
<circle cx="4070.05" cy="805.42" r="1.7" fill="none" stroke="#9a7650" stroke-width="0.62"/>
<circle cx="4072.14" cy="805.25" r="1.7" fill="none" stroke="#9a7650" stroke-width="0.62"/>
<circle cx="4074.23" cy="804.98" r="1.7" fill="none" stroke="#9a7650" stroke-width="0.62"/>
<circle cx="4079.80" cy="803.82" r="1.7" fill="none" stroke="#9a7650" stroke-width="0.62"/>
<circle cx="4082.59" cy="802.99" r="1.7" fill="none" stroke="#9a7650" stroke-width="0.62"/>
<circle cx="4085.37" cy="801.99" r="1.7" fill="none" stroke="#9a7650" stroke-width="0.62"/>
<circle cx="4063.08" cy="813.96" r="1.7" fill="none" stroke="#1f4f74" stroke-width="0.62"/>
<circle cx="4065.87" cy="814.66" r="1.7" fill="none" stroke="#1f4f74" stroke-width="0.62"/>
<circle cx="4068.65" cy="815.21" r="1.7" fill="none" stroke="#1f4f74" stroke-width="0.62"/>
<circle cx="4072.83" cy="815.76" r="1.7" fill="none" stroke="#1f4f74" stroke-width="0.62"/>
<circle cx="4074.92" cy="815.91" r="1.7" fill="none" stroke="#1f4f74" stroke-width="0.62"/>
<circle cx="4077.01" cy="815.98" r="1.7" fill="none" stroke="#1f4f74" stroke-width="0.62"/>
<circle cx="4079.10" cy="815.97" r="1.7" fill="none" stroke="#1f4f74" stroke-width="0.62"/>
<circle cx="4081.19" cy="815.87" r="1.7" fill="none" stroke="#1f4f74" stroke-width="0.62"/>
<circle cx="4083.28" cy="815.69" r="1.7" fill="none" stroke="#1f4f74" stroke-width="0.62"/>
<circle cx="4085.37" cy="815.43" r="1.7" fill="none" stroke="#1f4f74" stroke-width="0.62"/>
<circle cx="4088.16" cy="814.95" r="1.7" fill="none" stroke="#1f4f74" stroke-width="0.62"/>
<circle cx="4093.73" cy="813.55" r="1.7" fill="none" stroke="#1f4f74" stroke-width="0.62"/>
<circle cx="4096.52" cy="812.63" r="1.7" fill="none" stroke="#1f4f74" stroke-width="0.62"/>
<circle cx="4099.30" cy="811.57" r="1.7" fill="none" stroke="#1f4f74" stroke-width="0.62"/>
<circle cx="4049.15" cy="854.36" r="1.7" fill="none" stroke="#7f3f12" stroke-width="0.62"/>
<circle cx="4051.93" cy="855.36" r="1.7" fill="none" stroke="#7f3f12" stroke-width="0.62"/>
<circle cx="4054.72" cy="856.20" r="1.7" fill="none" stroke="#7f3f12" stroke-width="0.62"/>
<circle cx="4060.29" cy="857.38" r="1.7" fill="none" stroke="#7f3f12" stroke-width="0.62"/>
<circle cx="4062.38" cy="857.64" r="1.7" fill="none" stroke="#7f3f12" stroke-width="0.62"/>
<circle cx="4064.47" cy="857.82" r="1.7" fill="none" stroke="#7f3f12" stroke-width="0.62"/>
<circle cx="4065.87" cy="857.88" r="1.7" fill="none" stroke="#7f3f12" stroke-width="0.62"/>
<circle cx="4067.26" cy="857.90" r="1.7" fill="none" stroke="#7f3f12" stroke-width="0.62"/>
<circle cx="4068.65" cy="857.88" r="1.7" fill="none" stroke="#7f3f12" stroke-width="0.62"/>
<circle cx="4070.05" cy="857.82" r="1.7" fill="none" stroke="#7f3f12" stroke-width="0.62"/>
<circle cx="4072.14" cy="857.64" r="1.7" fill="none" stroke="#7f3f12" stroke-width="0.62"/>
<circle cx="4074.23" cy="857.38" r="1.7" fill="none" stroke="#7f3f12" stroke-width="0.62"/>
<circle cx="4079.80" cy="856.20" r="1.7" fill="none" stroke="#7f3f12" stroke-width="0.62"/>
<circle cx="4082.59" cy="855.36" r="1.7" fill="none" stroke="#7f3f12" stroke-width="0.62"/>
<circle cx="4085.37" cy="854.36" r="1.7" fill="none" stroke="#7f3f12" stroke-width="0.62"/>
<rect x="3818.30" y="704.50" width="85.1" height="43.1" fill="#fff" stroke="#222" stroke-width="0.6"/>
<line x1="3820.90" y1="714.70" x2="3829.30" y2="714.70" stroke="#f5c9a0" stroke-width="1.2"/>
<text transform="translate(3830.10,716.70)" font-size="7.6" text-anchor="start" fill="#6e6e6e" font-style="italic" style="font-family:'Liberation Serif',serif">V<tspan dy="-3.2" font-size="65%" font-style="normal">−1</tspan><tspan dy="5.2" dx="-5.2" font-size="60%" font-style="normal">Cd</tspan><tspan dy="-2.0">&#8203;</tspan> + e<tspan dy="-3.2" font-size="65%" font-style="normal">−</tspan><tspan dy="5.0" dx="-2.2" font-size="60%" font-style="normal">CBM</tspan><tspan dy="-1.8">&#8203;</tspan> + h<tspan dy="-3.2" font-size="65%" font-style="normal">+</tspan><tspan dy="5.0" dx="-1.8" font-size="60%" font-style="normal">VBM</tspan><tspan dy="-1.8">&#8203;</tspan></text>
<line x1="3820.90" y1="725.50" x2="3829.30" y2="725.50" stroke="#4c92c3" stroke-width="1.2"/>
<text transform="translate(3830.10,727.50)" font-size="7.6" text-anchor="start" fill="#6e6e6e" font-style="italic" style="font-family:'Liberation Serif',serif">V<tspan dy="-3.2" font-size="65%" font-style="normal">0</tspan><tspan dy="5.2" dx="-5.2" font-size="60%" font-style="normal">Cd Dimer</tspan><tspan dy="-2.0">&#8203;</tspan> + e<tspan dy="-3.2" font-size="65%" font-style="normal">−</tspan><tspan dy="5.0" dx="-2.2" font-size="60%" font-style="normal">CBM</tspan><tspan dy="-1.8">&#8203;</tspan></text>
<line x1="3820.90" y1="736.30" x2="3829.30" y2="736.30" stroke="#e1772c" stroke-width="1.2"/>
<text transform="translate(3830.10,738.30)" font-size="7.6" text-anchor="start" fill="#6e6e6e" font-style="italic" style="font-family:'Liberation Serif',serif">V<tspan dy="-3.2" font-size="65%" font-style="normal">−1</tspan><tspan dy="5.2" dx="-5.2" font-size="60%" font-style="normal">Cd</tspan><tspan dy="-2.0">&#8203;</tspan></text>
<rect x="3985.20" y="704.50" width="85.1" height="43.1" fill="#fff" stroke="#222" stroke-width="0.6"/>
<line x1="3987.80" y1="714.70" x2="3996.20" y2="714.70" stroke="#f5c9a0" stroke-width="1.2"/>
<text transform="translate(3997.00,716.70)" font-size="7.6" text-anchor="start" fill="#6e6e6e" font-style="italic" style="font-family:'Liberation Serif',serif">V<tspan dy="-3.2" font-size="65%" font-style="normal">−2</tspan><tspan dy="5.2" dx="-5.2" font-size="60%" font-style="normal">Cd</tspan><tspan dy="-2.0">&#8203;</tspan> + e<tspan dy="-3.2" font-size="65%" font-style="normal">−</tspan><tspan dy="5.0" dx="-2.2" font-size="60%" font-style="normal">CBM</tspan><tspan dy="-1.8">&#8203;</tspan> + h<tspan dy="-3.2" font-size="65%" font-style="normal">+</tspan><tspan dy="5.0" dx="-1.8" font-size="60%" font-style="normal">VBM</tspan><tspan dy="-1.8">&#8203;</tspan></text>
<line x1="3987.80" y1="725.50" x2="3996.20" y2="725.50" stroke="#4c92c3" stroke-width="1.2"/>
<text transform="translate(3997.00,727.50)" font-size="7.6" text-anchor="start" fill="#6e6e6e" font-style="italic" style="font-family:'Liberation Serif',serif">V<tspan dy="-3.2" font-size="65%" font-style="normal">−1</tspan><tspan dy="5.2" dx="-5.2" font-size="60%" font-style="normal">Cd</tspan><tspan dy="-2.0">&#8203;</tspan> + e<tspan dy="-3.2" font-size="65%" font-style="normal">−</tspan><tspan dy="5.0" dx="-2.2" font-size="60%" font-style="normal">CBM</tspan><tspan dy="-1.8">&#8203;</tspan></text>
<line x1="3987.80" y1="736.30" x2="3996.20" y2="736.30" stroke="#e1772c" stroke-width="1.2"/>
<text transform="translate(3997.00,738.30)" font-size="7.6" text-anchor="start" fill="#6e6e6e" font-style="italic" style="font-family:'Liberation Serif',serif">V<tspan dy="-3.2" font-size="65%" font-style="normal">−2</tspan><tspan dy="5.2" dx="-5.2" font-size="60%" font-style="normal">Cd</tspan><tspan dy="-2.0">&#8203;</tspan></text>
<text transform="translate(3891.70,909.30)" font-size="14.6" text-anchor="middle" fill="#000">(a)</text>
<text transform="translate(4058.60,909.30)" font-size="14.6" text-anchor="middle" fill="#000">(b)</text>
<defs><radialGradient id="sph" cx="0.5" cy="0.47" r="0.55" fx="0.5" fy="0.46"><stop offset="0" stop-color="#fffff0"/><stop offset="0.1" stop-color="#ffffd0"/><stop offset="0.24" stop-color="#e4e186"/><stop offset="0.48" stop-color="#a6a34e"/><stop offset="0.8" stop-color="#8a883e"/><stop offset="1" stop-color="#6a6830"/></radialGradient><linearGradient id="bndv" x1="0" x2="1" y1="0" y2="0"><stop offset="0" stop-color="#77753a"/><stop offset="0.45" stop-color="#aaa862"/><stop offset="1" stop-color="#77753a"/></linearGradient></defs>
<line x1="4381.4" y1="772.4" x2="4380.9" y2="698.1" stroke="#77753a" stroke-width="4.3"/>
<line x1="4381.4" y1="772.4" x2="4380.9" y2="698.1" stroke="#a5a35c" stroke-width="1.94"/>
<line x1="4381.4" y1="772.4" x2="4318.4" y2="779.8" stroke="#77753a" stroke-width="4.3"/>
<line x1="4381.4" y1="772.4" x2="4318.4" y2="779.8" stroke="#a5a35c" stroke-width="1.94"/>
<line x1="4381.4" y1="772.4" x2="4424.1" y2="769.4" stroke="#77753a" stroke-width="4.3"/>
<line x1="4381.4" y1="772.4" x2="4424.1" y2="769.4" stroke="#a5a35c" stroke-width="1.94"/>
<circle cx="4380.9" cy="698.1" r="12.0" fill="url(#sph)"/>
<circle cx="4318.4" cy="779.8" r="12.0" fill="url(#sph)"/>
<circle cx="4424.1" cy="769.4" r="12.0" fill="url(#sph)"/>
<circle cx="4381.4" cy="772.4" r="12.0" fill="url(#sph)"/>
<line x1="4381.4" y1="772.4" x2="4404.1" y2="794.2" stroke="#77753a" stroke-width="4.6"/>
<line x1="4381.4" y1="772.4" x2="4404.1" y2="794.2" stroke="#a5a35c" stroke-width="2.07"/>
<circle cx="4404.1" cy="794.2" r="12.3" fill="url(#sph)"/>
<text transform="translate(4381.00,776.30)" font-size="11.0" text-anchor="middle" fill="#000" style="font-family:'Liberation Serif',serif">Te</text>
<text transform="translate(4372.20,739.80)" font-size="11.5" text-anchor="middle" fill="#000" font-style="italic" style="font-family:'Liberation Serif',serif">c</text>
<text transform="translate(4350.50,770.00)" font-size="11.5" text-anchor="middle" fill="#000" font-style="italic" style="font-family:'Liberation Serif',serif">a</text>
<text transform="translate(4403.00,764.00)" font-size="11.5" text-anchor="middle" fill="#000" font-style="italic" style="font-family:'Liberation Serif',serif">a</text>
<text transform="translate(4387.20,794.30)" font-size="11.5" text-anchor="middle" fill="#000" font-style="italic" style="font-family:'Liberation Serif',serif">a</text>
</svg>
</body></html>
